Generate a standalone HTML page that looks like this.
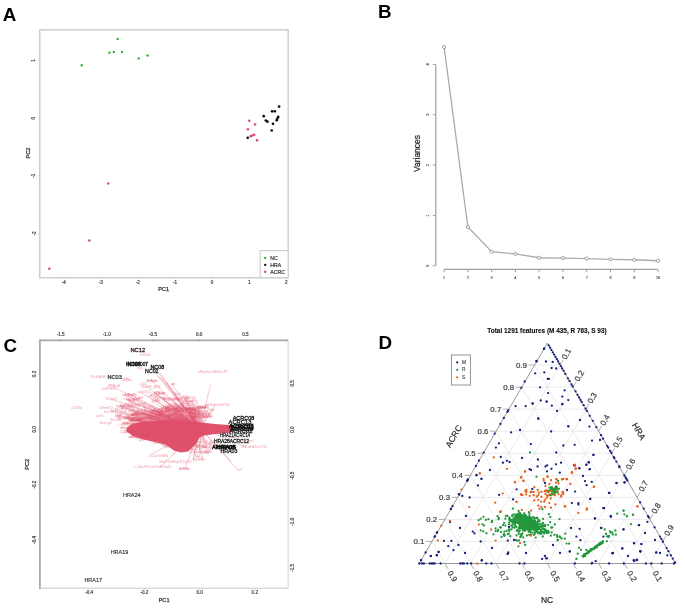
<!DOCTYPE html>
<html><head><meta charset="utf-8"><style>
html,body{margin:0;padding:0;background:#fff;}
svg{display:block;font-family:"Liberation Sans",sans-serif;}
</style></head><body>
<svg width="685" height="614" viewBox="0 0 685 614">
<defs><filter id="bl" x="0" y="0" width="685" height="614" filterUnits="userSpaceOnUse"><feGaussianBlur stdDeviation="0.5"/></filter></defs>
<rect width="685" height="614" fill="#fff"/>
<g filter="url(#bl)">
<rect width="685" height="614" fill="#fff"/>
<text x="2.8" y="20.9" font-size="18.8" font-weight="bold" fill="#000">A</text>
<text x="377.9" y="18.3" font-size="18.8" font-weight="bold" fill="#000">B</text>
<text x="3.6" y="352.0" font-size="18.8" font-weight="bold" fill="#000">C</text>
<rect x="39.7" y="29.8" width="248.50" height="247.90" fill="none" stroke="#cfcfcf" stroke-width="1.5"/>
<line x1="63.70" y1="277.70" x2="63.70" y2="279.30" stroke="#cfcfcf" stroke-width="0.8"/>
<text x="63.70" y="282.40" font-size="4.6" fill="#444" text-anchor="middle" dominant-baseline="central" stroke="#444" stroke-width="0.2">-4</text>
<line x1="100.80" y1="277.70" x2="100.80" y2="279.30" stroke="#cfcfcf" stroke-width="0.8"/>
<text x="100.80" y="282.40" font-size="4.6" fill="#444" text-anchor="middle" dominant-baseline="central" stroke="#444" stroke-width="0.2">-3</text>
<line x1="137.90" y1="277.70" x2="137.90" y2="279.30" stroke="#cfcfcf" stroke-width="0.8"/>
<text x="137.90" y="282.40" font-size="4.6" fill="#444" text-anchor="middle" dominant-baseline="central" stroke="#444" stroke-width="0.2">-2</text>
<line x1="175.00" y1="277.70" x2="175.00" y2="279.30" stroke="#cfcfcf" stroke-width="0.8"/>
<text x="175.00" y="282.40" font-size="4.6" fill="#444" text-anchor="middle" dominant-baseline="central" stroke="#444" stroke-width="0.2">-1</text>
<line x1="212.10" y1="277.70" x2="212.10" y2="279.30" stroke="#cfcfcf" stroke-width="0.8"/>
<text x="212.10" y="282.40" font-size="4.6" fill="#444" text-anchor="middle" dominant-baseline="central" stroke="#444" stroke-width="0.2">0</text>
<line x1="249.20" y1="277.70" x2="249.20" y2="279.30" stroke="#cfcfcf" stroke-width="0.8"/>
<text x="249.20" y="282.40" font-size="4.6" fill="#444" text-anchor="middle" dominant-baseline="central" stroke="#444" stroke-width="0.2">1</text>
<line x1="286.30" y1="277.70" x2="286.30" y2="279.30" stroke="#cfcfcf" stroke-width="0.8"/>
<text x="286.30" y="282.40" font-size="4.6" fill="#444" text-anchor="middle" dominant-baseline="central" stroke="#444" stroke-width="0.2">2</text>
<line x1="38.10" y1="60.40" x2="39.70" y2="60.40" stroke="#cfcfcf" stroke-width="0.8"/>
<text x="34.00" y="60.40" font-size="4.6" fill="#444" text-anchor="middle" dominant-baseline="central" transform="rotate(-90 34.00 60.40)" stroke="#444" stroke-width="0.2">1</text>
<line x1="38.10" y1="118.10" x2="39.70" y2="118.10" stroke="#cfcfcf" stroke-width="0.8"/>
<text x="34.00" y="118.10" font-size="4.6" fill="#444" text-anchor="middle" dominant-baseline="central" transform="rotate(-90 34.00 118.10)" stroke="#444" stroke-width="0.2">0</text>
<line x1="38.10" y1="175.80" x2="39.70" y2="175.80" stroke="#cfcfcf" stroke-width="0.8"/>
<text x="34.00" y="175.80" font-size="4.6" fill="#444" text-anchor="middle" dominant-baseline="central" transform="rotate(-90 34.00 175.80)" stroke="#444" stroke-width="0.2">-1</text>
<line x1="38.10" y1="233.50" x2="39.70" y2="233.50" stroke="#cfcfcf" stroke-width="0.8"/>
<text x="34.00" y="233.50" font-size="4.6" fill="#444" text-anchor="middle" dominant-baseline="central" transform="rotate(-90 34.00 233.50)" stroke="#444" stroke-width="0.2">-2</text>
<text x="163.70" y="289.00" font-size="5.6" fill="#333" text-anchor="middle" dominant-baseline="central" stroke="#333" stroke-width="0.25">PC1</text>
<text x="27.60" y="153.00" font-size="5.6" fill="#333" text-anchor="middle" dominant-baseline="central" transform="rotate(-90 27.60 153.00)" stroke="#333" stroke-width="0.25">PC2</text>
<circle cx="81.70" cy="65.20" r="1.25" fill="#3cb43c"/>
<circle cx="109.40" cy="52.70" r="1.25" fill="#3cb43c"/>
<circle cx="113.80" cy="52.10" r="1.25" fill="#3cb43c"/>
<circle cx="117.60" cy="38.90" r="1.25" fill="#3cb43c"/>
<circle cx="122.00" cy="51.90" r="1.25" fill="#3cb43c"/>
<circle cx="138.70" cy="58.40" r="1.25" fill="#3cb43c"/>
<circle cx="147.60" cy="55.40" r="1.25" fill="#3cb43c"/>
<circle cx="249.30" cy="120.80" r="1.25" fill="#d9476a"/>
<circle cx="255.10" cy="124.40" r="1.25" fill="#d9476a"/>
<circle cx="247.90" cy="129.30" r="1.25" fill="#d9476a"/>
<circle cx="250.60" cy="136.20" r="1.25" fill="#d9476a"/>
<circle cx="252.40" cy="135.50" r="1.25" fill="#d9476a"/>
<circle cx="254.20" cy="134.70" r="1.25" fill="#d9476a"/>
<circle cx="257.00" cy="140.20" r="1.25" fill="#d9476a"/>
<circle cx="108.30" cy="183.60" r="1.25" fill="#d9476a"/>
<circle cx="89.30" cy="240.40" r="1.25" fill="#d9476a"/>
<circle cx="49.30" cy="268.70" r="1.25" fill="#d9476a"/>
<circle cx="279.10" cy="106.60" r="1.35" fill="#111"/>
<circle cx="272.10" cy="111.30" r="1.35" fill="#111"/>
<circle cx="274.80" cy="111.30" r="1.35" fill="#111"/>
<circle cx="263.70" cy="116.20" r="1.35" fill="#111"/>
<circle cx="265.80" cy="120.50" r="1.35" fill="#111"/>
<circle cx="267.40" cy="121.70" r="1.35" fill="#111"/>
<circle cx="278.20" cy="116.90" r="1.35" fill="#111"/>
<circle cx="277.40" cy="118.50" r="1.35" fill="#111"/>
<circle cx="276.70" cy="120.20" r="1.35" fill="#111"/>
<circle cx="273.00" cy="123.80" r="1.35" fill="#111"/>
<circle cx="271.70" cy="130.50" r="1.35" fill="#111"/>
<circle cx="247.70" cy="137.80" r="1.35" fill="#111"/>
<rect x="260.2" y="250.6" width="28.0" height="27.1" fill="#fff" stroke="#cfcfcf" stroke-width="1.2"/>
<circle cx="265.20" cy="258.00" r="1.2" fill="#3cb43c"/>
<text x="270.30" y="258.00" font-size="5.2" fill="#333" text-anchor="start" dominant-baseline="central" stroke="#333" stroke-width="0.2">NC</text>
<circle cx="265.20" cy="264.85" r="1.2" fill="#111"/>
<text x="270.30" y="264.85" font-size="5.2" fill="#333" text-anchor="start" dominant-baseline="central" stroke="#333" stroke-width="0.2">HRA</text>
<circle cx="265.20" cy="271.70" r="1.2" fill="#d9476a"/>
<text x="270.30" y="271.70" font-size="5.2" fill="#333" text-anchor="start" dominant-baseline="central" stroke="#333" stroke-width="0.2">ACRC</text>
<line x1="435.80" y1="64.40" x2="435.80" y2="265.80" stroke="#a0a0a0" stroke-width="1.2"/>
<line x1="432.80" y1="265.80" x2="435.80" y2="265.80" stroke="#a0a0a0" stroke-width="1.0"/>
<text x="428.00" y="265.80" font-size="3.8" fill="#555" text-anchor="middle" dominant-baseline="central" transform="rotate(-90 428.00 265.80)" stroke="#555" stroke-width="0.15">0</text>
<line x1="432.80" y1="215.45" x2="435.80" y2="215.45" stroke="#a0a0a0" stroke-width="1.0"/>
<text x="428.00" y="215.45" font-size="3.8" fill="#555" text-anchor="middle" dominant-baseline="central" transform="rotate(-90 428.00 215.45)" stroke="#555" stroke-width="0.15">1</text>
<line x1="432.80" y1="165.10" x2="435.80" y2="165.10" stroke="#a0a0a0" stroke-width="1.0"/>
<text x="428.00" y="165.10" font-size="3.8" fill="#555" text-anchor="middle" dominant-baseline="central" transform="rotate(-90 428.00 165.10)" stroke="#555" stroke-width="0.15">2</text>
<line x1="432.80" y1="114.75" x2="435.80" y2="114.75" stroke="#a0a0a0" stroke-width="1.0"/>
<text x="428.00" y="114.75" font-size="3.8" fill="#555" text-anchor="middle" dominant-baseline="central" transform="rotate(-90 428.00 114.75)" stroke="#555" stroke-width="0.15">3</text>
<line x1="432.80" y1="64.40" x2="435.80" y2="64.40" stroke="#a0a0a0" stroke-width="1.0"/>
<text x="428.00" y="64.40" font-size="3.8" fill="#555" text-anchor="middle" dominant-baseline="central" transform="rotate(-90 428.00 64.40)" stroke="#555" stroke-width="0.15">4</text>
<line x1="444.10" y1="269.40" x2="658.03" y2="269.40" stroke="#a0a0a0" stroke-width="1.2"/>
<line x1="444.10" y1="269.40" x2="444.10" y2="272.20" stroke="#a0a0a0" stroke-width="1.0"/>
<text x="444.10" y="277.80" font-size="3.8" fill="#555" text-anchor="middle" dominant-baseline="central" stroke="#555" stroke-width="0.15">1</text>
<line x1="467.87" y1="269.40" x2="467.87" y2="272.20" stroke="#a0a0a0" stroke-width="1.0"/>
<text x="467.87" y="277.80" font-size="3.8" fill="#555" text-anchor="middle" dominant-baseline="central" stroke="#555" stroke-width="0.15">2</text>
<line x1="491.64" y1="269.40" x2="491.64" y2="272.20" stroke="#a0a0a0" stroke-width="1.0"/>
<text x="491.64" y="277.80" font-size="3.8" fill="#555" text-anchor="middle" dominant-baseline="central" stroke="#555" stroke-width="0.15">3</text>
<line x1="515.41" y1="269.40" x2="515.41" y2="272.20" stroke="#a0a0a0" stroke-width="1.0"/>
<text x="515.41" y="277.80" font-size="3.8" fill="#555" text-anchor="middle" dominant-baseline="central" stroke="#555" stroke-width="0.15">4</text>
<line x1="539.18" y1="269.40" x2="539.18" y2="272.20" stroke="#a0a0a0" stroke-width="1.0"/>
<text x="539.18" y="277.80" font-size="3.8" fill="#555" text-anchor="middle" dominant-baseline="central" stroke="#555" stroke-width="0.15">5</text>
<line x1="562.95" y1="269.40" x2="562.95" y2="272.20" stroke="#a0a0a0" stroke-width="1.0"/>
<text x="562.95" y="277.80" font-size="3.8" fill="#555" text-anchor="middle" dominant-baseline="central" stroke="#555" stroke-width="0.15">6</text>
<line x1="586.72" y1="269.40" x2="586.72" y2="272.20" stroke="#a0a0a0" stroke-width="1.0"/>
<text x="586.72" y="277.80" font-size="3.8" fill="#555" text-anchor="middle" dominant-baseline="central" stroke="#555" stroke-width="0.15">7</text>
<line x1="610.49" y1="269.40" x2="610.49" y2="272.20" stroke="#a0a0a0" stroke-width="1.0"/>
<text x="610.49" y="277.80" font-size="3.8" fill="#555" text-anchor="middle" dominant-baseline="central" stroke="#555" stroke-width="0.15">8</text>
<line x1="634.26" y1="269.40" x2="634.26" y2="272.20" stroke="#a0a0a0" stroke-width="1.0"/>
<text x="634.26" y="277.80" font-size="3.8" fill="#555" text-anchor="middle" dominant-baseline="central" stroke="#555" stroke-width="0.15">9</text>
<line x1="658.03" y1="269.40" x2="658.03" y2="272.20" stroke="#a0a0a0" stroke-width="1.0"/>
<text x="658.03" y="277.80" font-size="3.8" fill="#555" text-anchor="middle" dominant-baseline="central" stroke="#555" stroke-width="0.15">10</text>
<text x="416.60" y="153.50" font-size="8.5" fill="#222" text-anchor="middle" dominant-baseline="central" transform="rotate(-90 416.60 153.50)" stroke="#222" stroke-width="0.2">Variances</text>
<polyline fill="none" stroke="#ababab" stroke-width="1.3" points="444.10,47.03 467.87,227.03 491.64,251.70 515.41,253.97 539.18,257.74 562.95,258.10 586.72,258.60 610.49,259.30 634.26,259.76 658.03,260.76"/>
<circle cx="444.10" cy="47.03" r="1.6" fill="#fff" stroke="#8a8a8a" stroke-width="0.8"/>
<circle cx="467.87" cy="227.03" r="1.6" fill="#fff" stroke="#8a8a8a" stroke-width="0.8"/>
<circle cx="491.64" cy="251.70" r="1.6" fill="#fff" stroke="#8a8a8a" stroke-width="0.8"/>
<circle cx="515.41" cy="253.97" r="1.6" fill="#fff" stroke="#8a8a8a" stroke-width="0.8"/>
<circle cx="539.18" cy="257.74" r="1.6" fill="#fff" stroke="#8a8a8a" stroke-width="0.8"/>
<circle cx="562.95" cy="258.10" r="1.6" fill="#fff" stroke="#8a8a8a" stroke-width="0.8"/>
<circle cx="586.72" cy="258.60" r="1.6" fill="#fff" stroke="#8a8a8a" stroke-width="0.8"/>
<circle cx="610.49" cy="259.30" r="1.6" fill="#fff" stroke="#8a8a8a" stroke-width="0.8"/>
<circle cx="634.26" cy="259.76" r="1.6" fill="#fff" stroke="#8a8a8a" stroke-width="0.8"/>
<circle cx="658.03" cy="260.76" r="1.6" fill="#fff" stroke="#8a8a8a" stroke-width="0.8"/>
<line x1="39.90" y1="588.30" x2="288.20" y2="588.30" stroke="#dcdcdc" stroke-width="1.5"/>
<line x1="288.20" y1="340.30" x2="288.20" y2="588.30" stroke="#e0e0e0" stroke-width="1.3"/>
<line x1="39.90" y1="340.30" x2="288.20" y2="340.30" stroke="#a6a6a6" stroke-width="1.7"/>
<line x1="39.90" y1="339.50" x2="39.90" y2="589.10" stroke="#a6a6a6" stroke-width="1.7"/>
<line x1="89.20" y1="588.30" x2="89.20" y2="589.80" stroke="#c8c8c8" stroke-width="0.8"/>
<text x="89.20" y="592.80" font-size="4.6" fill="#444" text-anchor="middle" dominant-baseline="central" stroke="#444" stroke-width="0.2">-0.4</text>
<line x1="144.40" y1="588.30" x2="144.40" y2="589.80" stroke="#c8c8c8" stroke-width="0.8"/>
<text x="144.40" y="592.80" font-size="4.6" fill="#444" text-anchor="middle" dominant-baseline="central" stroke="#444" stroke-width="0.2">-0.2</text>
<line x1="199.60" y1="588.30" x2="199.60" y2="589.80" stroke="#c8c8c8" stroke-width="0.8"/>
<text x="199.60" y="592.80" font-size="4.6" fill="#444" text-anchor="middle" dominant-baseline="central" stroke="#444" stroke-width="0.2">0.0</text>
<line x1="254.80" y1="588.30" x2="254.80" y2="589.80" stroke="#c8c8c8" stroke-width="0.8"/>
<text x="254.80" y="592.80" font-size="4.6" fill="#444" text-anchor="middle" dominant-baseline="central" stroke="#444" stroke-width="0.2">0.2</text>
<line x1="38.40" y1="374.00" x2="39.90" y2="374.00" stroke="#a6a6a6" stroke-width="0.8"/>
<text x="34.20" y="374.00" font-size="4.6" fill="#444" text-anchor="middle" dominant-baseline="central" transform="rotate(-90 34.20 374.00)" stroke="#444" stroke-width="0.2">0.2</text>
<line x1="38.40" y1="429.30" x2="39.90" y2="429.30" stroke="#a6a6a6" stroke-width="0.8"/>
<text x="34.20" y="429.30" font-size="4.6" fill="#444" text-anchor="middle" dominant-baseline="central" transform="rotate(-90 34.20 429.30)" stroke="#444" stroke-width="0.2">0.0</text>
<line x1="38.40" y1="484.60" x2="39.90" y2="484.60" stroke="#a6a6a6" stroke-width="0.8"/>
<text x="34.20" y="484.60" font-size="4.6" fill="#444" text-anchor="middle" dominant-baseline="central" transform="rotate(-90 34.20 484.60)" stroke="#444" stroke-width="0.2">-0.2</text>
<line x1="38.40" y1="539.90" x2="39.90" y2="539.90" stroke="#a6a6a6" stroke-width="0.8"/>
<text x="34.20" y="539.90" font-size="4.6" fill="#444" text-anchor="middle" dominant-baseline="central" transform="rotate(-90 34.20 539.90)" stroke="#444" stroke-width="0.2">-0.4</text>
<line x1="60.60" y1="338.80" x2="60.60" y2="340.30" stroke="#a6a6a6" stroke-width="0.8"/>
<text x="60.60" y="334.60" font-size="4.6" fill="#444" text-anchor="middle" dominant-baseline="central" stroke="#444" stroke-width="0.2">-1.5</text>
<line x1="106.80" y1="338.80" x2="106.80" y2="340.30" stroke="#a6a6a6" stroke-width="0.8"/>
<text x="106.80" y="334.60" font-size="4.6" fill="#444" text-anchor="middle" dominant-baseline="central" stroke="#444" stroke-width="0.2">-1.0</text>
<line x1="153.00" y1="338.80" x2="153.00" y2="340.30" stroke="#a6a6a6" stroke-width="0.8"/>
<text x="153.00" y="334.60" font-size="4.6" fill="#444" text-anchor="middle" dominant-baseline="central" stroke="#444" stroke-width="0.2">-0.5</text>
<line x1="199.20" y1="338.80" x2="199.20" y2="340.30" stroke="#a6a6a6" stroke-width="0.8"/>
<text x="199.20" y="334.60" font-size="4.6" fill="#444" text-anchor="middle" dominant-baseline="central" stroke="#444" stroke-width="0.2">0.0</text>
<line x1="245.40" y1="338.80" x2="245.40" y2="340.30" stroke="#a6a6a6" stroke-width="0.8"/>
<text x="245.40" y="334.60" font-size="4.6" fill="#444" text-anchor="middle" dominant-baseline="central" stroke="#444" stroke-width="0.2">0.5</text>
<line x1="288.20" y1="383.40" x2="289.70" y2="383.40" stroke="#d0d0d0" stroke-width="0.8"/>
<text x="292.80" y="383.40" font-size="4.6" fill="#444" text-anchor="middle" dominant-baseline="central" transform="rotate(-90 292.80 383.40)" stroke="#444" stroke-width="0.2">0.5</text>
<line x1="288.20" y1="429.50" x2="289.70" y2="429.50" stroke="#d0d0d0" stroke-width="0.8"/>
<text x="292.80" y="429.50" font-size="4.6" fill="#444" text-anchor="middle" dominant-baseline="central" transform="rotate(-90 292.80 429.50)" stroke="#444" stroke-width="0.2">0.0</text>
<line x1="288.20" y1="475.60" x2="289.70" y2="475.60" stroke="#d0d0d0" stroke-width="0.8"/>
<text x="292.80" y="475.60" font-size="4.6" fill="#444" text-anchor="middle" dominant-baseline="central" transform="rotate(-90 292.80 475.60)" stroke="#444" stroke-width="0.2">-0.5</text>
<line x1="288.20" y1="521.70" x2="289.70" y2="521.70" stroke="#d0d0d0" stroke-width="0.8"/>
<text x="292.80" y="521.70" font-size="4.6" fill="#444" text-anchor="middle" dominant-baseline="central" transform="rotate(-90 292.80 521.70)" stroke="#444" stroke-width="0.2">-1.0</text>
<line x1="288.20" y1="567.80" x2="289.70" y2="567.80" stroke="#d0d0d0" stroke-width="0.8"/>
<text x="292.80" y="567.80" font-size="4.6" fill="#444" text-anchor="middle" dominant-baseline="central" transform="rotate(-90 292.80 567.80)" stroke="#444" stroke-width="0.2">-1.5</text>
<text x="164.10" y="600.00" font-size="5.6" fill="#333" text-anchor="middle" dominant-baseline="central" stroke="#333" stroke-width="0.25">PC1</text>
<text x="27.30" y="464.20" font-size="5.6" fill="#333" text-anchor="middle" dominant-baseline="central" transform="rotate(-90 27.30 464.20)" stroke="#333" stroke-width="0.25">PC2</text>
<polygon fill="#DF536B" points="127.5,427.0 133.0,423.5 145.0,421.6 165.0,420.6 185.0,420.8 199.0,422.2 215.3,424.0 232.0,425.3 236.0,428.5 233.0,431.5 229.2,432.7 215.3,434.0 204.0,435.5 199.5,437.5 195.5,444.5 188.0,451.5 181.0,452.5 173.7,450.5 166.0,444.5 150.0,441.0 143.2,439.6 132.0,435.5 126.0,431.0"/>
<line x1="200.0" y1="428.0" x2="151.0" y2="410.4" stroke="#DF536B" stroke-width="0.35" stroke-opacity="0.4"/>
<line x1="200.0" y1="428.0" x2="195.8" y2="407.4" stroke="#DF536B" stroke-width="0.35" stroke-opacity="0.4"/>
<line x1="200.0" y1="428.0" x2="156.2" y2="411.2" stroke="#DF536B" stroke-width="0.35" stroke-opacity="0.4"/>
<line x1="200.0" y1="428.0" x2="125.5" y2="408.9" stroke="#DF536B" stroke-width="0.35" stroke-opacity="0.4"/>
<line x1="200.0" y1="428.0" x2="116.6" y2="418.1" stroke="#DF536B" stroke-width="0.35" stroke-opacity="0.4"/>
<line x1="200.0" y1="428.0" x2="173.9" y2="394.3" stroke="#DF536B" stroke-width="0.35" stroke-opacity="0.4"/>
<line x1="200.0" y1="428.0" x2="170.1" y2="412.1" stroke="#DF536B" stroke-width="0.35" stroke-opacity="0.4"/>
<line x1="200.0" y1="428.0" x2="158.2" y2="394.8" stroke="#DF536B" stroke-width="0.35" stroke-opacity="0.4"/>
<line x1="200.0" y1="428.0" x2="126.1" y2="400.5" stroke="#DF536B" stroke-width="0.35" stroke-opacity="0.4"/>
<line x1="200.0" y1="428.0" x2="157.3" y2="412.8" stroke="#DF536B" stroke-width="0.35" stroke-opacity="0.4"/>
<line x1="200.0" y1="428.0" x2="155.5" y2="413.5" stroke="#DF536B" stroke-width="0.35" stroke-opacity="0.4"/>
<line x1="200.0" y1="428.0" x2="151.4" y2="401.6" stroke="#DF536B" stroke-width="0.35" stroke-opacity="0.4"/>
<line x1="200.0" y1="428.0" x2="187.8" y2="414.9" stroke="#DF536B" stroke-width="0.35" stroke-opacity="0.4"/>
<line x1="200.0" y1="428.0" x2="138.0" y2="400.1" stroke="#DF536B" stroke-width="0.35" stroke-opacity="0.4"/>
<line x1="200.0" y1="428.0" x2="180.8" y2="405.4" stroke="#DF536B" stroke-width="0.35" stroke-opacity="0.4"/>
<line x1="200.0" y1="428.0" x2="188.4" y2="405.0" stroke="#DF536B" stroke-width="0.35" stroke-opacity="0.4"/>
<line x1="200.0" y1="428.0" x2="194.5" y2="407.6" stroke="#DF536B" stroke-width="0.35" stroke-opacity="0.4"/>
<line x1="200.0" y1="428.0" x2="114.9" y2="412.5" stroke="#DF536B" stroke-width="0.35" stroke-opacity="0.4"/>
<line x1="200.0" y1="428.0" x2="182.0" y2="401.4" stroke="#DF536B" stroke-width="0.35" stroke-opacity="0.4"/>
<line x1="200.0" y1="428.0" x2="199.6" y2="416.5" stroke="#DF536B" stroke-width="0.35" stroke-opacity="0.4"/>
<line x1="200.0" y1="428.0" x2="183.7" y2="398.5" stroke="#DF536B" stroke-width="0.35" stroke-opacity="0.4"/>
<line x1="200.0" y1="428.0" x2="161.1" y2="406.9" stroke="#DF536B" stroke-width="0.35" stroke-opacity="0.4"/>
<line x1="200.0" y1="428.0" x2="126.1" y2="415.7" stroke="#DF536B" stroke-width="0.35" stroke-opacity="0.4"/>
<line x1="200.0" y1="428.0" x2="120.4" y2="413.0" stroke="#DF536B" stroke-width="0.35" stroke-opacity="0.4"/>
<line x1="200.0" y1="428.0" x2="119.1" y2="406.0" stroke="#DF536B" stroke-width="0.35" stroke-opacity="0.4"/>
<line x1="200.0" y1="428.0" x2="128.2" y2="401.4" stroke="#DF536B" stroke-width="0.35" stroke-opacity="0.4"/>
<line x1="200.0" y1="428.0" x2="200.2" y2="417.9" stroke="#DF536B" stroke-width="0.35" stroke-opacity="0.4"/>
<line x1="200.0" y1="428.0" x2="136.9" y2="420.4" stroke="#DF536B" stroke-width="0.35" stroke-opacity="0.4"/>
<line x1="200.0" y1="428.0" x2="128.0" y2="405.2" stroke="#DF536B" stroke-width="0.35" stroke-opacity="0.4"/>
<line x1="200.0" y1="428.0" x2="189.2" y2="412.9" stroke="#DF536B" stroke-width="0.35" stroke-opacity="0.4"/>
<line x1="200.0" y1="428.0" x2="128.3" y2="401.0" stroke="#DF536B" stroke-width="0.35" stroke-opacity="0.4"/>
<line x1="200.0" y1="428.0" x2="181.4" y2="403.2" stroke="#DF536B" stroke-width="0.35" stroke-opacity="0.4"/>
<line x1="200.0" y1="428.0" x2="116.6" y2="411.1" stroke="#DF536B" stroke-width="0.35" stroke-opacity="0.4"/>
<line x1="200.0" y1="428.0" x2="131.1" y2="411.6" stroke="#DF536B" stroke-width="0.35" stroke-opacity="0.4"/>
<line x1="200.0" y1="428.0" x2="143.3" y2="407.0" stroke="#DF536B" stroke-width="0.35" stroke-opacity="0.4"/>
<line x1="200.0" y1="428.0" x2="199.1" y2="408.0" stroke="#DF536B" stroke-width="0.35" stroke-opacity="0.4"/>
<line x1="200.0" y1="428.0" x2="131.7" y2="398.9" stroke="#DF536B" stroke-width="0.35" stroke-opacity="0.4"/>
<line x1="200.0" y1="428.0" x2="126.7" y2="422.5" stroke="#DF536B" stroke-width="0.35" stroke-opacity="0.4"/>
<line x1="200.0" y1="428.0" x2="191.8" y2="411.7" stroke="#DF536B" stroke-width="0.35" stroke-opacity="0.4"/>
<line x1="200.0" y1="428.0" x2="148.0" y2="396.2" stroke="#DF536B" stroke-width="0.35" stroke-opacity="0.4"/>
<line x1="200.0" y1="428.0" x2="130.6" y2="414.8" stroke="#DF536B" stroke-width="0.35" stroke-opacity="0.4"/>
<line x1="200.0" y1="428.0" x2="132.4" y2="418.5" stroke="#DF536B" stroke-width="0.35" stroke-opacity="0.4"/>
<line x1="200.0" y1="428.0" x2="164.7" y2="402.1" stroke="#DF536B" stroke-width="0.35" stroke-opacity="0.4"/>
<line x1="200.0" y1="428.0" x2="124.7" y2="415.3" stroke="#DF536B" stroke-width="0.35" stroke-opacity="0.4"/>
<line x1="200.0" y1="428.0" x2="166.4" y2="401.7" stroke="#DF536B" stroke-width="0.35" stroke-opacity="0.4"/>
<line x1="200.0" y1="428.0" x2="150.3" y2="394.9" stroke="#DF536B" stroke-width="0.35" stroke-opacity="0.4"/>
<line x1="200.0" y1="428.0" x2="124.7" y2="404.4" stroke="#DF536B" stroke-width="0.35" stroke-opacity="0.4"/>
<line x1="200.0" y1="428.0" x2="162.4" y2="397.1" stroke="#DF536B" stroke-width="0.35" stroke-opacity="0.4"/>
<line x1="200.0" y1="428.0" x2="201.1" y2="413.4" stroke="#DF536B" stroke-width="0.35" stroke-opacity="0.4"/>
<line x1="200.0" y1="428.0" x2="173.7" y2="411.1" stroke="#DF536B" stroke-width="0.35" stroke-opacity="0.4"/>
<line x1="200.0" y1="428.0" x2="153.8" y2="415.6" stroke="#DF536B" stroke-width="0.35" stroke-opacity="0.4"/>
<line x1="200.0" y1="428.0" x2="115.1" y2="409.9" stroke="#DF536B" stroke-width="0.35" stroke-opacity="0.4"/>
<line x1="200.0" y1="428.0" x2="178.0" y2="414.8" stroke="#DF536B" stroke-width="0.35" stroke-opacity="0.4"/>
<line x1="200.0" y1="428.0" x2="141.4" y2="414.2" stroke="#DF536B" stroke-width="0.35" stroke-opacity="0.4"/>
<line x1="200.0" y1="428.0" x2="147.6" y2="417.5" stroke="#DF536B" stroke-width="0.35" stroke-opacity="0.4"/>
<line x1="200.0" y1="428.0" x2="190.0" y2="410.8" stroke="#DF536B" stroke-width="0.35" stroke-opacity="0.4"/>
<line x1="200.0" y1="428.0" x2="167.4" y2="404.9" stroke="#DF536B" stroke-width="0.35" stroke-opacity="0.4"/>
<line x1="200.0" y1="428.0" x2="163.4" y2="411.9" stroke="#DF536B" stroke-width="0.35" stroke-opacity="0.4"/>
<line x1="200.0" y1="428.0" x2="115.6" y2="412.8" stroke="#DF536B" stroke-width="0.35" stroke-opacity="0.4"/>
<line x1="200.0" y1="428.0" x2="177.2" y2="405.0" stroke="#DF536B" stroke-width="0.35" stroke-opacity="0.4"/>
<line x1="200.0" y1="428.0" x2="177.8" y2="411.0" stroke="#DF536B" stroke-width="0.35" stroke-opacity="0.4"/>
<line x1="200.0" y1="428.0" x2="116.0" y2="416.3" stroke="#DF536B" stroke-width="0.35" stroke-opacity="0.4"/>
<line x1="200.0" y1="428.0" x2="110.8" y2="411.6" stroke="#DF536B" stroke-width="0.35" stroke-opacity="0.4"/>
<line x1="200.0" y1="428.0" x2="153.7" y2="400.1" stroke="#DF536B" stroke-width="0.35" stroke-opacity="0.4"/>
<line x1="200.0" y1="428.0" x2="174.3" y2="408.4" stroke="#DF536B" stroke-width="0.35" stroke-opacity="0.4"/>
<line x1="200.0" y1="428.0" x2="136.6" y2="414.0" stroke="#DF536B" stroke-width="0.35" stroke-opacity="0.4"/>
<line x1="200.0" y1="428.0" x2="194.0" y2="413.5" stroke="#DF536B" stroke-width="0.35" stroke-opacity="0.4"/>
<line x1="200.0" y1="428.0" x2="139.1" y2="413.6" stroke="#DF536B" stroke-width="0.35" stroke-opacity="0.4"/>
<line x1="200.0" y1="428.0" x2="126.9" y2="406.4" stroke="#DF536B" stroke-width="0.35" stroke-opacity="0.4"/>
<line x1="200.0" y1="428.0" x2="191.6" y2="404.9" stroke="#DF536B" stroke-width="0.35" stroke-opacity="0.4"/>
<line x1="200.0" y1="428.0" x2="163.4" y2="402.8" stroke="#DF536B" stroke-width="0.35" stroke-opacity="0.4"/>
<line x1="200.0" y1="428.0" x2="120.9" y2="408.4" stroke="#DF536B" stroke-width="0.35" stroke-opacity="0.4"/>
<line x1="200.0" y1="428.0" x2="134.3" y2="398.2" stroke="#DF536B" stroke-width="0.35" stroke-opacity="0.4"/>
<line x1="200.0" y1="428.0" x2="150.8" y2="401.5" stroke="#DF536B" stroke-width="0.35" stroke-opacity="0.4"/>
<line x1="200.0" y1="428.0" x2="128.3" y2="405.8" stroke="#DF536B" stroke-width="0.35" stroke-opacity="0.4"/>
<line x1="200.0" y1="428.0" x2="167.4" y2="408.3" stroke="#DF536B" stroke-width="0.35" stroke-opacity="0.4"/>
<line x1="200.0" y1="428.0" x2="138.0" y2="419.0" stroke="#DF536B" stroke-width="0.35" stroke-opacity="0.4"/>
<line x1="200.0" y1="428.0" x2="175.3" y2="410.7" stroke="#DF536B" stroke-width="0.35" stroke-opacity="0.4"/>
<line x1="200.0" y1="428.0" x2="137.4" y2="417.5" stroke="#DF536B" stroke-width="0.35" stroke-opacity="0.4"/>
<line x1="200.0" y1="428.0" x2="186.8" y2="400.4" stroke="#DF536B" stroke-width="0.35" stroke-opacity="0.4"/>
<line x1="200.0" y1="428.0" x2="167.8" y2="406.8" stroke="#DF536B" stroke-width="0.35" stroke-opacity="0.4"/>
<line x1="200.0" y1="428.0" x2="167.8" y2="413.3" stroke="#DF536B" stroke-width="0.35" stroke-opacity="0.4"/>
<line x1="200.0" y1="428.0" x2="173.0" y2="399.2" stroke="#DF536B" stroke-width="0.35" stroke-opacity="0.4"/>
<line x1="200.0" y1="428.0" x2="153.1" y2="398.5" stroke="#DF536B" stroke-width="0.35" stroke-opacity="0.4"/>
<line x1="200.0" y1="428.0" x2="175.8" y2="398.6" stroke="#DF536B" stroke-width="0.35" stroke-opacity="0.4"/>
<line x1="200.0" y1="428.0" x2="133.9" y2="403.7" stroke="#DF536B" stroke-width="0.35" stroke-opacity="0.4"/>
<line x1="200.0" y1="428.0" x2="174.2" y2="409.1" stroke="#DF536B" stroke-width="0.35" stroke-opacity="0.4"/>
<line x1="200.0" y1="428.0" x2="166.4" y2="416.4" stroke="#DF536B" stroke-width="0.35" stroke-opacity="0.4"/>
<line x1="200.0" y1="428.0" x2="145.4" y2="417.5" stroke="#DF536B" stroke-width="0.35" stroke-opacity="0.4"/>
<line x1="200.0" y1="428.0" x2="196.6" y2="415.4" stroke="#DF536B" stroke-width="0.35" stroke-opacity="0.4"/>
<line x1="200.0" y1="428.0" x2="120.3" y2="407.1" stroke="#DF536B" stroke-width="0.35" stroke-opacity="0.4"/>
<line x1="200.0" y1="428.0" x2="143.8" y2="410.6" stroke="#DF536B" stroke-width="0.35" stroke-opacity="0.4"/>
<line x1="200.0" y1="428.0" x2="191.5" y2="417.7" stroke="#DF536B" stroke-width="0.35" stroke-opacity="0.4"/>
<line x1="200.0" y1="428.0" x2="197.7" y2="407.4" stroke="#DF536B" stroke-width="0.35" stroke-opacity="0.4"/>
<line x1="200.0" y1="428.0" x2="169.9" y2="399.4" stroke="#DF536B" stroke-width="0.35" stroke-opacity="0.4"/>
<line x1="200.0" y1="428.0" x2="169.0" y2="415.2" stroke="#DF536B" stroke-width="0.35" stroke-opacity="0.4"/>
<line x1="200.0" y1="428.0" x2="128.3" y2="420.9" stroke="#DF536B" stroke-width="0.35" stroke-opacity="0.4"/>
<line x1="200.0" y1="428.0" x2="138.4" y2="421.2" stroke="#DF536B" stroke-width="0.35" stroke-opacity="0.4"/>
<line x1="200.0" y1="428.0" x2="189.3" y2="403.8" stroke="#DF536B" stroke-width="0.35" stroke-opacity="0.4"/>
<line x1="200.0" y1="428.0" x2="115.9" y2="406.7" stroke="#DF536B" stroke-width="0.35" stroke-opacity="0.4"/>
<line x1="200.0" y1="428.0" x2="160.3" y2="416.8" stroke="#DF536B" stroke-width="0.35" stroke-opacity="0.4"/>
<line x1="200.0" y1="428.0" x2="154.3" y2="393.9" stroke="#DF536B" stroke-width="0.35" stroke-opacity="0.4"/>
<line x1="200.0" y1="428.0" x2="184.0" y2="398.4" stroke="#DF536B" stroke-width="0.35" stroke-opacity="0.4"/>
<line x1="200.0" y1="428.0" x2="139.8" y2="417.4" stroke="#DF536B" stroke-width="0.35" stroke-opacity="0.4"/>
<line x1="200.0" y1="428.0" x2="157.1" y2="415.4" stroke="#DF536B" stroke-width="0.35" stroke-opacity="0.4"/>
<line x1="200.0" y1="428.0" x2="187.8" y2="414.4" stroke="#DF536B" stroke-width="0.35" stroke-opacity="0.4"/>
<line x1="200.0" y1="428.0" x2="197.8" y2="408.3" stroke="#DF536B" stroke-width="0.35" stroke-opacity="0.4"/>
<line x1="200.0" y1="428.0" x2="129.0" y2="409.3" stroke="#DF536B" stroke-width="0.35" stroke-opacity="0.4"/>
<line x1="200.0" y1="428.0" x2="135.6" y2="415.6" stroke="#DF536B" stroke-width="0.35" stroke-opacity="0.4"/>
<line x1="200.0" y1="428.0" x2="168.7" y2="409.2" stroke="#DF536B" stroke-width="0.35" stroke-opacity="0.4"/>
<line x1="200.0" y1="428.0" x2="188.1" y2="410.4" stroke="#DF536B" stroke-width="0.35" stroke-opacity="0.4"/>
<line x1="200.0" y1="428.0" x2="137.6" y2="404.8" stroke="#DF536B" stroke-width="0.35" stroke-opacity="0.4"/>
<line x1="200.0" y1="428.0" x2="127.8" y2="419.4" stroke="#DF536B" stroke-width="0.35" stroke-opacity="0.4"/>
<line x1="200.0" y1="428.0" x2="200.0" y2="409.3" stroke="#DF536B" stroke-width="0.35" stroke-opacity="0.4"/>
<line x1="200.0" y1="428.0" x2="162.4" y2="399.2" stroke="#DF536B" stroke-width="0.35" stroke-opacity="0.4"/>
<line x1="200.0" y1="428.0" x2="158.9" y2="408.6" stroke="#DF536B" stroke-width="0.35" stroke-opacity="0.4"/>
<line x1="200.0" y1="428.0" x2="165.5" y2="393.9" stroke="#DF536B" stroke-width="0.35" stroke-opacity="0.4"/>
<line x1="200.0" y1="428.0" x2="200.1" y2="409.0" stroke="#DF536B" stroke-width="0.35" stroke-opacity="0.4"/>
<line x1="200.0" y1="428.0" x2="146.1" y2="417.8" stroke="#DF536B" stroke-width="0.35" stroke-opacity="0.4"/>
<line x1="200.0" y1="428.0" x2="161.5" y2="408.2" stroke="#DF536B" stroke-width="0.35" stroke-opacity="0.4"/>
<line x1="200.0" y1="428.0" x2="176.8" y2="404.9" stroke="#DF536B" stroke-width="0.35" stroke-opacity="0.4"/>
<line x1="200.0" y1="428.0" x2="165.4" y2="409.8" stroke="#DF536B" stroke-width="0.35" stroke-opacity="0.4"/>
<line x1="200.0" y1="428.0" x2="196.8" y2="416.9" stroke="#DF536B" stroke-width="0.35" stroke-opacity="0.4"/>
<line x1="200.0" y1="428.0" x2="145.2" y2="410.6" stroke="#DF536B" stroke-width="0.35" stroke-opacity="0.4"/>
<line x1="200.0" y1="428.0" x2="186.2" y2="416.6" stroke="#DF536B" stroke-width="0.35" stroke-opacity="0.4"/>
<line x1="200.0" y1="428.0" x2="160.7" y2="408.4" stroke="#DF536B" stroke-width="0.35" stroke-opacity="0.4"/>
<line x1="200.0" y1="428.0" x2="139.4" y2="412.7" stroke="#DF536B" stroke-width="0.35" stroke-opacity="0.4"/>
<line x1="200.0" y1="428.0" x2="183.4" y2="404.3" stroke="#DF536B" stroke-width="0.35" stroke-opacity="0.4"/>
<line x1="200.0" y1="428.0" x2="176.5" y2="408.5" stroke="#DF536B" stroke-width="0.35" stroke-opacity="0.4"/>
<line x1="200.0" y1="428.0" x2="151.7" y2="412.7" stroke="#DF536B" stroke-width="0.35" stroke-opacity="0.4"/>
<line x1="200.0" y1="428.0" x2="132.9" y2="414.2" stroke="#DF536B" stroke-width="0.35" stroke-opacity="0.4"/>
<line x1="200.0" y1="428.0" x2="164.8" y2="410.1" stroke="#DF536B" stroke-width="0.35" stroke-opacity="0.4"/>
<line x1="200.0" y1="428.0" x2="153.2" y2="409.8" stroke="#DF536B" stroke-width="0.35" stroke-opacity="0.4"/>
<line x1="200.0" y1="428.0" x2="164.7" y2="406.2" stroke="#DF536B" stroke-width="0.35" stroke-opacity="0.4"/>
<line x1="200.0" y1="428.0" x2="140.3" y2="412.8" stroke="#DF536B" stroke-width="0.35" stroke-opacity="0.4"/>
<line x1="200.0" y1="428.0" x2="172.9" y2="411.4" stroke="#DF536B" stroke-width="0.35" stroke-opacity="0.4"/>
<line x1="200.0" y1="428.0" x2="188.8" y2="412.6" stroke="#DF536B" stroke-width="0.35" stroke-opacity="0.4"/>
<line x1="200.0" y1="428.0" x2="189.3" y2="407.3" stroke="#DF536B" stroke-width="0.35" stroke-opacity="0.4"/>
<line x1="200.0" y1="428.0" x2="180.6" y2="415.3" stroke="#DF536B" stroke-width="0.35" stroke-opacity="0.4"/>
<line x1="200.0" y1="428.0" x2="192.7" y2="408.4" stroke="#DF536B" stroke-width="0.35" stroke-opacity="0.4"/>
<line x1="200.0" y1="428.0" x2="143.0" y2="414.2" stroke="#DF536B" stroke-width="0.35" stroke-opacity="0.4"/>
<line x1="200.0" y1="428.0" x2="187.4" y2="409.9" stroke="#DF536B" stroke-width="0.35" stroke-opacity="0.4"/>
<line x1="200.0" y1="428.0" x2="184.2" y2="405.8" stroke="#DF536B" stroke-width="0.35" stroke-opacity="0.4"/>
<line x1="200.0" y1="428.0" x2="155.2" y2="413.6" stroke="#DF536B" stroke-width="0.35" stroke-opacity="0.4"/>
<line x1="200.0" y1="428.0" x2="176.2" y2="416.8" stroke="#DF536B" stroke-width="0.35" stroke-opacity="0.4"/>
<line x1="200.0" y1="428.0" x2="162.9" y2="414.6" stroke="#DF536B" stroke-width="0.35" stroke-opacity="0.4"/>
<line x1="200.0" y1="428.0" x2="162.7" y2="413.6" stroke="#DF536B" stroke-width="0.35" stroke-opacity="0.4"/>
<line x1="200.0" y1="428.0" x2="166.4" y2="411.2" stroke="#DF536B" stroke-width="0.35" stroke-opacity="0.4"/>
<line x1="200.0" y1="428.0" x2="167.7" y2="406.1" stroke="#DF536B" stroke-width="0.35" stroke-opacity="0.4"/>
<line x1="200.0" y1="428.0" x2="129.6" y2="417.3" stroke="#DF536B" stroke-width="0.35" stroke-opacity="0.4"/>
<line x1="200.0" y1="428.0" x2="159.7" y2="414.7" stroke="#DF536B" stroke-width="0.35" stroke-opacity="0.4"/>
<line x1="200.0" y1="428.0" x2="149.5" y2="410.5" stroke="#DF536B" stroke-width="0.35" stroke-opacity="0.4"/>
<line x1="200.0" y1="428.0" x2="163.6" y2="410.0" stroke="#DF536B" stroke-width="0.35" stroke-opacity="0.4"/>
<line x1="200.0" y1="428.0" x2="170.1" y2="404.2" stroke="#DF536B" stroke-width="0.35" stroke-opacity="0.4"/>
<line x1="200.0" y1="428.0" x2="177.6" y2="415.8" stroke="#DF536B" stroke-width="0.35" stroke-opacity="0.4"/>
<line x1="200.0" y1="428.0" x2="138.6" y2="410.4" stroke="#DF536B" stroke-width="0.35" stroke-opacity="0.4"/>
<line x1="200.0" y1="428.0" x2="180.5" y2="409.7" stroke="#DF536B" stroke-width="0.35" stroke-opacity="0.4"/>
<line x1="200.0" y1="428.0" x2="192.0" y2="415.2" stroke="#DF536B" stroke-width="0.35" stroke-opacity="0.4"/>
<line x1="200.0" y1="428.0" x2="177.9" y2="416.1" stroke="#DF536B" stroke-width="0.35" stroke-opacity="0.4"/>
<line x1="200.0" y1="428.0" x2="172.2" y2="409.7" stroke="#DF536B" stroke-width="0.35" stroke-opacity="0.4"/>
<line x1="200.0" y1="428.0" x2="170.0" y2="411.1" stroke="#DF536B" stroke-width="0.35" stroke-opacity="0.4"/>
<line x1="200.0" y1="428.0" x2="144.4" y2="416.8" stroke="#DF536B" stroke-width="0.35" stroke-opacity="0.4"/>
<line x1="200.0" y1="428.0" x2="180.8" y2="414.9" stroke="#DF536B" stroke-width="0.35" stroke-opacity="0.4"/>
<line x1="200.0" y1="428.0" x2="186.1" y2="409.7" stroke="#DF536B" stroke-width="0.35" stroke-opacity="0.4"/>
<line x1="200.0" y1="428.0" x2="192.2" y2="416.3" stroke="#DF536B" stroke-width="0.35" stroke-opacity="0.4"/>
<line x1="200.0" y1="428.0" x2="177.1" y2="414.7" stroke="#DF536B" stroke-width="0.35" stroke-opacity="0.4"/>
<line x1="200.0" y1="428.0" x2="182.4" y2="409.7" stroke="#DF536B" stroke-width="0.35" stroke-opacity="0.4"/>
<line x1="200.0" y1="428.0" x2="179.2" y2="405.0" stroke="#DF536B" stroke-width="0.35" stroke-opacity="0.4"/>
<line x1="200.0" y1="428.0" x2="150.6" y2="410.6" stroke="#DF536B" stroke-width="0.35" stroke-opacity="0.4"/>
<line x1="200.0" y1="428.0" x2="172.9" y2="412.7" stroke="#DF536B" stroke-width="0.35" stroke-opacity="0.4"/>
<line x1="200.0" y1="428.0" x2="175.0" y2="408.7" stroke="#DF536B" stroke-width="0.35" stroke-opacity="0.4"/>
<line x1="200.0" y1="428.0" x2="174.5" y2="412.0" stroke="#DF536B" stroke-width="0.35" stroke-opacity="0.4"/>
<line x1="200.0" y1="428.0" x2="165.0" y2="409.5" stroke="#DF536B" stroke-width="0.35" stroke-opacity="0.4"/>
<line x1="200.0" y1="428.0" x2="177.6" y2="414.7" stroke="#DF536B" stroke-width="0.35" stroke-opacity="0.4"/>
<line x1="200.0" y1="428.0" x2="171.2" y2="414.3" stroke="#DF536B" stroke-width="0.35" stroke-opacity="0.4"/>
<line x1="200.0" y1="428.0" x2="144.2" y2="409.6" stroke="#DF536B" stroke-width="0.35" stroke-opacity="0.4"/>
<line x1="200.0" y1="428.0" x2="143.8" y2="416.7" stroke="#DF536B" stroke-width="0.35" stroke-opacity="0.4"/>
<line x1="200.0" y1="428.0" x2="166.3" y2="411.1" stroke="#DF536B" stroke-width="0.35" stroke-opacity="0.4"/>
<line x1="200.0" y1="428.0" x2="185.7" y2="405.1" stroke="#DF536B" stroke-width="0.35" stroke-opacity="0.4"/>
<line x1="200.0" y1="428.0" x2="169.8" y2="414.6" stroke="#DF536B" stroke-width="0.35" stroke-opacity="0.4"/>
<line x1="200.0" y1="428.0" x2="120.1" y2="423.7" stroke="#DF536B" stroke-width="0.35" stroke-opacity="0.4"/>
<line x1="200.0" y1="428.0" x2="130.4" y2="415.0" stroke="#DF536B" stroke-width="0.35" stroke-opacity="0.4"/>
<line x1="200.0" y1="428.0" x2="131.2" y2="415.4" stroke="#DF536B" stroke-width="0.35" stroke-opacity="0.4"/>
<line x1="200.0" y1="428.0" x2="171.0" y2="407.1" stroke="#DF536B" stroke-width="0.35" stroke-opacity="0.4"/>
<line x1="200.0" y1="428.0" x2="201.1" y2="414.0" stroke="#DF536B" stroke-width="0.35" stroke-opacity="0.4"/>
<line x1="200.0" y1="428.0" x2="163.4" y2="417.4" stroke="#DF536B" stroke-width="0.35" stroke-opacity="0.4"/>
<line x1="200.0" y1="428.0" x2="148.9" y2="411.4" stroke="#DF536B" stroke-width="0.35" stroke-opacity="0.4"/>
<line x1="200.0" y1="428.0" x2="175.0" y2="416.7" stroke="#DF536B" stroke-width="0.35" stroke-opacity="0.4"/>
<line x1="200.0" y1="428.0" x2="141.5" y2="419.6" stroke="#DF536B" stroke-width="0.35" stroke-opacity="0.4"/>
<line x1="200.0" y1="428.0" x2="130.1" y2="420.3" stroke="#DF536B" stroke-width="0.35" stroke-opacity="0.4"/>
<line x1="200.0" y1="428.0" x2="122.6" y2="423.2" stroke="#DF536B" stroke-width="0.35" stroke-opacity="0.4"/>
<line x1="200.0" y1="428.0" x2="154.7" y2="415.1" stroke="#DF536B" stroke-width="0.35" stroke-opacity="0.4"/>
<line x1="200.0" y1="428.0" x2="181.0" y2="414.9" stroke="#DF536B" stroke-width="0.35" stroke-opacity="0.4"/>
<line x1="200.0" y1="428.0" x2="170.3" y2="408.2" stroke="#DF536B" stroke-width="0.35" stroke-opacity="0.4"/>
<line x1="200.0" y1="428.0" x2="172.2" y2="414.7" stroke="#DF536B" stroke-width="0.35" stroke-opacity="0.4"/>
<line x1="200.0" y1="428.0" x2="163.5" y2="408.4" stroke="#DF536B" stroke-width="0.35" stroke-opacity="0.4"/>
<line x1="200.0" y1="428.0" x2="155.9" y2="418.7" stroke="#DF536B" stroke-width="0.35" stroke-opacity="0.4"/>
<line x1="200.0" y1="428.0" x2="157.0" y2="411.0" stroke="#DF536B" stroke-width="0.35" stroke-opacity="0.4"/>
<line x1="200.0" y1="428.0" x2="168.4" y2="414.0" stroke="#DF536B" stroke-width="0.35" stroke-opacity="0.4"/>
<line x1="200.0" y1="428.0" x2="186.0" y2="416.1" stroke="#DF536B" stroke-width="0.35" stroke-opacity="0.4"/>
<line x1="200.0" y1="428.0" x2="182.1" y2="410.5" stroke="#DF536B" stroke-width="0.35" stroke-opacity="0.4"/>
<line x1="200.0" y1="428.0" x2="126.2" y2="423.0" stroke="#DF536B" stroke-width="0.35" stroke-opacity="0.4"/>
<line x1="200.0" y1="428.0" x2="186.6" y2="417.9" stroke="#DF536B" stroke-width="0.35" stroke-opacity="0.4"/>
<line x1="200.0" y1="428.0" x2="148.3" y2="411.2" stroke="#DF536B" stroke-width="0.35" stroke-opacity="0.4"/>
<line x1="200.0" y1="428.0" x2="177.7" y2="416.7" stroke="#DF536B" stroke-width="0.35" stroke-opacity="0.4"/>
<line x1="200.0" y1="428.0" x2="169.3" y2="418.0" stroke="#DF536B" stroke-width="0.35" stroke-opacity="0.4"/>
<line x1="200.0" y1="428.0" x2="183.8" y2="409.6" stroke="#DF536B" stroke-width="0.35" stroke-opacity="0.4"/>
<line x1="200.0" y1="428.0" x2="140.4" y2="414.1" stroke="#DF536B" stroke-width="0.35" stroke-opacity="0.4"/>
<line x1="200.0" y1="428.0" x2="172.1" y2="407.9" stroke="#DF536B" stroke-width="0.35" stroke-opacity="0.4"/>
<line x1="200.0" y1="428.0" x2="164.7" y2="407.4" stroke="#DF536B" stroke-width="0.35" stroke-opacity="0.4"/>
<line x1="200.0" y1="428.0" x2="123.8" y2="418.8" stroke="#DF536B" stroke-width="0.35" stroke-opacity="0.4"/>
<line x1="200.0" y1="428.0" x2="165.6" y2="418.0" stroke="#DF536B" stroke-width="0.35" stroke-opacity="0.4"/>
<line x1="200.0" y1="428.0" x2="149.6" y2="415.1" stroke="#DF536B" stroke-width="0.35" stroke-opacity="0.4"/>
<line x1="200.0" y1="428.0" x2="135.0" y2="412.5" stroke="#DF536B" stroke-width="0.35" stroke-opacity="0.4"/>
<line x1="200.0" y1="428.0" x2="188.8" y2="417.9" stroke="#DF536B" stroke-width="0.35" stroke-opacity="0.4"/>
<line x1="200.0" y1="428.0" x2="185.2" y2="410.1" stroke="#DF536B" stroke-width="0.35" stroke-opacity="0.4"/>
<line x1="200.0" y1="428.0" x2="154.2" y2="410.9" stroke="#DF536B" stroke-width="0.35" stroke-opacity="0.4"/>
<line x1="200.0" y1="428.0" x2="188.9" y2="413.0" stroke="#DF536B" stroke-width="0.35" stroke-opacity="0.4"/>
<line x1="200.0" y1="428.0" x2="145.3" y2="416.4" stroke="#DF536B" stroke-width="0.35" stroke-opacity="0.4"/>
<line x1="200.0" y1="428.0" x2="154.5" y2="413.0" stroke="#DF536B" stroke-width="0.35" stroke-opacity="0.4"/>
<line x1="200.0" y1="428.0" x2="124.7" y2="422.6" stroke="#DF536B" stroke-width="0.35" stroke-opacity="0.4"/>
<line x1="200.0" y1="428.0" x2="166.8" y2="415.2" stroke="#DF536B" stroke-width="0.35" stroke-opacity="0.4"/>
<line x1="200.0" y1="428.0" x2="177.7" y2="411.7" stroke="#DF536B" stroke-width="0.35" stroke-opacity="0.4"/>
<line x1="200.0" y1="428.0" x2="185.8" y2="407.4" stroke="#DF536B" stroke-width="0.35" stroke-opacity="0.4"/>
<line x1="200.0" y1="428.0" x2="135.2" y2="418.6" stroke="#DF536B" stroke-width="0.35" stroke-opacity="0.4"/>
<line x1="200.0" y1="428.0" x2="181.2" y2="419.2" stroke="#DF536B" stroke-width="0.35" stroke-opacity="0.4"/>
<line x1="200.0" y1="428.0" x2="148.2" y2="419.8" stroke="#DF536B" stroke-width="0.35" stroke-opacity="0.4"/>
<line x1="200.0" y1="428.0" x2="179.8" y2="416.8" stroke="#DF536B" stroke-width="0.35" stroke-opacity="0.4"/>
<line x1="200.0" y1="428.0" x2="198.2" y2="414.3" stroke="#DF536B" stroke-width="0.35" stroke-opacity="0.4"/>
<line x1="200.0" y1="428.0" x2="188.3" y2="411.8" stroke="#DF536B" stroke-width="0.35" stroke-opacity="0.4"/>
<line x1="200.0" y1="428.0" x2="144.6" y2="413.6" stroke="#DF536B" stroke-width="0.35" stroke-opacity="0.4"/>
<line x1="200.0" y1="428.0" x2="138.3" y2="412.9" stroke="#DF536B" stroke-width="0.35" stroke-opacity="0.4"/>
<line x1="200.0" y1="428.0" x2="148.9" y2="412.9" stroke="#DF536B" stroke-width="0.35" stroke-opacity="0.4"/>
<line x1="200.0" y1="428.0" x2="151.6" y2="413.4" stroke="#DF536B" stroke-width="0.35" stroke-opacity="0.4"/>
<line x1="200.0" y1="428.0" x2="133.5" y2="416.7" stroke="#DF536B" stroke-width="0.35" stroke-opacity="0.4"/>
<line x1="200.0" y1="428.0" x2="187.7" y2="416.3" stroke="#DF536B" stroke-width="0.35" stroke-opacity="0.4"/>
<line x1="200.0" y1="428.0" x2="191.3" y2="416.7" stroke="#DF536B" stroke-width="0.35" stroke-opacity="0.4"/>
<line x1="200.0" y1="428.0" x2="131.9" y2="420.4" stroke="#DF536B" stroke-width="0.35" stroke-opacity="0.4"/>
<line x1="200.0" y1="428.0" x2="195.3" y2="411.3" stroke="#DF536B" stroke-width="0.35" stroke-opacity="0.4"/>
<line x1="200.0" y1="428.0" x2="165.0" y2="416.8" stroke="#DF536B" stroke-width="0.35" stroke-opacity="0.4"/>
<line x1="200.0" y1="428.0" x2="203.0" y2="418.4" stroke="#DF536B" stroke-width="0.35" stroke-opacity="0.4"/>
<line x1="200.0" y1="428.0" x2="165.2" y2="421.0" stroke="#DF536B" stroke-width="0.35" stroke-opacity="0.4"/>
<line x1="200.0" y1="428.0" x2="123.6" y2="418.0" stroke="#DF536B" stroke-width="0.35" stroke-opacity="0.4"/>
<line x1="200.0" y1="428.0" x2="128.9" y2="420.2" stroke="#DF536B" stroke-width="0.35" stroke-opacity="0.4"/>
<line x1="200.0" y1="428.0" x2="174.4" y2="410.7" stroke="#DF536B" stroke-width="0.35" stroke-opacity="0.4"/>
<line x1="200.0" y1="428.0" x2="135.8" y2="420.5" stroke="#DF536B" stroke-width="0.35" stroke-opacity="0.4"/>
<line x1="200.0" y1="428.0" x2="162.9" y2="420.5" stroke="#DF536B" stroke-width="0.35" stroke-opacity="0.4"/>
<line x1="200.0" y1="428.0" x2="151.5" y2="412.4" stroke="#DF536B" stroke-width="0.35" stroke-opacity="0.4"/>
<line x1="200.0" y1="428.0" x2="203.1" y2="418.8" stroke="#DF536B" stroke-width="0.35" stroke-opacity="0.4"/>
<line x1="200.0" y1="428.0" x2="160.4" y2="416.2" stroke="#DF536B" stroke-width="0.35" stroke-opacity="0.4"/>
<line x1="200.0" y1="428.0" x2="180.9" y2="419.5" stroke="#DF536B" stroke-width="0.35" stroke-opacity="0.4"/>
<line x1="200.0" y1="428.0" x2="198.3" y2="413.8" stroke="#DF536B" stroke-width="0.35" stroke-opacity="0.4"/>
<line x1="200.0" y1="428.0" x2="190.4" y2="418.7" stroke="#DF536B" stroke-width="0.35" stroke-opacity="0.4"/>
<line x1="200.0" y1="428.0" x2="202.2" y2="418.2" stroke="#DF536B" stroke-width="0.35" stroke-opacity="0.4"/>
<line x1="200.0" y1="428.0" x2="163.1" y2="419.5" stroke="#DF536B" stroke-width="0.35" stroke-opacity="0.4"/>
<line x1="200.0" y1="428.0" x2="188.2" y2="414.0" stroke="#DF536B" stroke-width="0.35" stroke-opacity="0.4"/>
<line x1="200.0" y1="428.0" x2="153.8" y2="408.8" stroke="#DF536B" stroke-width="0.35" stroke-opacity="0.4"/>
<line x1="200.0" y1="428.0" x2="149.8" y2="409.2" stroke="#DF536B" stroke-width="0.35" stroke-opacity="0.4"/>
<line x1="200.0" y1="428.0" x2="134.4" y2="414.1" stroke="#DF536B" stroke-width="0.35" stroke-opacity="0.4"/>
<line x1="200.0" y1="428.0" x2="126.3" y2="418.3" stroke="#DF536B" stroke-width="0.35" stroke-opacity="0.4"/>
<line x1="200.0" y1="428.0" x2="185.8" y2="409.4" stroke="#DF536B" stroke-width="0.35" stroke-opacity="0.4"/>
<line x1="200.0" y1="428.0" x2="137.2" y2="419.6" stroke="#DF536B" stroke-width="0.35" stroke-opacity="0.4"/>
<line x1="200.0" y1="428.0" x2="169.5" y2="410.3" stroke="#DF536B" stroke-width="0.35" stroke-opacity="0.4"/>
<line x1="200.0" y1="428.0" x2="131.5" y2="420.4" stroke="#DF536B" stroke-width="0.35" stroke-opacity="0.4"/>
<line x1="200.0" y1="428.0" x2="144.1" y2="416.4" stroke="#DF536B" stroke-width="0.35" stroke-opacity="0.4"/>
<line x1="200.0" y1="428.0" x2="189.5" y2="415.1" stroke="#DF536B" stroke-width="0.35" stroke-opacity="0.4"/>
<line x1="200.0" y1="428.0" x2="139.4" y2="422.9" stroke="#DF536B" stroke-width="0.35" stroke-opacity="0.4"/>
<line x1="200.0" y1="428.0" x2="198.3" y2="412.5" stroke="#DF536B" stroke-width="0.35" stroke-opacity="0.4"/>
<line x1="200.0" y1="428.0" x2="159.4" y2="410.2" stroke="#DF536B" stroke-width="0.35" stroke-opacity="0.4"/>
<line x1="200.0" y1="428.0" x2="120.5" y2="424.0" stroke="#DF536B" stroke-width="0.35" stroke-opacity="0.4"/>
<line x1="200.0" y1="428.0" x2="188.1" y2="413.3" stroke="#DF536B" stroke-width="0.35" stroke-opacity="0.4"/>
<line x1="200.0" y1="428.0" x2="163.5" y2="415.8" stroke="#DF536B" stroke-width="0.35" stroke-opacity="0.4"/>
<line x1="200.0" y1="428.0" x2="175.2" y2="410.5" stroke="#DF536B" stroke-width="0.35" stroke-opacity="0.4"/>
<line x1="200.0" y1="428.0" x2="149.4" y2="421.1" stroke="#DF536B" stroke-width="0.35" stroke-opacity="0.4"/>
<line x1="200.0" y1="428.0" x2="180.2" y2="417.5" stroke="#DF536B" stroke-width="0.35" stroke-opacity="0.4"/>
<line x1="200.0" y1="428.0" x2="145.0" y2="410.9" stroke="#DF536B" stroke-width="0.35" stroke-opacity="0.4"/>
<line x1="200.0" y1="428.0" x2="194.2" y2="415.8" stroke="#DF536B" stroke-width="0.35" stroke-opacity="0.4"/>
<line x1="200.0" y1="428.0" x2="140.0" y2="416.2" stroke="#DF536B" stroke-width="0.35" stroke-opacity="0.4"/>
<line x1="200.0" y1="428.0" x2="129.6" y2="420.6" stroke="#DF536B" stroke-width="0.35" stroke-opacity="0.4"/>
<line x1="200.0" y1="428.0" x2="180.5" y2="407.8" stroke="#DF536B" stroke-width="0.35" stroke-opacity="0.4"/>
<line x1="200.0" y1="428.0" x2="159.2" y2="414.9" stroke="#DF536B" stroke-width="0.35" stroke-opacity="0.4"/>
<line x1="200.0" y1="428.0" x2="202.0" y2="417.1" stroke="#DF536B" stroke-width="0.35" stroke-opacity="0.4"/>
<line x1="200.0" y1="428.0" x2="193.2" y2="411.8" stroke="#DF536B" stroke-width="0.35" stroke-opacity="0.4"/>
<line x1="200.0" y1="428.0" x2="187.0" y2="413.9" stroke="#DF536B" stroke-width="0.35" stroke-opacity="0.4"/>
<line x1="200.0" y1="428.0" x2="190.4" y2="410.0" stroke="#DF536B" stroke-width="0.35" stroke-opacity="0.4"/>
<line x1="200.0" y1="428.0" x2="164.9" y2="416.0" stroke="#DF536B" stroke-width="0.35" stroke-opacity="0.4"/>
<line x1="200.0" y1="428.0" x2="130.2" y2="421.8" stroke="#DF536B" stroke-width="0.35" stroke-opacity="0.4"/>
<line x1="200.0" y1="428.0" x2="144.0" y2="411.9" stroke="#DF536B" stroke-width="0.35" stroke-opacity="0.4"/>
<line x1="200.0" y1="428.0" x2="158.1" y2="419.6" stroke="#DF536B" stroke-width="0.35" stroke-opacity="0.4"/>
<line x1="200.0" y1="428.0" x2="148.4" y2="419.1" stroke="#DF536B" stroke-width="0.35" stroke-opacity="0.4"/>
<line x1="200.0" y1="428.0" x2="190.7" y2="418.4" stroke="#DF536B" stroke-width="0.35" stroke-opacity="0.4"/>
<line x1="200.0" y1="428.0" x2="179.9" y2="410.5" stroke="#DF536B" stroke-width="0.35" stroke-opacity="0.4"/>
<line x1="200.0" y1="428.0" x2="166.8" y2="414.7" stroke="#DF536B" stroke-width="0.35" stroke-opacity="0.4"/>
<line x1="200.0" y1="428.0" x2="116.9" y2="424.8" stroke="#DF536B" stroke-width="0.35" stroke-opacity="0.4"/>
<line x1="200.0" y1="428.0" x2="188.0" y2="409.9" stroke="#DF536B" stroke-width="0.35" stroke-opacity="0.4"/>
<line x1="200.0" y1="428.0" x2="171.4" y2="411.5" stroke="#DF536B" stroke-width="0.35" stroke-opacity="0.4"/>
<line x1="200.0" y1="428.0" x2="149.8" y2="416.3" stroke="#DF536B" stroke-width="0.35" stroke-opacity="0.4"/>
<line x1="200.0" y1="428.0" x2="142.8" y2="412.4" stroke="#DF536B" stroke-width="0.35" stroke-opacity="0.4"/>
<line x1="200.0" y1="428.0" x2="151.3" y2="418.7" stroke="#DF536B" stroke-width="0.35" stroke-opacity="0.4"/>
<line x1="200.0" y1="428.0" x2="181.8" y2="412.3" stroke="#DF536B" stroke-width="0.35" stroke-opacity="0.4"/>
<line x1="200.0" y1="428.0" x2="201.1" y2="416.7" stroke="#DF536B" stroke-width="0.35" stroke-opacity="0.4"/>
<line x1="200.0" y1="428.0" x2="181.1" y2="412.3" stroke="#DF536B" stroke-width="0.35" stroke-opacity="0.4"/>
<line x1="200.0" y1="428.0" x2="177.0" y2="419.5" stroke="#DF536B" stroke-width="0.35" stroke-opacity="0.4"/>
<line x1="200.0" y1="428.0" x2="132.2" y2="413.6" stroke="#DF536B" stroke-width="0.35" stroke-opacity="0.4"/>
<line x1="200.0" y1="428.0" x2="191.3" y2="417.3" stroke="#DF536B" stroke-width="0.35" stroke-opacity="0.4"/>
<line x1="200.0" y1="428.0" x2="198.9" y2="414.1" stroke="#DF536B" stroke-width="0.35" stroke-opacity="0.4"/>
<line x1="200.0" y1="428.0" x2="162.0" y2="418.3" stroke="#DF536B" stroke-width="0.35" stroke-opacity="0.4"/>
<line x1="200.0" y1="428.0" x2="150.7" y2="412.3" stroke="#DF536B" stroke-width="0.35" stroke-opacity="0.4"/>
<line x1="200.0" y1="428.0" x2="152.1" y2="419.3" stroke="#DF536B" stroke-width="0.35" stroke-opacity="0.4"/>
<line x1="200.0" y1="428.0" x2="204.4" y2="421.0" stroke="#DF536B" stroke-width="0.35" stroke-opacity="0.4"/>
<line x1="200.0" y1="428.0" x2="175.4" y2="417.6" stroke="#DF536B" stroke-width="0.35" stroke-opacity="0.4"/>
<line x1="200.0" y1="428.0" x2="146.8" y2="418.4" stroke="#DF536B" stroke-width="0.35" stroke-opacity="0.4"/>
<line x1="200.0" y1="428.0" x2="161.8" y2="421.0" stroke="#DF536B" stroke-width="0.35" stroke-opacity="0.4"/>
<line x1="200.0" y1="428.0" x2="190.3" y2="417.6" stroke="#DF536B" stroke-width="0.35" stroke-opacity="0.4"/>
<line x1="200.0" y1="428.0" x2="130.3" y2="420.6" stroke="#DF536B" stroke-width="0.35" stroke-opacity="0.4"/>
<line x1="200.0" y1="428.0" x2="197.3" y2="416.4" stroke="#DF536B" stroke-width="0.35" stroke-opacity="0.4"/>
<line x1="200.0" y1="428.0" x2="147.7" y2="415.5" stroke="#DF536B" stroke-width="0.35" stroke-opacity="0.4"/>
<line x1="200.0" y1="428.0" x2="128.8" y2="419.6" stroke="#DF536B" stroke-width="0.35" stroke-opacity="0.4"/>
<line x1="200.0" y1="428.0" x2="172.4" y2="409.8" stroke="#DF536B" stroke-width="0.35" stroke-opacity="0.4"/>
<line x1="200.0" y1="428.0" x2="167.9" y2="419.2" stroke="#DF536B" stroke-width="0.35" stroke-opacity="0.4"/>
<line x1="200.0" y1="428.0" x2="148.5" y2="414.8" stroke="#DF536B" stroke-width="0.35" stroke-opacity="0.4"/>
<line x1="200.0" y1="428.0" x2="128.2" y2="423.2" stroke="#DF536B" stroke-width="0.35" stroke-opacity="0.4"/>
<line x1="200.0" y1="428.0" x2="164.9" y2="416.7" stroke="#DF536B" stroke-width="0.35" stroke-opacity="0.4"/>
<line x1="200.0" y1="428.0" x2="166.4" y2="411.0" stroke="#DF536B" stroke-width="0.35" stroke-opacity="0.4"/>
<line x1="200.0" y1="428.0" x2="189.6" y2="417.4" stroke="#DF536B" stroke-width="0.35" stroke-opacity="0.4"/>
<line x1="200.0" y1="428.0" x2="127.0" y2="421.7" stroke="#DF536B" stroke-width="0.35" stroke-opacity="0.4"/>
<line x1="200.0" y1="428.0" x2="137.7" y2="416.9" stroke="#DF536B" stroke-width="0.35" stroke-opacity="0.4"/>
<line x1="200.0" y1="428.0" x2="190.8" y2="409.5" stroke="#DF536B" stroke-width="0.35" stroke-opacity="0.4"/>
<line x1="200.0" y1="428.0" x2="165.3" y2="407.4" stroke="#DF536B" stroke-width="0.35" stroke-opacity="0.4"/>
<line x1="200.0" y1="428.0" x2="175.3" y2="411.8" stroke="#DF536B" stroke-width="0.35" stroke-opacity="0.4"/>
<line x1="200.0" y1="428.0" x2="176.4" y2="420.0" stroke="#DF536B" stroke-width="0.35" stroke-opacity="0.4"/>
<line x1="200.0" y1="428.0" x2="150.3" y2="417.2" stroke="#DF536B" stroke-width="0.35" stroke-opacity="0.4"/>
<line x1="200.0" y1="428.0" x2="134.0" y2="414.9" stroke="#DF536B" stroke-width="0.35" stroke-opacity="0.4"/>
<line x1="200.0" y1="428.0" x2="167.3" y2="409.3" stroke="#DF536B" stroke-width="0.35" stroke-opacity="0.4"/>
<line x1="200.0" y1="428.0" x2="162.8" y2="411.0" stroke="#DF536B" stroke-width="0.35" stroke-opacity="0.4"/>
<line x1="200.0" y1="428.0" x2="167.1" y2="412.3" stroke="#DF536B" stroke-width="0.35" stroke-opacity="0.4"/>
<line x1="200.0" y1="428.0" x2="173.8" y2="406.7" stroke="#DF536B" stroke-width="0.35" stroke-opacity="0.4"/>
<line x1="200.0" y1="428.0" x2="176.4" y2="408.8" stroke="#DF536B" stroke-width="0.35" stroke-opacity="0.4"/>
<line x1="200.0" y1="428.0" x2="202.3" y2="417.4" stroke="#DF536B" stroke-width="0.35" stroke-opacity="0.4"/>
<line x1="200.0" y1="428.0" x2="158.3" y2="413.8" stroke="#DF536B" stroke-width="0.35" stroke-opacity="0.4"/>
<line x1="200.0" y1="428.0" x2="153.6" y2="443.3" stroke="#DF536B" stroke-width="0.35" stroke-opacity="0.4"/>
<line x1="200.0" y1="428.0" x2="161.2" y2="445.0" stroke="#DF536B" stroke-width="0.35" stroke-opacity="0.4"/>
<line x1="200.0" y1="428.0" x2="165.8" y2="447.9" stroke="#DF536B" stroke-width="0.35" stroke-opacity="0.4"/>
<line x1="200.0" y1="428.0" x2="141.3" y2="436.2" stroke="#DF536B" stroke-width="0.35" stroke-opacity="0.4"/>
<line x1="200.0" y1="428.0" x2="148.0" y2="438.7" stroke="#DF536B" stroke-width="0.35" stroke-opacity="0.4"/>
<line x1="200.0" y1="428.0" x2="159.7" y2="440.7" stroke="#DF536B" stroke-width="0.35" stroke-opacity="0.4"/>
<line x1="200.0" y1="428.0" x2="146.7" y2="435.1" stroke="#DF536B" stroke-width="0.35" stroke-opacity="0.4"/>
<line x1="200.0" y1="428.0" x2="135.5" y2="435.1" stroke="#DF536B" stroke-width="0.35" stroke-opacity="0.4"/>
<line x1="200.0" y1="428.0" x2="131.9" y2="432.4" stroke="#DF536B" stroke-width="0.35" stroke-opacity="0.4"/>
<line x1="200.0" y1="428.0" x2="169.0" y2="446.8" stroke="#DF536B" stroke-width="0.35" stroke-opacity="0.4"/>
<line x1="200.0" y1="428.0" x2="140.6" y2="434.0" stroke="#DF536B" stroke-width="0.35" stroke-opacity="0.4"/>
<line x1="200.0" y1="428.0" x2="135.5" y2="438.0" stroke="#DF536B" stroke-width="0.35" stroke-opacity="0.4"/>
<line x1="200.0" y1="428.0" x2="120.9" y2="427.0" stroke="#DF536B" stroke-width="0.35" stroke-opacity="0.4"/>
<line x1="200.0" y1="428.0" x2="169.3" y2="448.3" stroke="#DF536B" stroke-width="0.35" stroke-opacity="0.4"/>
<line x1="200.0" y1="428.0" x2="130.7" y2="432.6" stroke="#DF536B" stroke-width="0.35" stroke-opacity="0.4"/>
<line x1="200.0" y1="428.0" x2="128.3" y2="430.6" stroke="#DF536B" stroke-width="0.35" stroke-opacity="0.4"/>
<line x1="200.0" y1="428.0" x2="168.4" y2="440.5" stroke="#DF536B" stroke-width="0.35" stroke-opacity="0.4"/>
<line x1="200.0" y1="428.0" x2="131.1" y2="432.4" stroke="#DF536B" stroke-width="0.35" stroke-opacity="0.4"/>
<line x1="200.0" y1="428.0" x2="170.8" y2="442.7" stroke="#DF536B" stroke-width="0.35" stroke-opacity="0.4"/>
<line x1="200.0" y1="428.0" x2="143.1" y2="438.8" stroke="#DF536B" stroke-width="0.35" stroke-opacity="0.4"/>
<line x1="200.0" y1="428.0" x2="123.0" y2="432.0" stroke="#DF536B" stroke-width="0.35" stroke-opacity="0.4"/>
<line x1="200.0" y1="428.0" x2="149.7" y2="442.1" stroke="#DF536B" stroke-width="0.35" stroke-opacity="0.4"/>
<line x1="200.0" y1="428.0" x2="162.6" y2="438.5" stroke="#DF536B" stroke-width="0.35" stroke-opacity="0.4"/>
<line x1="200.0" y1="428.0" x2="157.0" y2="438.6" stroke="#DF536B" stroke-width="0.35" stroke-opacity="0.4"/>
<line x1="200.0" y1="428.0" x2="162.8" y2="446.2" stroke="#DF536B" stroke-width="0.35" stroke-opacity="0.4"/>
<line x1="200.0" y1="428.0" x2="131.4" y2="437.7" stroke="#DF536B" stroke-width="0.35" stroke-opacity="0.4"/>
<line x1="200.0" y1="428.0" x2="152.0" y2="444.0" stroke="#DF536B" stroke-width="0.35" stroke-opacity="0.4"/>
<line x1="200.0" y1="428.0" x2="128.3" y2="428.3" stroke="#DF536B" stroke-width="0.35" stroke-opacity="0.4"/>
<line x1="200.0" y1="428.0" x2="142.8" y2="436.4" stroke="#DF536B" stroke-width="0.35" stroke-opacity="0.4"/>
<line x1="200.0" y1="428.0" x2="150.4" y2="439.2" stroke="#DF536B" stroke-width="0.35" stroke-opacity="0.4"/>
<line x1="200.0" y1="428.0" x2="126.3" y2="432.7" stroke="#DF536B" stroke-width="0.35" stroke-opacity="0.4"/>
<line x1="200.0" y1="428.0" x2="120.4" y2="432.8" stroke="#DF536B" stroke-width="0.35" stroke-opacity="0.4"/>
<line x1="200.0" y1="428.0" x2="153.4" y2="438.7" stroke="#DF536B" stroke-width="0.35" stroke-opacity="0.4"/>
<line x1="200.0" y1="428.0" x2="127.8" y2="431.1" stroke="#DF536B" stroke-width="0.35" stroke-opacity="0.4"/>
<line x1="200.0" y1="428.0" x2="165.4" y2="446.0" stroke="#DF536B" stroke-width="0.35" stroke-opacity="0.4"/>
<line x1="200.0" y1="428.0" x2="138.8" y2="430.1" stroke="#DF536B" stroke-width="0.35" stroke-opacity="0.4"/>
<line x1="200.0" y1="428.0" x2="120.2" y2="430.7" stroke="#DF536B" stroke-width="0.35" stroke-opacity="0.4"/>
<line x1="200.0" y1="428.0" x2="140.4" y2="432.3" stroke="#DF536B" stroke-width="0.35" stroke-opacity="0.4"/>
<line x1="200.0" y1="428.0" x2="161.5" y2="444.6" stroke="#DF536B" stroke-width="0.35" stroke-opacity="0.4"/>
<line x1="200.0" y1="428.0" x2="131.1" y2="431.1" stroke="#DF536B" stroke-width="0.35" stroke-opacity="0.4"/>
<line x1="200.0" y1="428.0" x2="138.7" y2="433.4" stroke="#DF536B" stroke-width="0.35" stroke-opacity="0.4"/>
<line x1="200.0" y1="428.0" x2="167.3" y2="440.5" stroke="#DF536B" stroke-width="0.35" stroke-opacity="0.4"/>
<line x1="200.0" y1="428.0" x2="130.3" y2="433.7" stroke="#DF536B" stroke-width="0.35" stroke-opacity="0.4"/>
<line x1="200.0" y1="428.0" x2="127.3" y2="429.7" stroke="#DF536B" stroke-width="0.35" stroke-opacity="0.4"/>
<line x1="200.0" y1="428.0" x2="130.2" y2="437.1" stroke="#DF536B" stroke-width="0.35" stroke-opacity="0.4"/>
<line x1="200.0" y1="428.0" x2="135.6" y2="436.5" stroke="#DF536B" stroke-width="0.35" stroke-opacity="0.4"/>
<line x1="200.0" y1="428.0" x2="128.4" y2="431.3" stroke="#DF536B" stroke-width="0.35" stroke-opacity="0.4"/>
<line x1="200.0" y1="428.0" x2="138.6" y2="428.3" stroke="#DF536B" stroke-width="0.35" stroke-opacity="0.4"/>
<line x1="200.0" y1="428.0" x2="161.6" y2="444.3" stroke="#DF536B" stroke-width="0.35" stroke-opacity="0.4"/>
<line x1="200.0" y1="428.0" x2="136.4" y2="434.8" stroke="#DF536B" stroke-width="0.35" stroke-opacity="0.4"/>
<line x1="200.0" y1="428.0" x2="140.5" y2="430.7" stroke="#DF536B" stroke-width="0.35" stroke-opacity="0.4"/>
<line x1="200.0" y1="428.0" x2="120.3" y2="428.2" stroke="#DF536B" stroke-width="0.35" stroke-opacity="0.4"/>
<line x1="200.0" y1="428.0" x2="135.8" y2="435.9" stroke="#DF536B" stroke-width="0.35" stroke-opacity="0.4"/>
<line x1="200.0" y1="428.0" x2="159.4" y2="442.7" stroke="#DF536B" stroke-width="0.35" stroke-opacity="0.4"/>
<line x1="200.0" y1="428.0" x2="126.4" y2="429.7" stroke="#DF536B" stroke-width="0.35" stroke-opacity="0.4"/>
<line x1="200.0" y1="428.0" x2="141.1" y2="434.8" stroke="#DF536B" stroke-width="0.35" stroke-opacity="0.4"/>
<line x1="200.0" y1="428.0" x2="134.6" y2="433.7" stroke="#DF536B" stroke-width="0.35" stroke-opacity="0.4"/>
<line x1="200.0" y1="428.0" x2="142.4" y2="435.0" stroke="#DF536B" stroke-width="0.35" stroke-opacity="0.4"/>
<line x1="200.0" y1="428.0" x2="136.7" y2="437.9" stroke="#DF536B" stroke-width="0.35" stroke-opacity="0.4"/>
<line x1="200.0" y1="428.0" x2="133.9" y2="428.4" stroke="#DF536B" stroke-width="0.35" stroke-opacity="0.4"/>
<line x1="200.0" y1="428.0" x2="140.9" y2="437.3" stroke="#DF536B" stroke-width="0.35" stroke-opacity="0.4"/>
<line x1="200.0" y1="428.0" x2="131.7" y2="426.6" stroke="#DF536B" stroke-width="0.35" stroke-opacity="0.4"/>
<line x1="200.0" y1="428.0" x2="137.5" y2="435.8" stroke="#DF536B" stroke-width="0.35" stroke-opacity="0.4"/>
<line x1="200.0" y1="428.0" x2="158.0" y2="439.5" stroke="#DF536B" stroke-width="0.35" stroke-opacity="0.4"/>
<line x1="200.0" y1="428.0" x2="140.3" y2="434.2" stroke="#DF536B" stroke-width="0.35" stroke-opacity="0.4"/>
<line x1="200.0" y1="428.0" x2="151.4" y2="437.1" stroke="#DF536B" stroke-width="0.35" stroke-opacity="0.4"/>
<line x1="200.0" y1="428.0" x2="136.6" y2="431.1" stroke="#DF536B" stroke-width="0.35" stroke-opacity="0.4"/>
<line x1="200.0" y1="428.0" x2="168.8" y2="439.8" stroke="#DF536B" stroke-width="0.35" stroke-opacity="0.4"/>
<line x1="200.0" y1="428.0" x2="128.6" y2="437.1" stroke="#DF536B" stroke-width="0.35" stroke-opacity="0.4"/>
<line x1="200.0" y1="428.0" x2="138.7" y2="440.1" stroke="#DF536B" stroke-width="0.35" stroke-opacity="0.4"/>
<line x1="200.0" y1="428.0" x2="203.2" y2="452.8" stroke="#DF536B" stroke-width="0.35" stroke-opacity="0.4"/>
<line x1="200.0" y1="428.0" x2="196.9" y2="447.2" stroke="#DF536B" stroke-width="0.35" stroke-opacity="0.4"/>
<line x1="200.0" y1="428.0" x2="193.0" y2="458.4" stroke="#DF536B" stroke-width="0.35" stroke-opacity="0.4"/>
<line x1="200.0" y1="428.0" x2="210.5" y2="446.3" stroke="#DF536B" stroke-width="0.35" stroke-opacity="0.4"/>
<line x1="200.0" y1="428.0" x2="188.9" y2="449.7" stroke="#DF536B" stroke-width="0.35" stroke-opacity="0.4"/>
<line x1="200.0" y1="428.0" x2="193.9" y2="445.7" stroke="#DF536B" stroke-width="0.35" stroke-opacity="0.4"/>
<line x1="200.0" y1="428.0" x2="190.6" y2="442.2" stroke="#DF536B" stroke-width="0.35" stroke-opacity="0.4"/>
<line x1="200.0" y1="428.0" x2="204.7" y2="442.3" stroke="#DF536B" stroke-width="0.35" stroke-opacity="0.4"/>
<line x1="200.0" y1="428.0" x2="196.4" y2="442.5" stroke="#DF536B" stroke-width="0.35" stroke-opacity="0.4"/>
<line x1="200.0" y1="428.0" x2="199.3" y2="453.6" stroke="#DF536B" stroke-width="0.35" stroke-opacity="0.4"/>
<line x1="200.0" y1="428.0" x2="200.9" y2="452.9" stroke="#DF536B" stroke-width="0.35" stroke-opacity="0.4"/>
<line x1="200.0" y1="428.0" x2="201.3" y2="458.4" stroke="#DF536B" stroke-width="0.35" stroke-opacity="0.4"/>
<line x1="200.0" y1="428.0" x2="194.1" y2="455.3" stroke="#DF536B" stroke-width="0.35" stroke-opacity="0.4"/>
<line x1="200.0" y1="428.0" x2="205.2" y2="454.5" stroke="#DF536B" stroke-width="0.35" stroke-opacity="0.4"/>
<line x1="200.0" y1="428.0" x2="189.6" y2="452.8" stroke="#DF536B" stroke-width="0.35" stroke-opacity="0.4"/>
<line x1="200.0" y1="428.0" x2="199.2" y2="451.2" stroke="#DF536B" stroke-width="0.35" stroke-opacity="0.4"/>
<line x1="200.0" y1="428.0" x2="195.7" y2="443.7" stroke="#DF536B" stroke-width="0.35" stroke-opacity="0.4"/>
<line x1="200.0" y1="428.0" x2="206.7" y2="450.4" stroke="#DF536B" stroke-width="0.35" stroke-opacity="0.4"/>
<line x1="200.0" y1="428.0" x2="191.9" y2="442.7" stroke="#DF536B" stroke-width="0.35" stroke-opacity="0.4"/>
<line x1="200.0" y1="428.0" x2="194.4" y2="440.8" stroke="#DF536B" stroke-width="0.35" stroke-opacity="0.4"/>
<line x1="200.0" y1="428.0" x2="199.9" y2="439.4" stroke="#DF536B" stroke-width="0.35" stroke-opacity="0.4"/>
<line x1="200.0" y1="428.0" x2="188.3" y2="448.2" stroke="#DF536B" stroke-width="0.35" stroke-opacity="0.4"/>
<line x1="200.0" y1="428.0" x2="207.4" y2="449.0" stroke="#DF536B" stroke-width="0.35" stroke-opacity="0.4"/>
<line x1="200.0" y1="428.0" x2="192.4" y2="449.7" stroke="#DF536B" stroke-width="0.35" stroke-opacity="0.4"/>
<line x1="200.0" y1="428.0" x2="208.1" y2="446.6" stroke="#DF536B" stroke-width="0.35" stroke-opacity="0.4"/>
<line x1="200.0" y1="428.0" x2="205.8" y2="442.8" stroke="#DF536B" stroke-width="0.35" stroke-opacity="0.4"/>
<line x1="200.0" y1="428.0" x2="205.8" y2="444.8" stroke="#DF536B" stroke-width="0.35" stroke-opacity="0.4"/>
<line x1="200.0" y1="428.0" x2="194.7" y2="456.5" stroke="#DF536B" stroke-width="0.35" stroke-opacity="0.4"/>
<line x1="200.0" y1="428.0" x2="201.5" y2="447.4" stroke="#DF536B" stroke-width="0.35" stroke-opacity="0.4"/>
<line x1="200.0" y1="428.0" x2="205.5" y2="452.8" stroke="#DF536B" stroke-width="0.35" stroke-opacity="0.4"/>
<line x1="200.0" y1="428.0" x2="209.1" y2="457.6" stroke="#DF536B" stroke-width="0.35" stroke-opacity="0.4"/>
<line x1="200.0" y1="428.0" x2="188.6" y2="446.2" stroke="#DF536B" stroke-width="0.35" stroke-opacity="0.4"/>
<line x1="200.0" y1="428.0" x2="204.4" y2="442.2" stroke="#DF536B" stroke-width="0.35" stroke-opacity="0.4"/>
<line x1="200.0" y1="428.0" x2="202.0" y2="461.4" stroke="#DF536B" stroke-width="0.35" stroke-opacity="0.4"/>
<line x1="200.0" y1="428.0" x2="204.9" y2="447.3" stroke="#DF536B" stroke-width="0.35" stroke-opacity="0.4"/>
<text x="195.8" y="407.4" font-size="2.7" fill="#DF536B" fill-opacity="0.65" dominant-baseline="central" textLength="13.0" lengthAdjust="spacingAndGlyphs">idlhcnuD1</text>
<text x="125.5" y="408.9" font-size="2.7" fill="#DF536B" fill-opacity="0.65" dominant-baseline="central" textLength="8.7" lengthAdjust="spacingAndGlyphs">b1SlEe</text>
<text x="116.6" y="418.1" font-size="2.7" fill="#DF536B" fill-opacity="0.65" dominant-baseline="central" textLength="13.0" lengthAdjust="spacingAndGlyphs">upHKk3Go1</text>
<text x="173.9" y="394.3" font-size="2.7" fill="#DF536B" fill-opacity="0.65" dominant-baseline="central" textLength="7.2" lengthAdjust="spacingAndGlyphs">Pmg2s</text>
<text x="158.2" y="394.8" font-size="2.7" fill="#DF536B" fill-opacity="0.65" dominant-baseline="central" textLength="7.2" lengthAdjust="spacingAndGlyphs">Abt33</text>
<text x="126.1" y="400.5" font-size="2.7" fill="#DF536B" fill-opacity="0.65" dominant-baseline="central" textLength="13.0" lengthAdjust="spacingAndGlyphs">HtApfSnE2</text>
<text x="157.3" y="412.8" font-size="2.7" fill="#DF536B" fill-opacity="0.65" dominant-baseline="central" textLength="5.8" lengthAdjust="spacingAndGlyphs">keav</text>
<text x="151.4" y="401.6" font-size="2.7" fill="#DF536B" fill-opacity="0.65" dominant-baseline="central" textLength="8.7" lengthAdjust="spacingAndGlyphs">SinKSc</text>
<text x="187.8" y="414.9" font-size="2.7" fill="#DF536B" fill-opacity="0.65" dominant-baseline="central" textLength="11.6" lengthAdjust="spacingAndGlyphs">H2do2stn</text>
<text x="194.5" y="407.6" font-size="2.7" fill="#DF536B" fill-opacity="0.65" dominant-baseline="central" textLength="13.0" lengthAdjust="spacingAndGlyphs">dmbl1hetD</text>
<text x="114.9" y="412.5" font-size="2.7" fill="#DF536B" fill-opacity="0.65" dominant-baseline="central" textLength="11.6" lengthAdjust="spacingAndGlyphs">ve_RaoeE</text>
<text x="182.0" y="401.4" font-size="2.7" fill="#DF536B" fill-opacity="0.65" dominant-baseline="central" textLength="11.6" lengthAdjust="spacingAndGlyphs">srTHv1gS</text>
<text x="199.6" y="416.5" font-size="2.7" fill="#DF536B" fill-opacity="0.65" dominant-baseline="central" textLength="13.0" lengthAdjust="spacingAndGlyphs">Ksba3kpAG</text>
<text x="126.1" y="415.7" font-size="2.7" fill="#DF536B" fill-opacity="0.65" dominant-baseline="central" textLength="8.7" lengthAdjust="spacingAndGlyphs">PDvteA</text>
<text x="119.1" y="406.0" font-size="2.7" fill="#DF536B" fill-opacity="0.65" dominant-baseline="central" textLength="7.2" lengthAdjust="spacingAndGlyphs">modi1</text>
<text x="128.2" y="401.4" font-size="2.7" fill="#DF536B" fill-opacity="0.65" dominant-baseline="central" textLength="7.2" lengthAdjust="spacingAndGlyphs">mDgkk</text>
<text x="200.2" y="417.9" font-size="2.7" fill="#DF536B" fill-opacity="0.65" dominant-baseline="central" textLength="7.2" lengthAdjust="spacingAndGlyphs">LbaH_</text>
<text x="136.9" y="420.4" font-size="2.7" fill="#DF536B" fill-opacity="0.65" dominant-baseline="central" textLength="5.8" lengthAdjust="spacingAndGlyphs">A1ob</text>
<text x="189.2" y="412.9" font-size="2.7" fill="#DF536B" fill-opacity="0.65" dominant-baseline="central" textLength="11.6" lengthAdjust="spacingAndGlyphs">gALSpTKm</text>
<text x="181.4" y="403.2" font-size="2.7" fill="#DF536B" fill-opacity="0.65" dominant-baseline="central" textLength="10.2" lengthAdjust="spacingAndGlyphs">AmD0akG</text>
<text x="131.1" y="411.6" font-size="2.7" fill="#DF536B" fill-opacity="0.65" dominant-baseline="central" textLength="11.6" lengthAdjust="spacingAndGlyphs">DPL_3hhR</text>
<text x="143.3" y="407.0" font-size="2.7" fill="#DF536B" fill-opacity="0.65" dominant-baseline="central" textLength="10.2" lengthAdjust="spacingAndGlyphs">KG_pG13</text>
<text x="199.1" y="408.0" font-size="2.7" fill="#DF536B" fill-opacity="0.65" dominant-baseline="central" textLength="5.8" lengthAdjust="spacingAndGlyphs">0PPu</text>
<text x="148.0" y="396.2" font-size="2.7" fill="#DF536B" fill-opacity="0.65" dominant-baseline="central" textLength="10.2" lengthAdjust="spacingAndGlyphs">CsAnS2H</text>
<text x="130.6" y="414.8" font-size="2.7" fill="#DF536B" fill-opacity="0.65" dominant-baseline="central" textLength="7.2" lengthAdjust="spacingAndGlyphs">Thpmk</text>
<text x="150.3" y="394.9" font-size="2.7" fill="#DF536B" fill-opacity="0.65" dominant-baseline="central" textLength="5.8" lengthAdjust="spacingAndGlyphs">Cs0D</text>
<text x="124.7" y="404.4" font-size="2.7" fill="#DF536B" fill-opacity="0.65" dominant-baseline="central" textLength="11.6" lengthAdjust="spacingAndGlyphs">aLnTtreg</text>
<text x="173.7" y="411.1" font-size="2.7" fill="#DF536B" fill-opacity="0.65" dominant-baseline="central" textLength="7.2" lengthAdjust="spacingAndGlyphs">eTd2e</text>
<text x="115.1" y="409.9" font-size="2.7" fill="#DF536B" fill-opacity="0.65" dominant-baseline="central" textLength="8.7" lengthAdjust="spacingAndGlyphs">mgCcDp</text>
<text x="141.4" y="414.2" font-size="2.7" fill="#DF536B" fill-opacity="0.65" dominant-baseline="central" textLength="7.2" lengthAdjust="spacingAndGlyphs">GbRTe</text>
<text x="147.6" y="417.5" font-size="2.7" fill="#DF536B" fill-opacity="0.65" dominant-baseline="central" textLength="13.0" lengthAdjust="spacingAndGlyphs">o1An2LGaC</text>
<text x="177.2" y="405.0" font-size="2.7" fill="#DF536B" fill-opacity="0.65" dominant-baseline="central" textLength="7.2" lengthAdjust="spacingAndGlyphs">milRc</text>
<text x="177.8" y="411.0" font-size="2.7" fill="#DF536B" fill-opacity="0.65" dominant-baseline="central" textLength="5.8" lengthAdjust="spacingAndGlyphs">sDDv</text>
<text x="116.0" y="416.3" font-size="2.7" fill="#DF536B" fill-opacity="0.65" dominant-baseline="central" textLength="5.8" lengthAdjust="spacingAndGlyphs">oEvK</text>
<text x="110.8" y="411.6" font-size="2.7" fill="#DF536B" fill-opacity="0.65" dominant-baseline="central" textLength="5.8" lengthAdjust="spacingAndGlyphs">tLEK</text>
<text x="153.7" y="400.1" font-size="2.7" fill="#DF536B" fill-opacity="0.65" dominant-baseline="central" textLength="7.2" lengthAdjust="spacingAndGlyphs">_hgD_</text>
<text x="136.6" y="414.0" font-size="2.7" fill="#DF536B" fill-opacity="0.65" dominant-baseline="central" textLength="11.6" lengthAdjust="spacingAndGlyphs">huhufRpS</text>
<text x="194.0" y="413.5" font-size="2.7" fill="#DF536B" fill-opacity="0.65" dominant-baseline="central" textLength="13.0" lengthAdjust="spacingAndGlyphs">KpPeEKCuP</text>
<text x="126.9" y="406.4" font-size="2.7" fill="#DF536B" fill-opacity="0.65" dominant-baseline="central" textLength="13.0" lengthAdjust="spacingAndGlyphs">araKEisGK</text>
<text x="191.6" y="404.9" font-size="2.7" fill="#DF536B" fill-opacity="0.65" dominant-baseline="central" textLength="5.8" lengthAdjust="spacingAndGlyphs">g1gR</text>
<text x="120.9" y="408.4" font-size="2.7" fill="#DF536B" fill-opacity="0.65" dominant-baseline="central" textLength="8.7" lengthAdjust="spacingAndGlyphs">bEbDbk</text>
<text x="134.3" y="398.2" font-size="2.7" fill="#DF536B" fill-opacity="0.65" dominant-baseline="central" textLength="8.7" lengthAdjust="spacingAndGlyphs">lR_ASd</text>
<text x="138.0" y="419.0" font-size="2.7" fill="#DF536B" fill-opacity="0.65" dominant-baseline="central" textLength="7.2" lengthAdjust="spacingAndGlyphs">1hdeR</text>
<text x="173.0" y="399.2" font-size="2.7" fill="#DF536B" fill-opacity="0.65" dominant-baseline="central" textLength="7.2" lengthAdjust="spacingAndGlyphs">_Hgfa</text>
<text x="153.1" y="398.5" font-size="2.7" fill="#DF536B" fill-opacity="0.65" dominant-baseline="central" textLength="13.0" lengthAdjust="spacingAndGlyphs">sShLRkbEE</text>
<text x="174.2" y="409.1" font-size="2.7" fill="#DF536B" fill-opacity="0.65" dominant-baseline="central" textLength="8.7" lengthAdjust="spacingAndGlyphs">K121hg</text>
<text x="166.4" y="416.4" font-size="2.7" fill="#DF536B" fill-opacity="0.65" dominant-baseline="central" textLength="11.6" lengthAdjust="spacingAndGlyphs">3he3rif_</text>
<text x="196.6" y="415.4" font-size="2.7" fill="#DF536B" fill-opacity="0.65" dominant-baseline="central" textLength="7.2" lengthAdjust="spacingAndGlyphs">rKRdo</text>
<text x="143.8" y="410.6" font-size="2.7" fill="#DF536B" fill-opacity="0.65" dominant-baseline="central" textLength="5.8" lengthAdjust="spacingAndGlyphs">Rig_</text>
<text x="191.5" y="417.7" font-size="2.7" fill="#DF536B" fill-opacity="0.65" dominant-baseline="central" textLength="11.6" lengthAdjust="spacingAndGlyphs">0mKhKapk</text>
<text x="169.9" y="399.4" font-size="2.7" fill="#DF536B" fill-opacity="0.65" dominant-baseline="central" textLength="13.0" lengthAdjust="spacingAndGlyphs">Glu0bHhTv</text>
<text x="115.9" y="406.7" font-size="2.7" fill="#DF536B" fill-opacity="0.65" dominant-baseline="central" textLength="8.7" lengthAdjust="spacingAndGlyphs">fos1hK</text>
<text x="160.3" y="416.8" font-size="2.7" fill="#DF536B" fill-opacity="0.65" dominant-baseline="central" textLength="10.2" lengthAdjust="spacingAndGlyphs">o2i3_gH</text>
<text x="184.0" y="398.4" font-size="2.7" fill="#DF536B" fill-opacity="0.65" dominant-baseline="central" textLength="11.6" lengthAdjust="spacingAndGlyphs">spEfLSGD</text>
<text x="157.1" y="415.4" font-size="2.7" fill="#DF536B" fill-opacity="0.65" dominant-baseline="central" textLength="5.8" lengthAdjust="spacingAndGlyphs">dv0d</text>
<text x="187.8" y="414.4" font-size="2.7" fill="#DF536B" fill-opacity="0.65" dominant-baseline="central" textLength="10.2" lengthAdjust="spacingAndGlyphs">2AHpgEc</text>
<text x="197.8" y="408.3" font-size="2.7" fill="#DF536B" fill-opacity="0.65" dominant-baseline="central" textLength="10.2" lengthAdjust="spacingAndGlyphs">p00TaEK</text>
<text x="135.6" y="415.6" font-size="2.7" fill="#DF536B" fill-opacity="0.65" dominant-baseline="central" textLength="13.0" lengthAdjust="spacingAndGlyphs">DrEEvodAm</text>
<text x="168.7" y="409.2" font-size="2.7" fill="#DF536B" fill-opacity="0.65" dominant-baseline="central" textLength="11.6" lengthAdjust="spacingAndGlyphs">DdfostLE</text>
<text x="188.1" y="410.4" font-size="2.7" fill="#DF536B" fill-opacity="0.65" dominant-baseline="central" textLength="8.7" lengthAdjust="spacingAndGlyphs">3gfHps</text>
<text x="137.6" y="404.8" font-size="2.7" fill="#DF536B" fill-opacity="0.65" dominant-baseline="central" textLength="8.7" lengthAdjust="spacingAndGlyphs">kkuudT</text>
<text x="127.8" y="419.4" font-size="2.7" fill="#DF536B" fill-opacity="0.65" dominant-baseline="central" textLength="11.6" lengthAdjust="spacingAndGlyphs">f2iCbo1a</text>
<text x="162.4" y="399.2" font-size="2.7" fill="#DF536B" fill-opacity="0.65" dominant-baseline="central" textLength="8.7" lengthAdjust="spacingAndGlyphs">emfPiG</text>
<text x="146.1" y="417.8" font-size="2.7" fill="#DF536B" fill-opacity="0.65" dominant-baseline="central" textLength="13.0" lengthAdjust="spacingAndGlyphs">ehD2hhHv2</text>
<text x="161.5" y="408.2" font-size="2.7" fill="#DF536B" fill-opacity="0.65" dominant-baseline="central" textLength="7.2" lengthAdjust="spacingAndGlyphs">gKA1i</text>
<text x="165.4" y="409.8" font-size="2.7" fill="#DF536B" fill-opacity="0.65" dominant-baseline="central" textLength="8.7" lengthAdjust="spacingAndGlyphs">SKcLGn</text>
<text x="186.2" y="416.6" font-size="2.7" fill="#DF536B" fill-opacity="0.65" dominant-baseline="central" textLength="13.0" lengthAdjust="spacingAndGlyphs">G_Sg2lAna</text>
<text x="160.7" y="408.4" font-size="2.7" fill="#DF536B" fill-opacity="0.65" dominant-baseline="central" textLength="7.2" lengthAdjust="spacingAndGlyphs">DG0GP</text>
<text x="176.5" y="408.5" font-size="2.7" fill="#DF536B" fill-opacity="0.65" dominant-baseline="central" textLength="11.6" lengthAdjust="spacingAndGlyphs">kSHAfTps</text>
<text x="151.7" y="412.7" font-size="2.7" fill="#DF536B" fill-opacity="0.65" dominant-baseline="central" textLength="10.2" lengthAdjust="spacingAndGlyphs">3csesGr</text>
<text x="164.8" y="410.1" font-size="2.7" fill="#DF536B" fill-opacity="0.65" dominant-baseline="central" textLength="11.6" lengthAdjust="spacingAndGlyphs">e2mK0RGT</text>
<text x="153.2" y="409.8" font-size="2.7" fill="#DF536B" fill-opacity="0.65" dominant-baseline="central" textLength="7.2" lengthAdjust="spacingAndGlyphs">gv_kc</text>
<text x="140.3" y="412.8" font-size="2.7" fill="#DF536B" fill-opacity="0.65" dominant-baseline="central" textLength="7.2" lengthAdjust="spacingAndGlyphs">2TCTk</text>
<text x="172.9" y="411.4" font-size="2.7" fill="#DF536B" fill-opacity="0.65" dominant-baseline="central" textLength="8.7" lengthAdjust="spacingAndGlyphs">vgrkon</text>
<text x="180.6" y="415.3" font-size="2.7" fill="#DF536B" fill-opacity="0.65" dominant-baseline="central" textLength="7.2" lengthAdjust="spacingAndGlyphs">nlEAE</text>
<text x="192.7" y="408.4" font-size="2.7" fill="#DF536B" fill-opacity="0.65" dominant-baseline="central" textLength="13.0" lengthAdjust="spacingAndGlyphs">ushrDbm1s</text>
<text x="187.4" y="409.9" font-size="2.7" fill="#DF536B" fill-opacity="0.65" dominant-baseline="central" textLength="11.6" lengthAdjust="spacingAndGlyphs">isTetbut</text>
<text x="155.2" y="413.6" font-size="2.7" fill="#DF536B" fill-opacity="0.65" dominant-baseline="central" textLength="10.2" lengthAdjust="spacingAndGlyphs">l1if1l1</text>
<text x="167.7" y="406.1" font-size="2.7" fill="#DF536B" fill-opacity="0.65" dominant-baseline="central" textLength="10.2" lengthAdjust="spacingAndGlyphs">E1pSPED</text>
<text x="170.1" y="404.2" font-size="2.7" fill="#DF536B" fill-opacity="0.65" dominant-baseline="central" textLength="7.2" lengthAdjust="spacingAndGlyphs">e2h3e</text>
<text x="177.6" y="415.8" font-size="2.7" fill="#DF536B" fill-opacity="0.65" dominant-baseline="central" textLength="5.8" lengthAdjust="spacingAndGlyphs">g3hn</text>
<text x="180.5" y="409.7" font-size="2.7" fill="#DF536B" fill-opacity="0.65" dominant-baseline="central" textLength="7.2" lengthAdjust="spacingAndGlyphs">dekbK</text>
<text x="186.1" y="409.7" font-size="2.7" fill="#DF536B" fill-opacity="0.65" dominant-baseline="central" textLength="11.6" lengthAdjust="spacingAndGlyphs">mf0DTngK</text>
<text x="192.2" y="416.3" font-size="2.7" fill="#DF536B" fill-opacity="0.65" dominant-baseline="central" textLength="7.2" lengthAdjust="spacingAndGlyphs">fTb22</text>
<text x="177.1" y="414.7" font-size="2.7" fill="#DF536B" fill-opacity="0.65" dominant-baseline="central" textLength="8.7" lengthAdjust="spacingAndGlyphs">sCptk1</text>
<text x="175.0" y="408.7" font-size="2.7" fill="#DF536B" fill-opacity="0.65" dominant-baseline="central" textLength="10.2" lengthAdjust="spacingAndGlyphs">3Alf0lc</text>
<text x="174.5" y="412.0" font-size="2.7" fill="#DF536B" fill-opacity="0.65" dominant-baseline="central" textLength="8.7" lengthAdjust="spacingAndGlyphs">vbKckm</text>
<text x="166.3" y="411.1" font-size="2.7" fill="#DF536B" fill-opacity="0.65" dominant-baseline="central" textLength="5.8" lengthAdjust="spacingAndGlyphs">oHpK</text>
<text x="185.7" y="405.1" font-size="2.7" fill="#DF536B" fill-opacity="0.65" dominant-baseline="central" textLength="7.2" lengthAdjust="spacingAndGlyphs">DHars</text>
<text x="169.8" y="414.6" font-size="2.7" fill="#DF536B" fill-opacity="0.65" dominant-baseline="central" textLength="8.7" lengthAdjust="spacingAndGlyphs">0C0DRr</text>
<text x="130.4" y="415.0" font-size="2.7" fill="#DF536B" fill-opacity="0.65" dominant-baseline="central" textLength="7.2" lengthAdjust="spacingAndGlyphs">kosPS</text>
<text x="131.2" y="415.4" font-size="2.7" fill="#DF536B" fill-opacity="0.65" dominant-baseline="central" textLength="8.7" lengthAdjust="spacingAndGlyphs">mrs03s</text>
<text x="201.1" y="414.0" font-size="2.7" fill="#DF536B" fill-opacity="0.65" dominant-baseline="central" textLength="8.7" lengthAdjust="spacingAndGlyphs">pev_Co</text>
<text x="141.5" y="419.6" font-size="2.7" fill="#DF536B" fill-opacity="0.65" dominant-baseline="central" textLength="11.6" lengthAdjust="spacingAndGlyphs">rPocK2iE</text>
<text x="122.6" y="423.2" font-size="2.7" fill="#DF536B" fill-opacity="0.65" dominant-baseline="central" textLength="5.8" lengthAdjust="spacingAndGlyphs">GiKp</text>
<text x="154.7" y="415.1" font-size="2.7" fill="#DF536B" fill-opacity="0.65" dominant-baseline="central" textLength="7.2" lengthAdjust="spacingAndGlyphs">Gu2eS</text>
<text x="172.2" y="414.7" font-size="2.7" fill="#DF536B" fill-opacity="0.65" dominant-baseline="central" textLength="5.8" lengthAdjust="spacingAndGlyphs">GeLl</text>
<text x="163.5" y="408.4" font-size="2.7" fill="#DF536B" fill-opacity="0.65" dominant-baseline="central" textLength="7.2" lengthAdjust="spacingAndGlyphs">lTpAC</text>
<text x="155.9" y="418.7" font-size="2.7" fill="#DF536B" fill-opacity="0.65" dominant-baseline="central" textLength="7.2" lengthAdjust="spacingAndGlyphs">kAcnr</text>
<text x="157.0" y="411.0" font-size="2.7" fill="#DF536B" fill-opacity="0.65" dominant-baseline="central" textLength="13.0" lengthAdjust="spacingAndGlyphs">rREEhtkem</text>
<text x="182.1" y="410.5" font-size="2.7" fill="#DF536B" fill-opacity="0.65" dominant-baseline="central" textLength="8.7" lengthAdjust="spacingAndGlyphs">mht001</text>
<text x="186.6" y="417.9" font-size="2.7" fill="#DF536B" fill-opacity="0.65" dominant-baseline="central" textLength="11.6" lengthAdjust="spacingAndGlyphs">sffpbev_</text>
<text x="148.3" y="411.2" font-size="2.7" fill="#DF536B" fill-opacity="0.65" dominant-baseline="central" textLength="8.7" lengthAdjust="spacingAndGlyphs">3guSRD</text>
<text x="183.8" y="409.6" font-size="2.7" fill="#DF536B" fill-opacity="0.65" dominant-baseline="central" textLength="7.2" lengthAdjust="spacingAndGlyphs">kSbPH</text>
<text x="172.1" y="407.9" font-size="2.7" fill="#DF536B" fill-opacity="0.65" dominant-baseline="central" textLength="5.8" lengthAdjust="spacingAndGlyphs">mHob</text>
<text x="164.7" y="407.4" font-size="2.7" fill="#DF536B" fill-opacity="0.65" dominant-baseline="central" textLength="10.2" lengthAdjust="spacingAndGlyphs">TeRbmCa</text>
<text x="123.8" y="418.8" font-size="2.7" fill="#DF536B" fill-opacity="0.65" dominant-baseline="central" textLength="5.8" lengthAdjust="spacingAndGlyphs">Cs2E</text>
<text x="149.6" y="415.1" font-size="2.7" fill="#DF536B" fill-opacity="0.65" dominant-baseline="central" textLength="13.0" lengthAdjust="spacingAndGlyphs">AlDkKL1Rs</text>
<text x="135.0" y="412.5" font-size="2.7" fill="#DF536B" fill-opacity="0.65" dominant-baseline="central" textLength="10.2" lengthAdjust="spacingAndGlyphs">plR_2ul</text>
<text x="185.2" y="410.1" font-size="2.7" fill="#DF536B" fill-opacity="0.65" dominant-baseline="central" textLength="11.6" lengthAdjust="spacingAndGlyphs">HlCugaDS</text>
<text x="188.9" y="413.0" font-size="2.7" fill="#DF536B" fill-opacity="0.65" dominant-baseline="central" textLength="11.6" lengthAdjust="spacingAndGlyphs">GaTHtT33</text>
<text x="145.3" y="416.4" font-size="2.7" fill="#DF536B" fill-opacity="0.65" dominant-baseline="central" textLength="5.8" lengthAdjust="spacingAndGlyphs">ATSd</text>
<text x="166.8" y="415.2" font-size="2.7" fill="#DF536B" fill-opacity="0.65" dominant-baseline="central" textLength="10.2" lengthAdjust="spacingAndGlyphs">dftdrHc</text>
<text x="177.7" y="411.7" font-size="2.7" fill="#DF536B" fill-opacity="0.65" dominant-baseline="central" textLength="13.0" lengthAdjust="spacingAndGlyphs">_gLD2deTS</text>
<text x="185.8" y="407.4" font-size="2.7" fill="#DF536B" fill-opacity="0.65" dominant-baseline="central" textLength="8.7" lengthAdjust="spacingAndGlyphs">__CnoP</text>
<text x="148.9" y="412.9" font-size="2.7" fill="#DF536B" fill-opacity="0.65" dominant-baseline="central" textLength="10.2" lengthAdjust="spacingAndGlyphs">vrcb_CS</text>
<text x="195.3" y="411.3" font-size="2.7" fill="#DF536B" fill-opacity="0.65" dominant-baseline="central" textLength="13.0" lengthAdjust="spacingAndGlyphs">lhsuGvsms</text>
<text x="165.2" y="421.0" font-size="2.7" fill="#DF536B" fill-opacity="0.65" dominant-baseline="central" textLength="13.0" lengthAdjust="spacingAndGlyphs">dLKHa3sTT</text>
<text x="123.6" y="418.0" font-size="2.7" fill="#DF536B" fill-opacity="0.65" dominant-baseline="central" textLength="13.0" lengthAdjust="spacingAndGlyphs">DcblTpphk</text>
<text x="174.4" y="410.7" font-size="2.7" fill="#DF536B" fill-opacity="0.65" dominant-baseline="central" textLength="8.7" lengthAdjust="spacingAndGlyphs">mbtgCC</text>
<text x="151.5" y="412.4" font-size="2.7" fill="#DF536B" fill-opacity="0.65" dominant-baseline="central" textLength="11.6" lengthAdjust="spacingAndGlyphs">vRdCgto0</text>
<text x="160.4" y="416.2" font-size="2.7" fill="#DF536B" fill-opacity="0.65" dominant-baseline="central" textLength="5.8" lengthAdjust="spacingAndGlyphs">1dS0</text>
<text x="180.9" y="419.5" font-size="2.7" fill="#DF536B" fill-opacity="0.65" dominant-baseline="central" textLength="7.2" lengthAdjust="spacingAndGlyphs">ErLAH</text>
<text x="198.3" y="413.8" font-size="2.7" fill="#DF536B" fill-opacity="0.65" dominant-baseline="central" textLength="5.8" lengthAdjust="spacingAndGlyphs">Du01</text>
<text x="190.4" y="418.7" font-size="2.7" fill="#DF536B" fill-opacity="0.65" dominant-baseline="central" textLength="10.2" lengthAdjust="spacingAndGlyphs">rSfhLLS</text>
<text x="126.3" y="418.3" font-size="2.7" fill="#DF536B" fill-opacity="0.65" dominant-baseline="central" textLength="11.6" lengthAdjust="spacingAndGlyphs">Ka0fnmdk</text>
<text x="185.8" y="409.4" font-size="2.7" fill="#DF536B" fill-opacity="0.65" dominant-baseline="central" textLength="8.7" lengthAdjust="spacingAndGlyphs">AtcdRd</text>
<text x="137.2" y="419.6" font-size="2.7" fill="#DF536B" fill-opacity="0.65" dominant-baseline="central" textLength="5.8" lengthAdjust="spacingAndGlyphs">Snsd</text>
<text x="131.5" y="420.4" font-size="2.7" fill="#DF536B" fill-opacity="0.65" dominant-baseline="central" textLength="10.2" lengthAdjust="spacingAndGlyphs">PiLT3rH</text>
<text x="189.5" y="415.1" font-size="2.7" fill="#DF536B" fill-opacity="0.65" dominant-baseline="central" textLength="11.6" lengthAdjust="spacingAndGlyphs">Kcf3ird3</text>
<text x="139.4" y="422.9" font-size="2.7" fill="#DF536B" fill-opacity="0.65" dominant-baseline="central" textLength="5.8" lengthAdjust="spacingAndGlyphs">GeHR</text>
<text x="159.4" y="410.2" font-size="2.7" fill="#DF536B" fill-opacity="0.65" dominant-baseline="central" textLength="7.2" lengthAdjust="spacingAndGlyphs">TAhCv</text>
<text x="120.5" y="424.0" font-size="2.7" fill="#DF536B" fill-opacity="0.65" dominant-baseline="central" textLength="13.0" lengthAdjust="spacingAndGlyphs">_3KHnscft</text>
<text x="188.1" y="413.3" font-size="2.7" fill="#DF536B" fill-opacity="0.65" dominant-baseline="central" textLength="8.7" lengthAdjust="spacingAndGlyphs">LoPLAo</text>
<text x="175.2" y="410.5" font-size="2.7" fill="#DF536B" fill-opacity="0.65" dominant-baseline="central" textLength="8.7" lengthAdjust="spacingAndGlyphs">fRS2RG</text>
<text x="129.6" y="420.6" font-size="2.7" fill="#DF536B" fill-opacity="0.65" dominant-baseline="central" textLength="7.2" lengthAdjust="spacingAndGlyphs">upRLo</text>
<text x="159.2" y="414.9" font-size="2.7" fill="#DF536B" fill-opacity="0.65" dominant-baseline="central" textLength="5.8" lengthAdjust="spacingAndGlyphs">1C3H</text>
<text x="202.0" y="417.1" font-size="2.7" fill="#DF536B" fill-opacity="0.65" dominant-baseline="central" textLength="10.2" lengthAdjust="spacingAndGlyphs">DLsfGpH</text>
<text x="193.2" y="411.8" font-size="2.7" fill="#DF536B" fill-opacity="0.65" dominant-baseline="central" textLength="7.2" lengthAdjust="spacingAndGlyphs">LdTdo</text>
<text x="190.4" y="410.0" font-size="2.7" fill="#DF536B" fill-opacity="0.65" dominant-baseline="central" textLength="11.6" lengthAdjust="spacingAndGlyphs">CESss2K1</text>
<text x="164.9" y="416.0" font-size="2.7" fill="#DF536B" fill-opacity="0.65" dominant-baseline="central" textLength="5.8" lengthAdjust="spacingAndGlyphs">iA_b</text>
<text x="130.2" y="421.8" font-size="2.7" fill="#DF536B" fill-opacity="0.65" dominant-baseline="central" textLength="11.6" lengthAdjust="spacingAndGlyphs">C0TAlTTu</text>
<text x="190.7" y="418.4" font-size="2.7" fill="#DF536B" fill-opacity="0.65" dominant-baseline="central" textLength="5.8" lengthAdjust="spacingAndGlyphs">RR02</text>
<text x="188.0" y="409.9" font-size="2.7" fill="#DF536B" fill-opacity="0.65" dominant-baseline="central" textLength="5.8" lengthAdjust="spacingAndGlyphs">eav1</text>
<text x="151.3" y="418.7" font-size="2.7" fill="#DF536B" fill-opacity="0.65" dominant-baseline="central" textLength="8.7" lengthAdjust="spacingAndGlyphs">kD1_b1</text>
<text x="181.8" y="412.3" font-size="2.7" fill="#DF536B" fill-opacity="0.65" dominant-baseline="central" textLength="13.0" lengthAdjust="spacingAndGlyphs">Hkvrombhf</text>
<text x="181.1" y="412.3" font-size="2.7" fill="#DF536B" fill-opacity="0.65" dominant-baseline="central" textLength="7.2" lengthAdjust="spacingAndGlyphs">sbTdb</text>
<text x="132.2" y="413.6" font-size="2.7" fill="#DF536B" fill-opacity="0.65" dominant-baseline="central" textLength="8.7" lengthAdjust="spacingAndGlyphs">oEACoS</text>
<text x="198.9" y="414.1" font-size="2.7" fill="#DF536B" fill-opacity="0.65" dominant-baseline="central" textLength="11.6" lengthAdjust="spacingAndGlyphs">u_Dp2pAk</text>
<text x="175.4" y="417.6" font-size="2.7" fill="#DF536B" fill-opacity="0.65" dominant-baseline="central" textLength="7.2" lengthAdjust="spacingAndGlyphs">lSDDo</text>
<text x="161.8" y="421.0" font-size="2.7" fill="#DF536B" fill-opacity="0.65" dominant-baseline="central" textLength="7.2" lengthAdjust="spacingAndGlyphs">SEdpT</text>
<text x="130.3" y="420.6" font-size="2.7" fill="#DF536B" fill-opacity="0.65" dominant-baseline="central" textLength="13.0" lengthAdjust="spacingAndGlyphs">e1bgAcDT1</text>
<text x="147.7" y="415.5" font-size="2.7" fill="#DF536B" fill-opacity="0.65" dominant-baseline="central" textLength="5.8" lengthAdjust="spacingAndGlyphs">Kbm2</text>
<text x="128.8" y="419.6" font-size="2.7" fill="#DF536B" fill-opacity="0.65" dominant-baseline="central" textLength="13.0" lengthAdjust="spacingAndGlyphs">kAdRup2bD</text>
<text x="172.4" y="409.8" font-size="2.7" fill="#DF536B" fill-opacity="0.65" dominant-baseline="central" textLength="5.8" lengthAdjust="spacingAndGlyphs">ruvs</text>
<text x="167.9" y="419.2" font-size="2.7" fill="#DF536B" fill-opacity="0.65" dominant-baseline="central" textLength="8.7" lengthAdjust="spacingAndGlyphs">vKmtmh</text>
<text x="148.5" y="414.8" font-size="2.7" fill="#DF536B" fill-opacity="0.65" dominant-baseline="central" textLength="5.8" lengthAdjust="spacingAndGlyphs">S_nv</text>
<text x="127.0" y="421.7" font-size="2.7" fill="#DF536B" fill-opacity="0.65" dominant-baseline="central" textLength="13.0" lengthAdjust="spacingAndGlyphs">_rKGE_sRP</text>
<text x="176.4" y="420.0" font-size="2.7" fill="#DF536B" fill-opacity="0.65" dominant-baseline="central" textLength="5.8" lengthAdjust="spacingAndGlyphs">uvHc</text>
<text x="134.0" y="414.9" font-size="2.7" fill="#DF536B" fill-opacity="0.65" dominant-baseline="central" textLength="10.2" lengthAdjust="spacingAndGlyphs">u0nE2RE</text>
<text x="162.8" y="411.0" font-size="2.7" fill="#DF536B" fill-opacity="0.65" dominant-baseline="central" textLength="10.2" lengthAdjust="spacingAndGlyphs">_2pnehr</text>
<text x="173.8" y="406.7" font-size="2.7" fill="#DF536B" fill-opacity="0.65" dominant-baseline="central" textLength="10.2" lengthAdjust="spacingAndGlyphs">_2vcu0D</text>
<text x="202.3" y="417.4" font-size="2.7" fill="#DF536B" fill-opacity="0.65" dominant-baseline="central" textLength="5.8" lengthAdjust="spacingAndGlyphs">akGh</text>
<text x="158.3" y="413.8" font-size="2.7" fill="#DF536B" fill-opacity="0.65" dominant-baseline="central" textLength="10.2" lengthAdjust="spacingAndGlyphs">1dmeRrT</text>
<text x="153.6" y="443.3" font-size="2.7" fill="#DF536B" fill-opacity="0.65" dominant-baseline="central" textLength="10.2" lengthAdjust="spacingAndGlyphs">1C3bapo</text>
<text x="165.8" y="447.9" font-size="2.7" fill="#DF536B" fill-opacity="0.65" dominant-baseline="central" textLength="8.7" lengthAdjust="spacingAndGlyphs">Cm20gm</text>
<text x="141.3" y="436.2" font-size="2.7" fill="#DF536B" fill-opacity="0.65" dominant-baseline="central" textLength="13.0" lengthAdjust="spacingAndGlyphs">pldDcinbl</text>
<text x="140.6" y="434.0" font-size="2.7" fill="#DF536B" fill-opacity="0.65" dominant-baseline="central" textLength="5.8" lengthAdjust="spacingAndGlyphs">ac3v</text>
<text x="135.5" y="438.0" font-size="2.7" fill="#DF536B" fill-opacity="0.65" dominant-baseline="central" textLength="13.0" lengthAdjust="spacingAndGlyphs">sGmKTcrtt</text>
<text x="130.7" y="432.6" font-size="2.7" fill="#DF536B" fill-opacity="0.65" dominant-baseline="central" textLength="7.2" lengthAdjust="spacingAndGlyphs">rGuhG</text>
<text x="168.4" y="440.5" font-size="2.7" fill="#DF536B" fill-opacity="0.65" dominant-baseline="central" textLength="5.8" lengthAdjust="spacingAndGlyphs">dKTG</text>
<text x="131.1" y="432.4" font-size="2.7" fill="#DF536B" fill-opacity="0.65" dominant-baseline="central" textLength="8.7" lengthAdjust="spacingAndGlyphs">dhbEE2</text>
<text x="170.8" y="442.7" font-size="2.7" fill="#DF536B" fill-opacity="0.65" dominant-baseline="central" textLength="7.2" lengthAdjust="spacingAndGlyphs">mo_aT</text>
<text x="162.6" y="438.5" font-size="2.7" fill="#DF536B" fill-opacity="0.65" dominant-baseline="central" textLength="10.2" lengthAdjust="spacingAndGlyphs">ce1cinG</text>
<text x="157.0" y="438.6" font-size="2.7" fill="#DF536B" fill-opacity="0.65" dominant-baseline="central" textLength="10.2" lengthAdjust="spacingAndGlyphs">GlEdDek</text>
<text x="162.8" y="446.2" font-size="2.7" fill="#DF536B" fill-opacity="0.65" dominant-baseline="central" textLength="11.6" lengthAdjust="spacingAndGlyphs">cbrGkfci</text>
<text x="142.8" y="436.4" font-size="2.7" fill="#DF536B" fill-opacity="0.65" dominant-baseline="central" textLength="5.8" lengthAdjust="spacingAndGlyphs">pumn</text>
<text x="150.4" y="439.2" font-size="2.7" fill="#DF536B" fill-opacity="0.65" dominant-baseline="central" textLength="10.2" lengthAdjust="spacingAndGlyphs">ne0lel1</text>
<text x="120.4" y="432.8" font-size="2.7" fill="#DF536B" fill-opacity="0.65" dominant-baseline="central" textLength="10.2" lengthAdjust="spacingAndGlyphs">3_gGaSv</text>
<text x="153.4" y="438.7" font-size="2.7" fill="#DF536B" fill-opacity="0.65" dominant-baseline="central" textLength="11.6" lengthAdjust="spacingAndGlyphs">bnCaLHu1</text>
<text x="127.8" y="431.1" font-size="2.7" fill="#DF536B" fill-opacity="0.65" dominant-baseline="central" textLength="13.0" lengthAdjust="spacingAndGlyphs">ilGEgcsuv</text>
<text x="165.4" y="446.0" font-size="2.7" fill="#DF536B" fill-opacity="0.65" dominant-baseline="central" textLength="5.8" lengthAdjust="spacingAndGlyphs">mHCs</text>
<text x="138.8" y="430.1" font-size="2.7" fill="#DF536B" fill-opacity="0.65" dominant-baseline="central" textLength="5.8" lengthAdjust="spacingAndGlyphs">KE33</text>
<text x="140.4" y="432.3" font-size="2.7" fill="#DF536B" fill-opacity="0.65" dominant-baseline="central" textLength="7.2" lengthAdjust="spacingAndGlyphs">St3ks</text>
<text x="161.5" y="444.6" font-size="2.7" fill="#DF536B" fill-opacity="0.65" dominant-baseline="central" textLength="11.6" lengthAdjust="spacingAndGlyphs">fidLtoAG</text>
<text x="131.1" y="431.1" font-size="2.7" fill="#DF536B" fill-opacity="0.65" dominant-baseline="central" textLength="10.2" lengthAdjust="spacingAndGlyphs">bsmE_n1</text>
<text x="167.3" y="440.5" font-size="2.7" fill="#DF536B" fill-opacity="0.65" dominant-baseline="central" textLength="11.6" lengthAdjust="spacingAndGlyphs">CahaaCtS</text>
<text x="130.2" y="437.1" font-size="2.7" fill="#DF536B" fill-opacity="0.65" dominant-baseline="central" textLength="13.0" lengthAdjust="spacingAndGlyphs">pSmRSKtA2</text>
<text x="135.6" y="436.5" font-size="2.7" fill="#DF536B" fill-opacity="0.65" dominant-baseline="central" textLength="8.7" lengthAdjust="spacingAndGlyphs">R1knil</text>
<text x="138.6" y="428.3" font-size="2.7" fill="#DF536B" fill-opacity="0.65" dominant-baseline="central" textLength="7.2" lengthAdjust="spacingAndGlyphs">1n3Dd</text>
<text x="161.6" y="444.3" font-size="2.7" fill="#DF536B" fill-opacity="0.65" dominant-baseline="central" textLength="5.8" lengthAdjust="spacingAndGlyphs">iRss</text>
<text x="120.3" y="428.2" font-size="2.7" fill="#DF536B" fill-opacity="0.65" dominant-baseline="central" textLength="5.8" lengthAdjust="spacingAndGlyphs">dbSp</text>
<text x="135.8" y="435.9" font-size="2.7" fill="#DF536B" fill-opacity="0.65" dominant-baseline="central" textLength="11.6" lengthAdjust="spacingAndGlyphs">lel1DifD</text>
<text x="126.4" y="429.7" font-size="2.7" fill="#DF536B" fill-opacity="0.65" dominant-baseline="central" textLength="13.0" lengthAdjust="spacingAndGlyphs">EL2rd1AuP</text>
<text x="142.4" y="435.0" font-size="2.7" fill="#DF536B" fill-opacity="0.65" dominant-baseline="central" textLength="5.8" lengthAdjust="spacingAndGlyphs">PSsS</text>
<text x="131.7" y="426.6" font-size="2.7" fill="#DF536B" fill-opacity="0.65" dominant-baseline="central" textLength="7.2" lengthAdjust="spacingAndGlyphs">EEgue</text>
<text x="137.5" y="435.8" font-size="2.7" fill="#DF536B" fill-opacity="0.65" dominant-baseline="central" textLength="11.6" lengthAdjust="spacingAndGlyphs">KtHSHSDf</text>
<text x="140.3" y="434.2" font-size="2.7" fill="#DF536B" fill-opacity="0.65" dominant-baseline="central" textLength="10.2" lengthAdjust="spacingAndGlyphs">1fkPk3L</text>
<text x="151.4" y="437.1" font-size="2.7" fill="#DF536B" fill-opacity="0.65" dominant-baseline="central" textLength="7.2" lengthAdjust="spacingAndGlyphs">kPuvE</text>
<text x="136.6" y="431.1" font-size="2.7" fill="#DF536B" fill-opacity="0.65" dominant-baseline="central" textLength="7.2" lengthAdjust="spacingAndGlyphs">aalSk</text>
<text x="168.8" y="439.8" font-size="2.7" fill="#DF536B" fill-opacity="0.65" dominant-baseline="central" textLength="7.2" lengthAdjust="spacingAndGlyphs">he3ko</text>
<text x="128.6" y="437.1" font-size="2.7" fill="#DF536B" fill-opacity="0.65" dominant-baseline="central" textLength="7.2" lengthAdjust="spacingAndGlyphs">dudCk</text>
<text x="138.7" y="440.1" font-size="2.7" fill="#DF536B" fill-opacity="0.65" dominant-baseline="central" textLength="5.8" lengthAdjust="spacingAndGlyphs">g2cC</text>
<text x="203.2" y="452.8" font-size="2.7" fill="#DF536B" fill-opacity="0.65" dominant-baseline="central" textLength="7.2" lengthAdjust="spacingAndGlyphs">cmSTv</text>
<text x="196.9" y="447.2" font-size="2.7" fill="#DF536B" fill-opacity="0.65" dominant-baseline="central" textLength="10.2" lengthAdjust="spacingAndGlyphs">oeKlRmA</text>
<text x="193.0" y="458.4" font-size="2.7" fill="#DF536B" fill-opacity="0.65" dominant-baseline="central" textLength="10.2" lengthAdjust="spacingAndGlyphs">c_ri1_1</text>
<text x="188.9" y="449.7" font-size="2.7" fill="#DF536B" fill-opacity="0.65" dominant-baseline="central" textLength="11.6" lengthAdjust="spacingAndGlyphs">0AlsrCKp</text>
<text x="193.9" y="445.7" font-size="2.7" fill="#DF536B" fill-opacity="0.65" dominant-baseline="central" textLength="5.8" lengthAdjust="spacingAndGlyphs">_gpl</text>
<text x="190.6" y="442.2" font-size="2.7" fill="#DF536B" fill-opacity="0.65" dominant-baseline="central" textLength="10.2" lengthAdjust="spacingAndGlyphs">TTEnEem</text>
<text x="204.7" y="442.3" font-size="2.7" fill="#DF536B" fill-opacity="0.65" dominant-baseline="central" textLength="11.6" lengthAdjust="spacingAndGlyphs">rif_0LKr</text>
<text x="199.3" y="453.6" font-size="2.7" fill="#DF536B" fill-opacity="0.65" dominant-baseline="central" textLength="10.2" lengthAdjust="spacingAndGlyphs">EhsDRD2</text>
<text x="189.6" y="452.8" font-size="2.7" fill="#DF536B" fill-opacity="0.65" dominant-baseline="central" textLength="13.0" lengthAdjust="spacingAndGlyphs">csGA3gmvG</text>
<text x="207.4" y="449.0" font-size="2.7" fill="#DF536B" fill-opacity="0.65" dominant-baseline="central" textLength="5.8" lengthAdjust="spacingAndGlyphs">eDSn</text>
<text x="205.8" y="444.8" font-size="2.7" fill="#DF536B" fill-opacity="0.65" dominant-baseline="central" textLength="10.2" lengthAdjust="spacingAndGlyphs">bo3ATna</text>
<text x="194.7" y="456.5" font-size="2.7" fill="#DF536B" fill-opacity="0.65" dominant-baseline="central" textLength="5.8" lengthAdjust="spacingAndGlyphs">f2ar</text>
<text x="201.5" y="447.4" font-size="2.7" fill="#DF536B" fill-opacity="0.65" dominant-baseline="central" textLength="11.6" lengthAdjust="spacingAndGlyphs">TAAc0KPD</text>
<text x="205.5" y="452.8" font-size="2.7" fill="#DF536B" fill-opacity="0.65" dominant-baseline="central" textLength="7.2" lengthAdjust="spacingAndGlyphs">E3hiC</text>
<text x="188.6" y="446.2" font-size="2.7" fill="#DF536B" fill-opacity="0.65" dominant-baseline="central" textLength="11.6" lengthAdjust="spacingAndGlyphs">g_fmKlvA</text>
<line x1="200.0" y1="428.0" x2="155.2" y2="372.8" stroke="#DF536B" stroke-width="0.45" stroke-opacity="0.7"/>
<line x1="200.0" y1="428.0" x2="157.0" y2="371.0" stroke="#DF536B" stroke-width="0.45" stroke-opacity="0.7"/>
<line x1="200.0" y1="428.0" x2="160.0" y2="373.0" stroke="#DF536B" stroke-width="0.45" stroke-opacity="0.7"/>
<line x1="200.0" y1="428.0" x2="158.5" y2="376.0" stroke="#DF536B" stroke-width="0.45" stroke-opacity="0.7"/>
<line x1="200.0" y1="428.0" x2="162.0" y2="378.0" stroke="#DF536B" stroke-width="0.45" stroke-opacity="0.7"/>
<line x1="200.0" y1="428.0" x2="151.0" y2="380.0" stroke="#DF536B" stroke-width="0.45" stroke-opacity="0.7"/>
<line x1="200.0" y1="428.0" x2="166.0" y2="382.0" stroke="#DF536B" stroke-width="0.45" stroke-opacity="0.7"/>
<line x1="200.0" y1="428.0" x2="172.0" y2="384.0" stroke="#DF536B" stroke-width="0.45" stroke-opacity="0.7"/>
<line x1="200.0" y1="428.0" x2="146.0" y2="386.0" stroke="#DF536B" stroke-width="0.45" stroke-opacity="0.7"/>
<line x1="200.0" y1="428.0" x2="140.0" y2="392.0" stroke="#DF536B" stroke-width="0.45" stroke-opacity="0.7"/>
<line x1="200.0" y1="428.0" x2="155.0" y2="392.5" stroke="#DF536B" stroke-width="0.45" stroke-opacity="0.7"/>
<line x1="200.0" y1="428.0" x2="112.0" y2="386.4" stroke="#DF536B" stroke-width="0.45" stroke-opacity="0.7"/>
<line x1="200.0" y1="428.0" x2="110.0" y2="398.7" stroke="#DF536B" stroke-width="0.45" stroke-opacity="0.7"/>
<line x1="200.0" y1="428.0" x2="125.0" y2="395.0" stroke="#DF536B" stroke-width="0.45" stroke-opacity="0.7"/>
<line x1="200.0" y1="428.0" x2="127.0" y2="399.0" stroke="#DF536B" stroke-width="0.45" stroke-opacity="0.7"/>
<line x1="200.0" y1="428.0" x2="118.0" y2="415.5" stroke="#DF536B" stroke-width="0.45" stroke-opacity="0.7"/>
<line x1="200.0" y1="428.0" x2="210.5" y2="384.5" stroke="#DF536B" stroke-width="0.45" stroke-opacity="0.7"/>
<line x1="200.0" y1="428.0" x2="213.6" y2="409.0" stroke="#DF536B" stroke-width="0.45" stroke-opacity="0.7"/>
<line x1="200.0" y1="428.0" x2="207.8" y2="409.6" stroke="#DF536B" stroke-width="0.45" stroke-opacity="0.7"/>
<line x1="200.0" y1="428.0" x2="215.0" y2="405.0" stroke="#DF536B" stroke-width="0.45" stroke-opacity="0.7"/>
<line x1="200.0" y1="428.0" x2="186.0" y2="398.0" stroke="#DF536B" stroke-width="0.45" stroke-opacity="0.7"/>
<line x1="200.0" y1="428.0" x2="192.0" y2="400.7" stroke="#DF536B" stroke-width="0.45" stroke-opacity="0.7"/>
<line x1="200.0" y1="428.0" x2="173.0" y2="400.3" stroke="#DF536B" stroke-width="0.45" stroke-opacity="0.7"/>
<line x1="200.0" y1="428.0" x2="183.5" y2="397.2" stroke="#DF536B" stroke-width="0.45" stroke-opacity="0.7"/>
<line x1="200.0" y1="428.0" x2="231.4" y2="461.3" stroke="#DF536B" stroke-width="0.45" stroke-opacity="0.7"/>
<line x1="200.0" y1="428.0" x2="237.8" y2="470.0" stroke="#DF536B" stroke-width="0.45" stroke-opacity="0.7"/>
<line x1="200.0" y1="428.0" x2="246.0" y2="447.0" stroke="#DF536B" stroke-width="0.45" stroke-opacity="0.7"/>
<line x1="200.0" y1="428.0" x2="245.0" y2="441.0" stroke="#DF536B" stroke-width="0.45" stroke-opacity="0.7"/>
<line x1="200.0" y1="428.0" x2="193.0" y2="460.0" stroke="#DF536B" stroke-width="0.45" stroke-opacity="0.7"/>
<line x1="200.0" y1="428.0" x2="185.0" y2="469.0" stroke="#DF536B" stroke-width="0.45" stroke-opacity="0.7"/>
<line x1="200.0" y1="428.0" x2="160.0" y2="467.0" stroke="#DF536B" stroke-width="0.45" stroke-opacity="0.7"/>
<line x1="200.0" y1="428.0" x2="172.0" y2="455.5" stroke="#DF536B" stroke-width="0.45" stroke-opacity="0.7"/>
<line x1="200.0" y1="428.0" x2="150.0" y2="455.0" stroke="#DF536B" stroke-width="0.45" stroke-opacity="0.7"/>
<text x="91.0" y="376.5" font-size="3.1" fill="#DF536B" fill-opacity="0.6" dominant-baseline="central" textLength="15.4" lengthAdjust="spacingAndGlyphs">RcSiAhl0</text>
<text x="124.0" y="379.4" font-size="3.1" fill="#DF536B" fill-opacity="0.6" dominant-baseline="central" textLength="7.0" lengthAdjust="spacingAndGlyphs">0K_</text>
<text x="107.2" y="386.4" font-size="3.1" fill="#DF536B" fill-opacity="0.6" dominant-baseline="central" textLength="13.1" lengthAdjust="spacingAndGlyphs">3Pfkdl</text>
<text x="101.3" y="389.2" font-size="3.1" fill="#DF536B" fill-opacity="0.6" dominant-baseline="central" textLength="14.6" lengthAdjust="spacingAndGlyphs">vhPiRl3</text>
<text x="105.7" y="398.7" font-size="3.1" fill="#DF536B" fill-opacity="0.6" dominant-baseline="central" textLength="11.7" lengthAdjust="spacingAndGlyphs">3tCgCK</text>
<text x="70.7" y="407.6" font-size="3.1" fill="#DF536B" fill-opacity="0.6" dominant-baseline="central" textLength="11.6" lengthAdjust="spacingAndGlyphs">aT2Gfo</text>
<text x="99.1" y="407.9" font-size="3.1" fill="#DF536B" fill-opacity="0.6" dominant-baseline="central" textLength="13.9" lengthAdjust="spacingAndGlyphs">eDtmKC0</text>
<text x="96.2" y="416.4" font-size="3.1" fill="#DF536B" fill-opacity="0.6" dominant-baseline="central" textLength="8.0" lengthAdjust="spacingAndGlyphs">oLRc</text>
<text x="123.2" y="395.2" font-size="3.1" fill="#DF536B" fill-opacity="0.6" dominant-baseline="central" textLength="13.2" lengthAdjust="spacingAndGlyphs">sdRg2i</text>
<text x="123.2" y="399.1" font-size="3.1" fill="#DF536B" fill-opacity="0.6" dominant-baseline="central" textLength="16.8" lengthAdjust="spacingAndGlyphs">n311TaoG</text>
<text x="115.2" y="415.5" font-size="3.1" fill="#DF536B" fill-opacity="0.6" dominant-baseline="central" textLength="6.6" lengthAdjust="spacingAndGlyphs">lSP</text>
<text x="139.9" y="355.0" font-size="3.1" fill="#DF536B" fill-opacity="0.6" dominant-baseline="central" textLength="10.5" lengthAdjust="spacingAndGlyphs">mTohE</text>
<text x="122.0" y="379.5" font-size="3.1" fill="#DF536B" fill-opacity="0.6" dominant-baseline="central" textLength="9.7" lengthAdjust="spacingAndGlyphs">lLpfa</text>
<text x="146.3" y="380.7" font-size="3.1" fill="#DF536B" fill-opacity="0.6" dominant-baseline="central" textLength="11.1" lengthAdjust="spacingAndGlyphs">SiDfr</text>
<text x="139.3" y="383.8" font-size="3.1" fill="#DF536B" fill-opacity="0.6" dominant-baseline="central" textLength="8.2" lengthAdjust="spacingAndGlyphs">u1DL</text>
<text x="141.0" y="387.3" font-size="3.1" fill="#DF536B" fill-opacity="0.6" dominant-baseline="central" textLength="19.9" lengthAdjust="spacingAndGlyphs">RbRER_A3kk</text>
<text x="137.5" y="392.0" font-size="3.1" fill="#DF536B" fill-opacity="0.6" dominant-baseline="central" textLength="12.9" lengthAdjust="spacingAndGlyphs">c0G3Dc</text>
<text x="155.0" y="392.6" font-size="3.1" fill="#DF536B" fill-opacity="0.6" dominant-baseline="central" textLength="9.4" lengthAdjust="spacingAndGlyphs">2fLp</text>
<text x="122.3" y="394.9" font-size="3.1" fill="#DF536B" fill-opacity="0.6" dominant-baseline="central" textLength="14.1" lengthAdjust="spacingAndGlyphs">DbfApEh</text>
<text x="171.4" y="383.8" font-size="3.1" fill="#DF536B" fill-opacity="0.6" dominant-baseline="central" textLength="3.5" lengthAdjust="spacingAndGlyphs">vi</text>
<text x="180.7" y="397.2" font-size="3.1" fill="#DF536B" fill-opacity="0.6" dominant-baseline="central" textLength="8.2" lengthAdjust="spacingAndGlyphs">dGCm</text>
<text x="137.5" y="367.5" font-size="3.1" fill="#DF536B" fill-opacity="0.6" dominant-baseline="central" textLength="5.9" lengthAdjust="spacingAndGlyphs">mgC</text>
<text x="197.8" y="371.8" font-size="3.1" fill="#DF536B" fill-opacity="0.6" dominant-baseline="central" textLength="30.4" lengthAdjust="spacingAndGlyphs">aPpmfnnGASfvcPT</text>
<text x="146.4" y="380.8" font-size="3.1" fill="#DF536B" fill-opacity="0.6" dominant-baseline="central" textLength="11.1" lengthAdjust="spacingAndGlyphs">DfSgs</text>
<text x="171.0" y="384.0" font-size="3.1" fill="#DF536B" fill-opacity="0.6" dominant-baseline="central" textLength="4.0" lengthAdjust="spacingAndGlyphs">ev</text>
<text x="182.0" y="398.0" font-size="3.1" fill="#DF536B" fill-opacity="0.6" dominant-baseline="central" textLength="7.0" lengthAdjust="spacingAndGlyphs">C0g</text>
<text x="184.4" y="400.7" font-size="3.1" fill="#DF536B" fill-opacity="0.6" dominant-baseline="central" textLength="14.0" lengthAdjust="spacingAndGlyphs">lCnphRv</text>
<text x="163.4" y="400.3" font-size="3.1" fill="#DF536B" fill-opacity="0.6" dominant-baseline="central" textLength="19.8" lengthAdjust="spacingAndGlyphs">PeAofK_cdu</text>
<text x="203.7" y="404.9" font-size="3.1" fill="#DF536B" fill-opacity="0.6" dominant-baseline="central" textLength="26.1" lengthAdjust="spacingAndGlyphs">uuKHeKeKrHCPp</text>
<text x="207.8" y="409.6" font-size="3.1" fill="#DF536B" fill-opacity="0.6" dominant-baseline="central" textLength="6.4" lengthAdjust="spacingAndGlyphs">Ted</text>
<text x="154.0" y="392.7" font-size="3.1" fill="#DF536B" fill-opacity="0.6" dominant-baseline="central" textLength="10.5" lengthAdjust="spacingAndGlyphs">vKt1u</text>
<text x="241.5" y="447.3" font-size="3.1" fill="#DF536B" fill-opacity="0.6" dominant-baseline="central" textLength="25.1" lengthAdjust="spacingAndGlyphs">H31uEbRcCTGft</text>
<text x="246.7" y="440.9" font-size="3.1" fill="#DF536B" fill-opacity="0.6" dominant-baseline="central" textLength="7.0" lengthAdjust="spacingAndGlyphs">dau</text>
<text x="237.8" y="470.1" font-size="3.1" fill="#DF536B" fill-opacity="0.6" dominant-baseline="central" textLength="4.2" lengthAdjust="spacingAndGlyphs">vl</text>
<text x="180.0" y="469.3" font-size="3.1" fill="#DF536B" fill-opacity="0.6" dominant-baseline="central" textLength="9.6" lengthAdjust="spacingAndGlyphs">hrbSb</text>
<text x="159.4" y="462.1" font-size="3.1" fill="#DF536B" fill-opacity="0.6" dominant-baseline="central" textLength="32.1" lengthAdjust="spacingAndGlyphs">bEaP10lbKgH2TgDG</text>
<text x="134.6" y="467.2" font-size="3.1" fill="#DF536B" fill-opacity="0.6" dominant-baseline="central" textLength="36.5" lengthAdjust="spacingAndGlyphs">t_GkvR100d12dSiGal3</text>
<text x="178.4" y="469.4" font-size="3.1" fill="#DF536B" fill-opacity="0.6" dominant-baseline="central" textLength="10.9" lengthAdjust="spacingAndGlyphs">tkThv</text>
<text x="149.2" y="455.5" font-size="3.1" fill="#DF536B" fill-opacity="0.6" dominant-baseline="central" textLength="19.0" lengthAdjust="spacingAndGlyphs">LaCpGtfKRd</text>
<text x="193.0" y="460.2" font-size="3.1" fill="#DF536B" fill-opacity="0.6" dominant-baseline="central" textLength="12.4" lengthAdjust="spacingAndGlyphs">0ecPSr</text>
<text x="120.0" y="406.0" font-size="3.1" fill="#DF536B" fill-opacity="0.6" dominant-baseline="central" textLength="10.0" lengthAdjust="spacingAndGlyphs">ClgGR</text>
<text x="128.0" y="411.0" font-size="3.1" fill="#DF536B" fill-opacity="0.6" dominant-baseline="central" textLength="12.0" lengthAdjust="spacingAndGlyphs">hPit2_</text>
<text x="104.0" y="412.0" font-size="3.1" fill="#DF536B" fill-opacity="0.6" dominant-baseline="central" textLength="12.0" lengthAdjust="spacingAndGlyphs">hmCGK_</text>
<text x="150.0" y="410.0" font-size="3.1" fill="#DF536B" fill-opacity="0.6" dominant-baseline="central" textLength="10.0" lengthAdjust="spacingAndGlyphs">S0Liv</text>
<text x="165.0" y="409.0" font-size="3.1" fill="#DF536B" fill-opacity="0.6" dominant-baseline="central" textLength="13.0" lengthAdjust="spacingAndGlyphs">b0prnR</text>
<text x="110.0" y="420.0" font-size="3.1" fill="#DF536B" fill-opacity="0.6" dominant-baseline="central" textLength="12.0" lengthAdjust="spacingAndGlyphs">SDuvbi</text>
<text x="100.0" y="423.0" font-size="3.1" fill="#DF536B" fill-opacity="0.6" dominant-baseline="central" textLength="12.0" lengthAdjust="spacingAndGlyphs">focrgr</text>
<text x="84.4" y="579.9" font-size="5.5" fill="#333" stroke="#333" stroke-width="0.15" dominant-baseline="central" textLength="17.6" lengthAdjust="spacingAndGlyphs">HRA17</text>
<text x="110.7" y="551.9" font-size="5.5" fill="#333" stroke="#333" stroke-width="0.15" dominant-baseline="central" textLength="17.5" lengthAdjust="spacingAndGlyphs">HRA19</text>
<text x="122.9" y="494.7" font-size="5.5" fill="#333" stroke="#333" stroke-width="0.15" dominant-baseline="central" textLength="17.8" lengthAdjust="spacingAndGlyphs">HRA24</text>
<text x="107.4" y="376.5" font-size="5.5" fill="#1a1a1a" stroke="#1a1a1a" stroke-width="0.2" dominant-baseline="central" textLength="14.4" lengthAdjust="spacingAndGlyphs">NC03</text>
<text x="130.5" y="350.3" font-size="5.5" fill="#3a1a22" stroke="#3a1a22" stroke-width="0.3" dominant-baseline="central" textLength="14.6" lengthAdjust="spacingAndGlyphs">NC12</text>
<text x="125.8" y="364.0" font-size="5.5" fill="#111" stroke="#111" stroke-width="0.3" dominant-baseline="central" textLength="22.2" lengthAdjust="spacingAndGlyphs">NCNM007</text>
<text x="127.5" y="364.4" font-size="5.5" fill="#111" stroke="#111" stroke-width="0.3" dominant-baseline="central" textLength="13.5" lengthAdjust="spacingAndGlyphs">NC05</text>
<text x="150.4" y="366.6" font-size="5.5" fill="#111" stroke="#111" stroke-width="0.3" dominant-baseline="central" textLength="14.0" lengthAdjust="spacingAndGlyphs">NC08</text>
<text x="145.1" y="370.6" font-size="5.5" fill="#222" stroke="#222" stroke-width="0.3" dominant-baseline="central" textLength="13.4" lengthAdjust="spacingAndGlyphs">NC02</text>
<text x="232.7" y="417.8" font-size="5.5" fill="#111" stroke="#111" stroke-width="0.3" dominant-baseline="central" textLength="21.6" lengthAdjust="spacingAndGlyphs">ACRC08</text>
<text x="228.6" y="422.2" font-size="5.5" fill="#222" stroke="#222" stroke-width="0.3" dominant-baseline="central" textLength="22.8" lengthAdjust="spacingAndGlyphs">ACRC13</text>
<text x="229.0" y="426.0" font-size="5.5" fill="#111" stroke="#111" stroke-width="0.5" dominant-baseline="central" textLength="24.7" lengthAdjust="spacingAndGlyphs">ACRC05</text>
<text x="230.0" y="428.6" font-size="5.5" fill="#111" stroke="#111" stroke-width="0.5" dominant-baseline="central" textLength="23.0" lengthAdjust="spacingAndGlyphs">ACRC16</text>
<text x="231.0" y="427.3" font-size="5.5" fill="#111" stroke="#111" stroke-width="0.5" dominant-baseline="central" textLength="23.0" lengthAdjust="spacingAndGlyphs">ACRC11</text>
<text x="229.5" y="431.0" font-size="5.5" fill="#222" stroke="#222" stroke-width="0.3" dominant-baseline="central" textLength="23.0" lengthAdjust="spacingAndGlyphs">ACRC02</text>
<text x="219.9" y="434.5" font-size="5.5" fill="#333" stroke="#333" stroke-width="0.3" dominant-baseline="central" textLength="30.3" lengthAdjust="spacingAndGlyphs">HRA21ACRC14</text>
<text x="214.0" y="440.9" font-size="5.5" fill="#222" stroke="#222" stroke-width="0.3" dominant-baseline="central" textLength="35.0" lengthAdjust="spacingAndGlyphs">HRA28ACRC12</text>
<text x="212.3" y="447.3" font-size="5.5" fill="#111" stroke="#111" stroke-width="0.5" dominant-baseline="central" textLength="22.7" lengthAdjust="spacingAndGlyphs">ARHRA09</text>
<text x="216.0" y="446.5" font-size="5.5" fill="#111" stroke="#111" stroke-width="0.5" dominant-baseline="central" textLength="20.0" lengthAdjust="spacingAndGlyphs">HRA05</text>
<text x="220.4" y="450.8" font-size="5.5" fill="#222" stroke="#222" stroke-width="0.3" dominant-baseline="central" textLength="17.0" lengthAdjust="spacingAndGlyphs">HRA03</text>
<text x="487.3" y="330.6" font-size="6.5" font-weight="bold" fill="#111" stroke="#111" stroke-width="0.12" dominant-baseline="central" textLength="119.3" lengthAdjust="spacingAndGlyphs">Total 1291 features (M 435, R 763, S 93)</text>
<text x="378.4" y="349.3" font-size="18.8" font-weight="bold" fill="#000">D</text>
<line x1="432.02" y1="541.45" x2="662.78" y2="541.45" stroke="#e2e2e2" stroke-width="0.7"/>
<line x1="444.84" y1="563.50" x2="560.22" y2="365.05" stroke="#e2e2e2" stroke-width="0.7"/>
<line x1="649.96" y1="563.50" x2="534.58" y2="365.05" stroke="#e2e2e2" stroke-width="0.7"/>
<line x1="444.84" y1="519.40" x2="649.96" y2="519.40" stroke="#e2e2e2" stroke-width="0.7"/>
<line x1="470.48" y1="563.50" x2="573.04" y2="387.10" stroke="#e2e2e2" stroke-width="0.7"/>
<line x1="624.32" y1="563.50" x2="521.76" y2="387.10" stroke="#e2e2e2" stroke-width="0.7"/>
<line x1="457.66" y1="497.35" x2="637.14" y2="497.35" stroke="#e2e2e2" stroke-width="0.7"/>
<line x1="496.12" y1="563.50" x2="585.86" y2="409.15" stroke="#e2e2e2" stroke-width="0.7"/>
<line x1="598.68" y1="563.50" x2="508.94" y2="409.15" stroke="#e2e2e2" stroke-width="0.7"/>
<line x1="470.48" y1="475.30" x2="624.32" y2="475.30" stroke="#e2e2e2" stroke-width="0.7"/>
<line x1="521.76" y1="563.50" x2="598.68" y2="431.20" stroke="#e2e2e2" stroke-width="0.7"/>
<line x1="573.04" y1="563.50" x2="496.12" y2="431.20" stroke="#e2e2e2" stroke-width="0.7"/>
<line x1="483.30" y1="453.25" x2="611.50" y2="453.25" stroke="#e2e2e2" stroke-width="0.7"/>
<line x1="547.40" y1="563.50" x2="611.50" y2="453.25" stroke="#e2e2e2" stroke-width="0.7"/>
<line x1="547.40" y1="563.50" x2="483.30" y2="453.25" stroke="#e2e2e2" stroke-width="0.7"/>
<line x1="496.12" y1="431.20" x2="598.68" y2="431.20" stroke="#e2e2e2" stroke-width="0.7"/>
<line x1="573.04" y1="563.50" x2="624.32" y2="475.30" stroke="#e2e2e2" stroke-width="0.7"/>
<line x1="521.76" y1="563.50" x2="470.48" y2="475.30" stroke="#e2e2e2" stroke-width="0.7"/>
<line x1="508.94" y1="409.15" x2="585.86" y2="409.15" stroke="#e2e2e2" stroke-width="0.7"/>
<line x1="598.68" y1="563.50" x2="637.14" y2="497.35" stroke="#e2e2e2" stroke-width="0.7"/>
<line x1="496.12" y1="563.50" x2="457.66" y2="497.35" stroke="#e2e2e2" stroke-width="0.7"/>
<line x1="521.76" y1="387.10" x2="573.04" y2="387.10" stroke="#e2e2e2" stroke-width="0.7"/>
<line x1="624.32" y1="563.50" x2="649.96" y2="519.40" stroke="#e2e2e2" stroke-width="0.7"/>
<line x1="470.48" y1="563.50" x2="444.84" y2="519.40" stroke="#e2e2e2" stroke-width="0.7"/>
<line x1="534.58" y1="365.05" x2="560.22" y2="365.05" stroke="#e2e2e2" stroke-width="0.7"/>
<line x1="649.96" y1="563.50" x2="662.78" y2="541.45" stroke="#e2e2e2" stroke-width="0.7"/>
<line x1="444.84" y1="563.50" x2="432.02" y2="541.45" stroke="#e2e2e2" stroke-width="0.7"/>
<polygon points="547.4,343.0 675.6,563.5 419.2,563.5" fill="none" stroke="#8c8c8c" stroke-width="0.9"/>
<line x1="432.02" y1="541.45" x2="426.02" y2="541.45" stroke="#9a9a9a" stroke-width="0.8"/>
<text x="424.42" y="541.45" font-size="7.9" fill="#3a3a3a" text-anchor="end" dominant-baseline="central" stroke="#3a3a3a" stroke-width="0.2">0.1</text>
<line x1="560.22" y1="365.05" x2="563.23" y2="359.86" stroke="#9a9a9a" stroke-width="0.8"/>
<text x="566.65" y="353.98" font-size="7.9" fill="#3a3a3a" text-anchor="middle" dominant-baseline="central" transform="rotate(-60 566.65 353.98)" stroke="#3a3a3a" stroke-width="0.2">0.1</text>
<line x1="649.96" y1="563.50" x2="652.97" y2="568.69" stroke="#9a9a9a" stroke-width="0.8"/>
<text x="657.39" y="576.30" font-size="7.9" fill="#3a3a3a" text-anchor="middle" dominant-baseline="central" transform="rotate(60 657.39 576.30)" stroke="#3a3a3a" stroke-width="0.2">0.1</text>
<line x1="444.84" y1="519.40" x2="438.84" y2="519.40" stroke="#9a9a9a" stroke-width="0.8"/>
<text x="437.24" y="519.40" font-size="7.9" fill="#3a3a3a" text-anchor="end" dominant-baseline="central" stroke="#3a3a3a" stroke-width="0.2">0.2</text>
<line x1="573.04" y1="387.10" x2="576.05" y2="381.91" stroke="#9a9a9a" stroke-width="0.8"/>
<text x="579.47" y="376.03" font-size="7.9" fill="#3a3a3a" text-anchor="middle" dominant-baseline="central" transform="rotate(-60 579.47 376.03)" stroke="#3a3a3a" stroke-width="0.2">0.2</text>
<line x1="624.32" y1="563.50" x2="627.33" y2="568.69" stroke="#9a9a9a" stroke-width="0.8"/>
<text x="631.75" y="576.30" font-size="7.9" fill="#3a3a3a" text-anchor="middle" dominant-baseline="central" transform="rotate(60 631.75 576.30)" stroke="#3a3a3a" stroke-width="0.2">0.2</text>
<line x1="457.66" y1="497.35" x2="451.66" y2="497.35" stroke="#9a9a9a" stroke-width="0.8"/>
<text x="450.06" y="497.35" font-size="7.9" fill="#3a3a3a" text-anchor="end" dominant-baseline="central" stroke="#3a3a3a" stroke-width="0.2">0.3</text>
<line x1="585.86" y1="409.15" x2="588.87" y2="403.96" stroke="#9a9a9a" stroke-width="0.8"/>
<text x="592.29" y="398.08" font-size="7.9" fill="#3a3a3a" text-anchor="middle" dominant-baseline="central" transform="rotate(-60 592.29 398.08)" stroke="#3a3a3a" stroke-width="0.2">0.3</text>
<line x1="598.68" y1="563.50" x2="601.69" y2="568.69" stroke="#9a9a9a" stroke-width="0.8"/>
<text x="606.11" y="576.30" font-size="7.9" fill="#3a3a3a" text-anchor="middle" dominant-baseline="central" transform="rotate(60 606.11 576.30)" stroke="#3a3a3a" stroke-width="0.2">0.3</text>
<line x1="470.48" y1="475.30" x2="464.48" y2="475.30" stroke="#9a9a9a" stroke-width="0.8"/>
<text x="462.88" y="475.30" font-size="7.9" fill="#3a3a3a" text-anchor="end" dominant-baseline="central" stroke="#3a3a3a" stroke-width="0.2">0.4</text>
<line x1="598.68" y1="431.20" x2="601.69" y2="426.01" stroke="#9a9a9a" stroke-width="0.8"/>
<text x="605.11" y="420.13" font-size="7.9" fill="#3a3a3a" text-anchor="middle" dominant-baseline="central" transform="rotate(-60 605.11 420.13)" stroke="#3a3a3a" stroke-width="0.2">0.4</text>
<line x1="573.04" y1="563.50" x2="576.05" y2="568.69" stroke="#9a9a9a" stroke-width="0.8"/>
<text x="580.47" y="576.30" font-size="7.9" fill="#3a3a3a" text-anchor="middle" dominant-baseline="central" transform="rotate(60 580.47 576.30)" stroke="#3a3a3a" stroke-width="0.2">0.4</text>
<line x1="483.30" y1="453.25" x2="477.30" y2="453.25" stroke="#9a9a9a" stroke-width="0.8"/>
<text x="475.70" y="453.25" font-size="7.9" fill="#3a3a3a" text-anchor="end" dominant-baseline="central" stroke="#3a3a3a" stroke-width="0.2">0.5</text>
<line x1="611.50" y1="453.25" x2="614.51" y2="448.06" stroke="#9a9a9a" stroke-width="0.8"/>
<text x="617.93" y="442.18" font-size="7.9" fill="#3a3a3a" text-anchor="middle" dominant-baseline="central" transform="rotate(-60 617.93 442.18)" stroke="#3a3a3a" stroke-width="0.2">0.5</text>
<line x1="547.40" y1="563.50" x2="550.41" y2="568.69" stroke="#9a9a9a" stroke-width="0.8"/>
<text x="554.83" y="576.30" font-size="7.9" fill="#3a3a3a" text-anchor="middle" dominant-baseline="central" transform="rotate(60 554.83 576.30)" stroke="#3a3a3a" stroke-width="0.2">0.5</text>
<line x1="496.12" y1="431.20" x2="490.12" y2="431.20" stroke="#9a9a9a" stroke-width="0.8"/>
<text x="488.52" y="431.20" font-size="7.9" fill="#3a3a3a" text-anchor="end" dominant-baseline="central" stroke="#3a3a3a" stroke-width="0.2">0.6</text>
<line x1="624.32" y1="475.30" x2="627.33" y2="470.11" stroke="#9a9a9a" stroke-width="0.8"/>
<text x="630.75" y="464.23" font-size="7.9" fill="#3a3a3a" text-anchor="middle" dominant-baseline="central" transform="rotate(-60 630.75 464.23)" stroke="#3a3a3a" stroke-width="0.2">0.6</text>
<line x1="521.76" y1="563.50" x2="524.77" y2="568.69" stroke="#9a9a9a" stroke-width="0.8"/>
<text x="529.19" y="576.30" font-size="7.9" fill="#3a3a3a" text-anchor="middle" dominant-baseline="central" transform="rotate(60 529.19 576.30)" stroke="#3a3a3a" stroke-width="0.2">0.6</text>
<line x1="508.94" y1="409.15" x2="502.94" y2="409.15" stroke="#9a9a9a" stroke-width="0.8"/>
<text x="501.34" y="409.15" font-size="7.9" fill="#3a3a3a" text-anchor="end" dominant-baseline="central" stroke="#3a3a3a" stroke-width="0.2">0.7</text>
<line x1="637.14" y1="497.35" x2="640.15" y2="492.16" stroke="#9a9a9a" stroke-width="0.8"/>
<text x="643.57" y="486.28" font-size="7.9" fill="#3a3a3a" text-anchor="middle" dominant-baseline="central" transform="rotate(-60 643.57 486.28)" stroke="#3a3a3a" stroke-width="0.2">0.7</text>
<line x1="496.12" y1="563.50" x2="499.13" y2="568.69" stroke="#9a9a9a" stroke-width="0.8"/>
<text x="503.55" y="576.30" font-size="7.9" fill="#3a3a3a" text-anchor="middle" dominant-baseline="central" transform="rotate(60 503.55 576.30)" stroke="#3a3a3a" stroke-width="0.2">0.7</text>
<line x1="521.76" y1="387.10" x2="515.76" y2="387.10" stroke="#9a9a9a" stroke-width="0.8"/>
<text x="514.16" y="387.10" font-size="7.9" fill="#3a3a3a" text-anchor="end" dominant-baseline="central" stroke="#3a3a3a" stroke-width="0.2">0.8</text>
<line x1="649.96" y1="519.40" x2="652.97" y2="514.21" stroke="#9a9a9a" stroke-width="0.8"/>
<text x="656.39" y="508.33" font-size="7.9" fill="#3a3a3a" text-anchor="middle" dominant-baseline="central" transform="rotate(-60 656.39 508.33)" stroke="#3a3a3a" stroke-width="0.2">0.8</text>
<line x1="470.48" y1="563.50" x2="473.49" y2="568.69" stroke="#9a9a9a" stroke-width="0.8"/>
<text x="477.91" y="576.30" font-size="7.9" fill="#3a3a3a" text-anchor="middle" dominant-baseline="central" transform="rotate(60 477.91 576.30)" stroke="#3a3a3a" stroke-width="0.2">0.8</text>
<line x1="534.58" y1="365.05" x2="528.58" y2="365.05" stroke="#9a9a9a" stroke-width="0.8"/>
<text x="526.98" y="365.05" font-size="7.9" fill="#3a3a3a" text-anchor="end" dominant-baseline="central" stroke="#3a3a3a" stroke-width="0.2">0.9</text>
<line x1="662.78" y1="541.45" x2="665.79" y2="536.26" stroke="#9a9a9a" stroke-width="0.8"/>
<text x="669.21" y="530.38" font-size="7.9" fill="#3a3a3a" text-anchor="middle" dominant-baseline="central" transform="rotate(-60 669.21 530.38)" stroke="#3a3a3a" stroke-width="0.2">0.9</text>
<line x1="444.84" y1="563.50" x2="447.85" y2="568.69" stroke="#9a9a9a" stroke-width="0.8"/>
<text x="452.27" y="576.30" font-size="7.9" fill="#3a3a3a" text-anchor="middle" dominant-baseline="central" transform="rotate(60 452.27 576.30)" stroke="#3a3a3a" stroke-width="0.2">0.9</text>
<text x="453.60" y="436.20" font-size="8.5" fill="#2a2a2a" text-anchor="middle" dominant-baseline="central" transform="rotate(-60 453.60 436.20)" stroke="#2a2a2a" stroke-width="0.2">ACRC</text>
<text x="638.90" y="431.30" font-size="8.5" fill="#2a2a2a" text-anchor="middle" dominant-baseline="central" transform="rotate(60 638.90 431.30)" stroke="#2a2a2a" stroke-width="0.2">HRA</text>
<text x="547.10" y="599.60" font-size="8.5" fill="#2a2a2a" text-anchor="middle" dominant-baseline="central" stroke="#2a2a2a" stroke-width="0.2">NC</text>
<circle cx="543.9" cy="349.1" r="1.15" fill="#16207c"/>
<circle cx="536.4" cy="361.0" r="1.15" fill="#16207c"/>
<circle cx="546.0" cy="361.5" r="1.15" fill="#16207c"/>
<circle cx="552.7" cy="361.9" r="1.15" fill="#16207c"/>
<circle cx="551.6" cy="368.0" r="1.15" fill="#16207c"/>
<circle cx="556.2" cy="368.5" r="1.15" fill="#16207c"/>
<circle cx="544.3" cy="372.4" r="1.15" fill="#16207c"/>
<circle cx="535.2" cy="373.3" r="1.15" fill="#16207c"/>
<circle cx="547.8" cy="378.9" r="1.15" fill="#16207c"/>
<circle cx="548.9" cy="378.9" r="1.15" fill="#16207c"/>
<circle cx="524.7" cy="381.5" r="1.15" fill="#16207c"/>
<circle cx="540.1" cy="387.3" r="1.15" fill="#16207c"/>
<circle cx="564.6" cy="390.3" r="1.15" fill="#16207c"/>
<circle cx="548.1" cy="393.1" r="1.15" fill="#16207c"/>
<circle cx="562.3" cy="396.6" r="1.15" fill="#16207c"/>
<circle cx="540.8" cy="400.4" r="1.15" fill="#16207c"/>
<circle cx="546.6" cy="401.3" r="1.15" fill="#16207c"/>
<circle cx="568.3" cy="400.1" r="1.15" fill="#16207c"/>
<circle cx="532.6" cy="403.6" r="1.15" fill="#16207c"/>
<circle cx="515.6" cy="406.2" r="1.15" fill="#16207c"/>
<circle cx="525.7" cy="406.2" r="1.15" fill="#16207c"/>
<circle cx="551.8" cy="405.7" r="1.15" fill="#16207c"/>
<circle cx="562.2" cy="404.3" r="1.15" fill="#16207c"/>
<circle cx="557.1" cy="410.9" r="1.15" fill="#16207c"/>
<circle cx="538.2" cy="418.5" r="1.15" fill="#16207c"/>
<circle cx="532.7" cy="403.5" r="1.15" fill="#16207c"/>
<circle cx="546.7" cy="401.8" r="1.15" fill="#16207c"/>
<circle cx="562.5" cy="404.0" r="1.15" fill="#16207c"/>
<circle cx="538.3" cy="418.7" r="1.15" fill="#16207c"/>
<circle cx="511.1" cy="432.4" r="1.15" fill="#16207c"/>
<circle cx="551.1" cy="431.5" r="1.15" fill="#16207c"/>
<circle cx="568.2" cy="426.3" r="1.15" fill="#16207c"/>
<circle cx="530.9" cy="444.1" r="1.15" fill="#16207c"/>
<circle cx="563.3" cy="445.5" r="1.15" fill="#16207c"/>
<circle cx="574.7" cy="444.8" r="1.15" fill="#16207c"/>
<circle cx="498.9" cy="443.4" r="1.15" fill="#16207c"/>
<circle cx="495.9" cy="447.6" r="1.15" fill="#16207c"/>
<circle cx="500.8" cy="456.9" r="1.15" fill="#16207c"/>
<circle cx="502.9" cy="462.7" r="1.15" fill="#16207c"/>
<circle cx="506.9" cy="460.8" r="1.15" fill="#16207c"/>
<circle cx="509.6" cy="462.0" r="1.15" fill="#16207c"/>
<circle cx="537.9" cy="459.5" r="1.15" fill="#16207c"/>
<circle cx="537.6" cy="466.5" r="1.15" fill="#16207c"/>
<circle cx="545.5" cy="466.5" r="1.15" fill="#16207c"/>
<circle cx="547.2" cy="465.3" r="1.15" fill="#16207c"/>
<circle cx="547.0" cy="471.3" r="1.15" fill="#16207c"/>
<circle cx="551.4" cy="468.8" r="1.15" fill="#16207c"/>
<circle cx="556.0" cy="464.3" r="1.15" fill="#16207c"/>
<circle cx="556.3" cy="452.5" r="1.15" fill="#16207c"/>
<circle cx="561.0" cy="462.7" r="1.15" fill="#16207c"/>
<circle cx="559.8" cy="472.7" r="1.15" fill="#16207c"/>
<circle cx="529.5" cy="469.2" r="1.15" fill="#16207c"/>
<circle cx="574.7" cy="465.7" r="1.15" fill="#16207c"/>
<circle cx="579.1" cy="468.3" r="1.15" fill="#16207c"/>
<circle cx="476.6" cy="475.0" r="1.15" fill="#16207c"/>
<circle cx="481.4" cy="478.8" r="1.15" fill="#16207c"/>
<circle cx="568.4" cy="426.3" r="1.15" fill="#16207c"/>
<circle cx="589.4" cy="426.6" r="1.15" fill="#16207c"/>
<circle cx="592.0" cy="440.6" r="1.15" fill="#16207c"/>
<circle cx="593.3" cy="454.8" r="1.15" fill="#16207c"/>
<circle cx="586.3" cy="464.8" r="1.15" fill="#16207c"/>
<circle cx="588.5" cy="462.2" r="1.15" fill="#16207c"/>
<circle cx="579.6" cy="468.3" r="1.15" fill="#16207c"/>
<circle cx="574.0" cy="465.1" r="1.15" fill="#16207c"/>
<circle cx="589.8" cy="469.2" r="1.15" fill="#16207c"/>
<circle cx="476.3" cy="475.3" r="1.15" fill="#16207c"/>
<circle cx="481.5" cy="478.8" r="1.15" fill="#16207c"/>
<circle cx="478.0" cy="485.4" r="1.15" fill="#16207c"/>
<circle cx="467.2" cy="480.5" r="1.15" fill="#16207c"/>
<circle cx="458.8" cy="494.2" r="1.15" fill="#16207c"/>
<circle cx="462.3" cy="495.9" r="1.15" fill="#16207c"/>
<circle cx="469.6" cy="497.5" r="1.15" fill="#16207c"/>
<circle cx="450.9" cy="508.9" r="1.15" fill="#16207c"/>
<circle cx="450.0" cy="522.0" r="1.15" fill="#16207c"/>
<circle cx="436.9" cy="532.5" r="1.15" fill="#16207c"/>
<circle cx="434.8" cy="536.5" r="1.15" fill="#16207c"/>
<circle cx="443.9" cy="540.9" r="1.15" fill="#16207c"/>
<circle cx="451.4" cy="540.9" r="1.15" fill="#16207c"/>
<circle cx="448.3" cy="546.2" r="1.15" fill="#16207c"/>
<circle cx="458.4" cy="545.0" r="1.15" fill="#16207c"/>
<circle cx="453.5" cy="550.2" r="1.15" fill="#16207c"/>
<circle cx="438.6" cy="552.0" r="1.15" fill="#16207c"/>
<circle cx="436.9" cy="555.5" r="1.15" fill="#16207c"/>
<circle cx="430.8" cy="556.2" r="1.15" fill="#16207c"/>
<circle cx="421.1" cy="560.2" r="1.15" fill="#16207c"/>
<circle cx="472.8" cy="531.6" r="1.15" fill="#16207c"/>
<circle cx="474.5" cy="533.4" r="1.15" fill="#16207c"/>
<circle cx="480.7" cy="541.5" r="1.15" fill="#16207c"/>
<circle cx="499.1" cy="494.9" r="1.15" fill="#16207c"/>
<circle cx="513.1" cy="499.4" r="1.15" fill="#16207c"/>
<circle cx="516.6" cy="489.3" r="1.15" fill="#16207c"/>
<circle cx="532.3" cy="488.9" r="1.15" fill="#16207c"/>
<circle cx="507.8" cy="553.7" r="1.15" fill="#16207c"/>
<circle cx="508.3" cy="552.5" r="1.15" fill="#16207c"/>
<circle cx="481.5" cy="560.5" r="1.15" fill="#16207c"/>
<circle cx="504.3" cy="535.7" r="1.15" fill="#16207c"/>
<circle cx="507.8" cy="540.6" r="1.15" fill="#16207c"/>
<circle cx="575.1" cy="491.6" r="1.15" fill="#16207c"/>
<circle cx="609.3" cy="492.9" r="1.15" fill="#16207c"/>
<circle cx="590.2" cy="498.9" r="1.15" fill="#16207c"/>
<circle cx="571.8" cy="503.1" r="1.15" fill="#16207c"/>
<circle cx="578.4" cy="503.1" r="1.15" fill="#16207c"/>
<circle cx="578.4" cy="504.5" r="1.15" fill="#16207c"/>
<circle cx="604.0" cy="508.1" r="1.15" fill="#16207c"/>
<circle cx="611.0" cy="516.5" r="1.15" fill="#16207c"/>
<circle cx="594.8" cy="518.5" r="1.15" fill="#16207c"/>
<circle cx="579.7" cy="528.8" r="1.15" fill="#16207c"/>
<circle cx="601.4" cy="528.1" r="1.15" fill="#16207c"/>
<circle cx="623.7" cy="529.4" r="1.15" fill="#16207c"/>
<circle cx="638.8" cy="525.2" r="1.15" fill="#16207c"/>
<circle cx="647.4" cy="521.8" r="1.15" fill="#16207c"/>
<circle cx="576.4" cy="536.6" r="1.15" fill="#16207c"/>
<circle cx="580.4" cy="540.2" r="1.15" fill="#16207c"/>
<circle cx="603.4" cy="536.6" r="1.15" fill="#16207c"/>
<circle cx="569.9" cy="551.4" r="1.15" fill="#16207c"/>
<circle cx="612.6" cy="553.3" r="1.15" fill="#16207c"/>
<circle cx="622.4" cy="548.5" r="1.15" fill="#16207c"/>
<circle cx="634.2" cy="543.2" r="1.15" fill="#16207c"/>
<circle cx="641.5" cy="544.1" r="1.15" fill="#16207c"/>
<circle cx="640.2" cy="551.4" r="1.15" fill="#16207c"/>
<circle cx="634.2" cy="561.0" r="1.15" fill="#16207c"/>
<circle cx="636.9" cy="560.3" r="1.15" fill="#16207c"/>
<circle cx="595.7" cy="561.2" r="1.15" fill="#16207c"/>
<circle cx="592.2" cy="562.9" r="1.15" fill="#16207c"/>
<circle cx="593.5" cy="455.0" r="1.15" fill="#16207c"/>
<circle cx="586.3" cy="464.7" r="1.15" fill="#16207c"/>
<circle cx="588.9" cy="462.5" r="1.15" fill="#16207c"/>
<circle cx="589.5" cy="469.3" r="1.15" fill="#16207c"/>
<circle cx="585.0" cy="481.1" r="1.15" fill="#16207c"/>
<circle cx="591.8" cy="481.9" r="1.15" fill="#16207c"/>
<circle cx="586.6" cy="485.2" r="1.15" fill="#16207c"/>
<circle cx="616.5" cy="483.1" r="1.15" fill="#16207c"/>
<circle cx="624.7" cy="482.5" r="1.15" fill="#16207c"/>
<circle cx="609.2" cy="493.1" r="1.15" fill="#16207c"/>
<circle cx="590.2" cy="499.0" r="1.15" fill="#16207c"/>
<circle cx="603.9" cy="508.1" r="1.15" fill="#16207c"/>
<circle cx="610.9" cy="516.6" r="1.15" fill="#16207c"/>
<circle cx="595.1" cy="518.3" r="1.15" fill="#16207c"/>
<circle cx="531.0" cy="470.0" r="1.15" fill="#16207c"/>
<circle cx="522.0" cy="458.0" r="1.15" fill="#16207c"/>
<circle cx="545.0" cy="483.0" r="1.15" fill="#16207c"/>
<circle cx="556.0" cy="487.0" r="1.15" fill="#16207c"/>
<circle cx="567.0" cy="490.0" r="1.15" fill="#16207c"/>
<circle cx="583.0" cy="476.0" r="1.15" fill="#16207c"/>
<circle cx="519.0" cy="521.0" r="1.15" fill="#16207c"/>
<circle cx="509.0" cy="527.0" r="1.15" fill="#16207c"/>
<circle cx="514.0" cy="540.0" r="1.15" fill="#16207c"/>
<circle cx="540.0" cy="533.0" r="1.15" fill="#16207c"/>
<circle cx="553.0" cy="545.0" r="1.15" fill="#16207c"/>
<circle cx="560.0" cy="553.0" r="1.15" fill="#16207c"/>
<circle cx="571.0" cy="528.0" r="1.15" fill="#16207c"/>
<circle cx="526.0" cy="553.0" r="1.15" fill="#16207c"/>
<circle cx="545.0" cy="556.0" r="1.15" fill="#16207c"/>
<circle cx="490.0" cy="470.0" r="1.15" fill="#16207c"/>
<circle cx="520.0" cy="430.0" r="1.15" fill="#16207c"/>
<circle cx="580.0" cy="420.0" r="1.15" fill="#16207c"/>
<circle cx="600.0" cy="440.0" r="1.15" fill="#16207c"/>
<circle cx="655.0" cy="540.0" r="1.15" fill="#16207c"/>
<circle cx="660.0" cy="553.0" r="1.15" fill="#16207c"/>
<circle cx="628.0" cy="556.0" r="1.15" fill="#16207c"/>
<circle cx="645.0" cy="533.0" r="1.15" fill="#16207c"/>
<circle cx="466.0" cy="516.0" r="1.15" fill="#16207c"/>
<circle cx="460.0" cy="528.0" r="1.15" fill="#16207c"/>
<circle cx="492.0" cy="548.0" r="1.15" fill="#16207c"/>
<circle cx="465.0" cy="553.0" r="1.15" fill="#16207c"/>
<circle cx="419.3" cy="563.5" r="1.15" fill="#16207c"/>
<circle cx="421.9" cy="563.5" r="1.15" fill="#16207c"/>
<circle cx="423.9" cy="563.5" r="1.15" fill="#16207c"/>
<circle cx="429.8" cy="563.5" r="1.15" fill="#16207c"/>
<circle cx="431.8" cy="563.5" r="1.15" fill="#16207c"/>
<circle cx="433.1" cy="563.5" r="1.15" fill="#16207c"/>
<circle cx="434.7" cy="563.5" r="1.15" fill="#16207c"/>
<circle cx="440.6" cy="563.5" r="1.15" fill="#16207c"/>
<circle cx="460.3" cy="563.5" r="1.15" fill="#16207c"/>
<circle cx="462.3" cy="563.5" r="1.15" fill="#16207c"/>
<circle cx="463.9" cy="563.5" r="1.15" fill="#16207c"/>
<circle cx="467.2" cy="563.5" r="1.15" fill="#16207c"/>
<circle cx="471.2" cy="563.5" r="1.15" fill="#16207c"/>
<circle cx="486.3" cy="563.5" r="1.15" fill="#16207c"/>
<circle cx="491.5" cy="563.5" r="1.15" fill="#16207c"/>
<circle cx="519.5" cy="563.5" r="1.15" fill="#16207c"/>
<circle cx="524.4" cy="563.5" r="1.15" fill="#16207c"/>
<circle cx="575.0" cy="563.5" r="1.15" fill="#16207c"/>
<circle cx="591.7" cy="563.5" r="1.15" fill="#16207c"/>
<circle cx="609.1" cy="563.5" r="1.15" fill="#16207c"/>
<circle cx="623.8" cy="563.5" r="1.15" fill="#16207c"/>
<circle cx="645.9" cy="563.5" r="1.15" fill="#16207c"/>
<circle cx="651.4" cy="563.5" r="1.15" fill="#16207c"/>
<circle cx="661.7" cy="563.5" r="1.15" fill="#16207c"/>
<circle cx="674.0" cy="563.5" r="1.15" fill="#16207c"/>
<circle cx="430.8" cy="555.9" r="1.15" fill="#16207c"/>
<circle cx="436.7" cy="554.9" r="1.15" fill="#16207c"/>
<circle cx="438.6" cy="552.0" r="1.15" fill="#16207c"/>
<circle cx="507.6" cy="553.9" r="1.15" fill="#16207c"/>
<circle cx="542.1" cy="558.9" r="1.15" fill="#16207c"/>
<circle cx="546.1" cy="558.3" r="1.15" fill="#16207c"/>
<circle cx="482.0" cy="560.2" r="1.15" fill="#16207c"/>
<circle cx="547.0" cy="558.3" r="1.15" fill="#16207c"/>
<circle cx="569.6" cy="551.6" r="1.15" fill="#16207c"/>
<circle cx="613.0" cy="553.0" r="1.15" fill="#16207c"/>
<circle cx="633.7" cy="560.2" r="1.15" fill="#16207c"/>
<circle cx="636.6" cy="559.9" r="1.15" fill="#16207c"/>
<circle cx="640.6" cy="551.6" r="1.15" fill="#16207c"/>
<circle cx="656.4" cy="552.4" r="1.15" fill="#16207c"/>
<circle cx="616.5" cy="483.0" r="1.15" fill="#16207c"/>
<circle cx="624.3" cy="482.3" r="1.15" fill="#16207c"/>
<circle cx="608.9" cy="492.9" r="1.15" fill="#16207c"/>
<circle cx="603.2" cy="508.1" r="1.15" fill="#16207c"/>
<circle cx="610.6" cy="516.2" r="1.15" fill="#16207c"/>
<circle cx="639.2" cy="525.1" r="1.15" fill="#16207c"/>
<circle cx="623.3" cy="529.3" r="1.15" fill="#16207c"/>
<circle cx="601.0" cy="527.8" r="1.15" fill="#16207c"/>
<circle cx="633.9" cy="543.3" r="1.15" fill="#16207c"/>
<circle cx="641.3" cy="544.1" r="1.15" fill="#16207c"/>
<circle cx="622.2" cy="548.4" r="1.15" fill="#16207c"/>
<circle cx="640.2" cy="551.1" r="1.15" fill="#16207c"/>
<circle cx="612.3" cy="553.2" r="1.15" fill="#16207c"/>
<circle cx="633.9" cy="560.6" r="1.15" fill="#16207c"/>
<circle cx="637.0" cy="559.6" r="1.15" fill="#16207c"/>
<circle cx="656.1" cy="552.6" r="1.15" fill="#16207c"/>
<circle cx="667.3" cy="555.3" r="1.15" fill="#16207c"/>
<circle cx="548.7" cy="345.3" r="1.15" fill="#16207c"/>
<circle cx="550.1" cy="347.6" r="1.15" fill="#16207c"/>
<circle cx="551.4" cy="349.9" r="1.15" fill="#16207c"/>
<circle cx="552.8" cy="352.3" r="1.15" fill="#16207c"/>
<circle cx="554.1" cy="354.6" r="1.15" fill="#16207c"/>
<circle cx="555.5" cy="356.9" r="1.15" fill="#16207c"/>
<circle cx="556.8" cy="359.2" r="1.15" fill="#16207c"/>
<circle cx="558.2" cy="361.5" r="1.15" fill="#16207c"/>
<circle cx="559.5" cy="363.8" r="1.15" fill="#16207c"/>
<circle cx="560.9" cy="366.2" r="1.15" fill="#16207c"/>
<circle cx="562.2" cy="368.5" r="1.15" fill="#16207c"/>
<circle cx="563.6" cy="370.8" r="1.15" fill="#16207c"/>
<circle cx="565.3" cy="373.9" r="1.15" fill="#16207c"/>
<circle cx="567.9" cy="378.3" r="1.15" fill="#16207c"/>
<circle cx="569.5" cy="380.9" r="1.15" fill="#16207c"/>
<circle cx="571.5" cy="384.5" r="1.15" fill="#16207c"/>
<circle cx="572.7" cy="386.4" r="1.15" fill="#16207c"/>
<circle cx="575.5" cy="391.3" r="1.15" fill="#16207c"/>
<circle cx="577.5" cy="394.8" r="1.15" fill="#16207c"/>
<circle cx="579.1" cy="397.5" r="1.15" fill="#16207c"/>
<circle cx="580.5" cy="399.9" r="1.15" fill="#16207c"/>
<circle cx="581.6" cy="401.9" r="1.15" fill="#16207c"/>
<circle cx="583.6" cy="405.2" r="1.15" fill="#16207c"/>
<circle cx="585.6" cy="408.7" r="1.15" fill="#16207c"/>
<circle cx="586.9" cy="410.9" r="1.15" fill="#16207c"/>
<circle cx="589.7" cy="415.8" r="1.15" fill="#16207c"/>
<circle cx="592.7" cy="420.8" r="1.15" fill="#16207c"/>
<circle cx="596.4" cy="427.2" r="1.15" fill="#16207c"/>
<circle cx="601.0" cy="435.2" r="1.15" fill="#16207c"/>
<circle cx="603.0" cy="438.7" r="1.15" fill="#16207c"/>
<circle cx="607.1" cy="445.8" r="1.15" fill="#16207c"/>
<circle cx="608.2" cy="447.5" r="1.15" fill="#16207c"/>
<circle cx="610.2" cy="451.0" r="1.15" fill="#16207c"/>
<circle cx="611.4" cy="453.0" r="1.15" fill="#16207c"/>
<circle cx="613.8" cy="457.2" r="1.15" fill="#16207c"/>
<circle cx="614.4" cy="458.3" r="1.15" fill="#16207c"/>
<circle cx="616.4" cy="461.6" r="1.15" fill="#16207c"/>
<circle cx="619.2" cy="466.5" r="1.15" fill="#16207c"/>
<circle cx="619.4" cy="466.9" r="1.15" fill="#16207c"/>
<circle cx="624.4" cy="475.5" r="1.15" fill="#16207c"/>
<circle cx="625.6" cy="477.5" r="1.15" fill="#16207c"/>
<circle cx="626.5" cy="479.0" r="1.15" fill="#16207c"/>
<circle cx="627.4" cy="480.6" r="1.15" fill="#16207c"/>
<circle cx="640.1" cy="502.4" r="1.15" fill="#16207c"/>
<circle cx="643.7" cy="508.6" r="1.15" fill="#16207c"/>
<circle cx="648.0" cy="516.1" r="1.15" fill="#16207c"/>
<circle cx="648.8" cy="517.4" r="1.15" fill="#16207c"/>
<circle cx="654.6" cy="527.3" r="1.15" fill="#16207c"/>
<circle cx="660.0" cy="536.6" r="1.15" fill="#16207c"/>
<circle cx="661.4" cy="539.0" r="1.15" fill="#16207c"/>
<circle cx="662.9" cy="541.7" r="1.15" fill="#16207c"/>
<circle cx="666.6" cy="548.1" r="1.15" fill="#16207c"/>
<circle cx="668.4" cy="551.2" r="1.15" fill="#16207c"/>
<circle cx="670.9" cy="555.3" r="1.15" fill="#16207c"/>
<circle cx="672.8" cy="558.6" r="1.15" fill="#16207c"/>
<circle cx="675.0" cy="562.4" r="1.15" fill="#16207c"/>
<circle cx="421.1" cy="560.2" r="1.15" fill="#16207c"/>
<circle cx="425.6" cy="552.5" r="1.15" fill="#16207c"/>
<circle cx="434.8" cy="536.6" r="1.15" fill="#16207c"/>
<circle cx="437.1" cy="532.6" r="1.15" fill="#16207c"/>
<circle cx="450.9" cy="509.0" r="1.15" fill="#16207c"/>
<circle cx="452.5" cy="506.2" r="1.15" fill="#16207c"/>
<circle cx="459.3" cy="494.5" r="1.15" fill="#16207c"/>
<circle cx="467.3" cy="480.8" r="1.15" fill="#16207c"/>
<circle cx="468.0" cy="479.5" r="1.15" fill="#16207c"/>
<circle cx="475.9" cy="466.0" r="1.15" fill="#16207c"/>
<circle cx="478.9" cy="460.7" r="1.15" fill="#16207c"/>
<circle cx="483.7" cy="452.6" r="1.15" fill="#16207c"/>
<circle cx="494.7" cy="433.6" r="1.15" fill="#16207c"/>
<circle cx="500.4" cy="423.9" r="1.15" fill="#16207c"/>
<circle cx="503.8" cy="418.0" r="1.15" fill="#16207c"/>
<circle cx="507.4" cy="411.8" r="1.15" fill="#16207c"/>
<circle cx="508.2" cy="410.5" r="1.15" fill="#16207c"/>
<circle cx="521.4" cy="387.8" r="1.15" fill="#16207c"/>
<circle cx="536.6" cy="361.5" r="1.15" fill="#16207c"/>
<circle cx="544.2" cy="348.5" r="1.15" fill="#16207c"/>
<circle cx="530.0" cy="452.5" r="1.15" fill="#23983c"/>
<circle cx="536.5" cy="476.7" r="1.15" fill="#23983c"/>
<circle cx="617.2" cy="513.7" r="1.15" fill="#23983c"/>
<circle cx="623.7" cy="510.6" r="1.15" fill="#23983c"/>
<circle cx="624.4" cy="514.3" r="1.15" fill="#23983c"/>
<circle cx="627.0" cy="516.3" r="1.15" fill="#23983c"/>
<circle cx="632.9" cy="514.6" r="1.15" fill="#23983c"/>
<circle cx="631.0" cy="524.2" r="1.15" fill="#23983c"/>
<circle cx="604.7" cy="529.4" r="1.15" fill="#23983c"/>
<circle cx="610.0" cy="531.4" r="1.15" fill="#23983c"/>
<circle cx="606.0" cy="534.0" r="1.15" fill="#23983c"/>
<circle cx="615.8" cy="534.7" r="1.15" fill="#23983c"/>
<circle cx="566.6" cy="543.6" r="1.15" fill="#23983c"/>
<circle cx="579.0" cy="547.8" r="1.15" fill="#23983c"/>
<circle cx="581.0" cy="549.8" r="1.15" fill="#23983c"/>
<circle cx="577.7" cy="553.7" r="1.15" fill="#23983c"/>
<circle cx="576.4" cy="559.0" r="1.15" fill="#23983c"/>
<circle cx="586.3" cy="549.8" r="1.15" fill="#23983c"/>
<circle cx="623.4" cy="510.7" r="1.15" fill="#23983c"/>
<circle cx="626.9" cy="516.1" r="1.15" fill="#23983c"/>
<circle cx="633.2" cy="514.8" r="1.15" fill="#23983c"/>
<circle cx="480.7" cy="518.7" r="1.15" fill="#23983c"/>
<circle cx="485.9" cy="519.9" r="1.15" fill="#23983c"/>
<circle cx="492.1" cy="520.8" r="1.15" fill="#23983c"/>
<circle cx="480.7" cy="530.4" r="1.15" fill="#23983c"/>
<circle cx="483.3" cy="531.3" r="1.15" fill="#23983c"/>
<circle cx="482.4" cy="524.3" r="1.15" fill="#23983c"/>
<circle cx="558.0" cy="481.0" r="1.15" fill="#23983c"/>
<circle cx="524.3" cy="525.3" r="1.15" fill="#23983c"/>
<circle cx="530.8" cy="520.7" r="1.15" fill="#23983c"/>
<circle cx="524.3" cy="526.4" r="1.15" fill="#23983c"/>
<circle cx="526.8" cy="522.2" r="1.15" fill="#23983c"/>
<circle cx="529.0" cy="523.7" r="1.15" fill="#23983c"/>
<circle cx="527.5" cy="516.9" r="1.15" fill="#23983c"/>
<circle cx="539.7" cy="526.9" r="1.15" fill="#23983c"/>
<circle cx="521.4" cy="525.5" r="1.15" fill="#23983c"/>
<circle cx="529.7" cy="524.0" r="1.15" fill="#23983c"/>
<circle cx="534.8" cy="532.8" r="1.15" fill="#23983c"/>
<circle cx="531.4" cy="529.7" r="1.15" fill="#23983c"/>
<circle cx="542.6" cy="523.4" r="1.15" fill="#23983c"/>
<circle cx="523.8" cy="525.3" r="1.15" fill="#23983c"/>
<circle cx="515.5" cy="520.0" r="1.15" fill="#23983c"/>
<circle cx="536.6" cy="529.0" r="1.15" fill="#23983c"/>
<circle cx="531.6" cy="517.9" r="1.15" fill="#23983c"/>
<circle cx="544.0" cy="529.0" r="1.15" fill="#23983c"/>
<circle cx="532.9" cy="526.4" r="1.15" fill="#23983c"/>
<circle cx="515.5" cy="516.0" r="1.15" fill="#23983c"/>
<circle cx="519.0" cy="528.1" r="1.15" fill="#23983c"/>
<circle cx="521.7" cy="521.4" r="1.15" fill="#23983c"/>
<circle cx="525.7" cy="525.0" r="1.15" fill="#23983c"/>
<circle cx="531.0" cy="525.2" r="1.15" fill="#23983c"/>
<circle cx="518.7" cy="510.9" r="1.15" fill="#23983c"/>
<circle cx="528.7" cy="524.7" r="1.15" fill="#23983c"/>
<circle cx="536.1" cy="525.0" r="1.15" fill="#23983c"/>
<circle cx="523.2" cy="524.0" r="1.15" fill="#23983c"/>
<circle cx="516.6" cy="517.6" r="1.15" fill="#23983c"/>
<circle cx="520.5" cy="522.9" r="1.15" fill="#23983c"/>
<circle cx="542.1" cy="529.3" r="1.15" fill="#23983c"/>
<circle cx="535.5" cy="526.1" r="1.15" fill="#23983c"/>
<circle cx="529.5" cy="522.4" r="1.15" fill="#23983c"/>
<circle cx="525.5" cy="514.8" r="1.15" fill="#23983c"/>
<circle cx="519.1" cy="517.3" r="1.15" fill="#23983c"/>
<circle cx="533.4" cy="527.0" r="1.15" fill="#23983c"/>
<circle cx="535.5" cy="530.5" r="1.15" fill="#23983c"/>
<circle cx="525.4" cy="526.6" r="1.15" fill="#23983c"/>
<circle cx="541.2" cy="526.5" r="1.15" fill="#23983c"/>
<circle cx="535.1" cy="524.6" r="1.15" fill="#23983c"/>
<circle cx="516.2" cy="521.4" r="1.15" fill="#23983c"/>
<circle cx="521.7" cy="522.6" r="1.15" fill="#23983c"/>
<circle cx="524.3" cy="523.9" r="1.15" fill="#23983c"/>
<circle cx="512.5" cy="527.3" r="1.15" fill="#23983c"/>
<circle cx="537.0" cy="524.4" r="1.15" fill="#23983c"/>
<circle cx="521.1" cy="522.1" r="1.15" fill="#23983c"/>
<circle cx="532.2" cy="526.0" r="1.15" fill="#23983c"/>
<circle cx="530.3" cy="517.4" r="1.15" fill="#23983c"/>
<circle cx="519.6" cy="526.3" r="1.15" fill="#23983c"/>
<circle cx="529.2" cy="518.7" r="1.15" fill="#23983c"/>
<circle cx="521.4" cy="517.2" r="1.15" fill="#23983c"/>
<circle cx="520.4" cy="525.9" r="1.15" fill="#23983c"/>
<circle cx="525.9" cy="527.0" r="1.15" fill="#23983c"/>
<circle cx="528.8" cy="518.6" r="1.15" fill="#23983c"/>
<circle cx="522.9" cy="530.4" r="1.15" fill="#23983c"/>
<circle cx="522.1" cy="518.7" r="1.15" fill="#23983c"/>
<circle cx="536.3" cy="525.7" r="1.15" fill="#23983c"/>
<circle cx="527.5" cy="528.6" r="1.15" fill="#23983c"/>
<circle cx="515.0" cy="522.2" r="1.15" fill="#23983c"/>
<circle cx="520.0" cy="517.0" r="1.15" fill="#23983c"/>
<circle cx="521.7" cy="526.2" r="1.15" fill="#23983c"/>
<circle cx="526.5" cy="516.9" r="1.15" fill="#23983c"/>
<circle cx="519.6" cy="527.0" r="1.15" fill="#23983c"/>
<circle cx="534.8" cy="521.3" r="1.15" fill="#23983c"/>
<circle cx="544.8" cy="526.0" r="1.15" fill="#23983c"/>
<circle cx="519.0" cy="521.1" r="1.15" fill="#23983c"/>
<circle cx="534.2" cy="530.6" r="1.15" fill="#23983c"/>
<circle cx="534.9" cy="523.6" r="1.15" fill="#23983c"/>
<circle cx="523.5" cy="517.6" r="1.15" fill="#23983c"/>
<circle cx="527.0" cy="521.3" r="1.15" fill="#23983c"/>
<circle cx="529.3" cy="519.5" r="1.15" fill="#23983c"/>
<circle cx="523.8" cy="519.6" r="1.15" fill="#23983c"/>
<circle cx="518.9" cy="517.5" r="1.15" fill="#23983c"/>
<circle cx="520.2" cy="517.8" r="1.15" fill="#23983c"/>
<circle cx="531.6" cy="524.7" r="1.15" fill="#23983c"/>
<circle cx="518.0" cy="523.2" r="1.15" fill="#23983c"/>
<circle cx="529.6" cy="529.0" r="1.15" fill="#23983c"/>
<circle cx="526.1" cy="522.5" r="1.15" fill="#23983c"/>
<circle cx="522.6" cy="522.8" r="1.15" fill="#23983c"/>
<circle cx="531.0" cy="524.9" r="1.15" fill="#23983c"/>
<circle cx="525.7" cy="525.1" r="1.15" fill="#23983c"/>
<circle cx="528.2" cy="524.5" r="1.15" fill="#23983c"/>
<circle cx="520.8" cy="522.7" r="1.15" fill="#23983c"/>
<circle cx="520.4" cy="519.0" r="1.15" fill="#23983c"/>
<circle cx="528.7" cy="531.1" r="1.15" fill="#23983c"/>
<circle cx="534.6" cy="525.1" r="1.15" fill="#23983c"/>
<circle cx="526.2" cy="526.7" r="1.15" fill="#23983c"/>
<circle cx="537.4" cy="529.9" r="1.15" fill="#23983c"/>
<circle cx="526.2" cy="523.9" r="1.15" fill="#23983c"/>
<circle cx="525.1" cy="522.0" r="1.15" fill="#23983c"/>
<circle cx="521.4" cy="521.3" r="1.15" fill="#23983c"/>
<circle cx="512.1" cy="515.9" r="1.15" fill="#23983c"/>
<circle cx="530.5" cy="520.9" r="1.15" fill="#23983c"/>
<circle cx="531.4" cy="519.9" r="1.15" fill="#23983c"/>
<circle cx="524.9" cy="524.3" r="1.15" fill="#23983c"/>
<circle cx="520.1" cy="519.4" r="1.15" fill="#23983c"/>
<circle cx="545.2" cy="525.0" r="1.15" fill="#23983c"/>
<circle cx="522.4" cy="520.4" r="1.15" fill="#23983c"/>
<circle cx="527.7" cy="523.5" r="1.15" fill="#23983c"/>
<circle cx="534.5" cy="527.8" r="1.15" fill="#23983c"/>
<circle cx="524.6" cy="521.6" r="1.15" fill="#23983c"/>
<circle cx="517.4" cy="516.1" r="1.15" fill="#23983c"/>
<circle cx="522.2" cy="524.9" r="1.15" fill="#23983c"/>
<circle cx="528.4" cy="526.5" r="1.15" fill="#23983c"/>
<circle cx="534.2" cy="524.4" r="1.15" fill="#23983c"/>
<circle cx="542.5" cy="525.0" r="1.15" fill="#23983c"/>
<circle cx="523.0" cy="521.0" r="1.15" fill="#23983c"/>
<circle cx="535.6" cy="524.8" r="1.15" fill="#23983c"/>
<circle cx="522.2" cy="523.8" r="1.15" fill="#23983c"/>
<circle cx="535.6" cy="524.9" r="1.15" fill="#23983c"/>
<circle cx="525.7" cy="526.9" r="1.15" fill="#23983c"/>
<circle cx="534.5" cy="528.3" r="1.15" fill="#23983c"/>
<circle cx="522.0" cy="523.3" r="1.15" fill="#23983c"/>
<circle cx="530.1" cy="517.8" r="1.15" fill="#23983c"/>
<circle cx="536.1" cy="525.7" r="1.15" fill="#23983c"/>
<circle cx="525.1" cy="530.8" r="1.15" fill="#23983c"/>
<circle cx="528.5" cy="521.2" r="1.15" fill="#23983c"/>
<circle cx="527.0" cy="525.4" r="1.15" fill="#23983c"/>
<circle cx="533.3" cy="524.6" r="1.15" fill="#23983c"/>
<circle cx="521.3" cy="519.7" r="1.15" fill="#23983c"/>
<circle cx="521.7" cy="518.6" r="1.15" fill="#23983c"/>
<circle cx="527.4" cy="521.8" r="1.15" fill="#23983c"/>
<circle cx="527.9" cy="520.7" r="1.15" fill="#23983c"/>
<circle cx="521.3" cy="521.5" r="1.15" fill="#23983c"/>
<circle cx="525.0" cy="526.9" r="1.15" fill="#23983c"/>
<circle cx="521.0" cy="522.8" r="1.15" fill="#23983c"/>
<circle cx="527.2" cy="518.9" r="1.15" fill="#23983c"/>
<circle cx="532.7" cy="525.2" r="1.15" fill="#23983c"/>
<circle cx="512.5" cy="522.3" r="1.15" fill="#23983c"/>
<circle cx="534.2" cy="522.2" r="1.15" fill="#23983c"/>
<circle cx="539.6" cy="526.7" r="1.15" fill="#23983c"/>
<circle cx="519.3" cy="523.6" r="1.15" fill="#23983c"/>
<circle cx="524.9" cy="518.3" r="1.15" fill="#23983c"/>
<circle cx="512.2" cy="521.0" r="1.15" fill="#23983c"/>
<circle cx="522.2" cy="524.6" r="1.15" fill="#23983c"/>
<circle cx="530.3" cy="522.3" r="1.15" fill="#23983c"/>
<circle cx="523.7" cy="528.8" r="1.15" fill="#23983c"/>
<circle cx="539.7" cy="528.8" r="1.15" fill="#23983c"/>
<circle cx="525.0" cy="519.5" r="1.15" fill="#23983c"/>
<circle cx="524.7" cy="528.7" r="1.15" fill="#23983c"/>
<circle cx="530.8" cy="523.2" r="1.15" fill="#23983c"/>
<circle cx="518.7" cy="522.2" r="1.15" fill="#23983c"/>
<circle cx="521.2" cy="522.2" r="1.15" fill="#23983c"/>
<circle cx="532.8" cy="528.4" r="1.15" fill="#23983c"/>
<circle cx="528.5" cy="522.5" r="1.15" fill="#23983c"/>
<circle cx="529.1" cy="530.1" r="1.15" fill="#23983c"/>
<circle cx="530.2" cy="519.2" r="1.15" fill="#23983c"/>
<circle cx="538.6" cy="526.8" r="1.15" fill="#23983c"/>
<circle cx="552.3" cy="527.3" r="1.15" fill="#23983c"/>
<circle cx="526.8" cy="522.3" r="1.15" fill="#23983c"/>
<circle cx="530.2" cy="522.1" r="1.15" fill="#23983c"/>
<circle cx="517.0" cy="514.5" r="1.15" fill="#23983c"/>
<circle cx="526.6" cy="521.5" r="1.15" fill="#23983c"/>
<circle cx="523.4" cy="529.9" r="1.15" fill="#23983c"/>
<circle cx="533.2" cy="528.5" r="1.15" fill="#23983c"/>
<circle cx="523.9" cy="523.8" r="1.15" fill="#23983c"/>
<circle cx="526.0" cy="522.5" r="1.15" fill="#23983c"/>
<circle cx="532.8" cy="526.8" r="1.15" fill="#23983c"/>
<circle cx="529.7" cy="524.5" r="1.15" fill="#23983c"/>
<circle cx="517.2" cy="518.7" r="1.15" fill="#23983c"/>
<circle cx="530.2" cy="522.8" r="1.15" fill="#23983c"/>
<circle cx="522.0" cy="523.5" r="1.15" fill="#23983c"/>
<circle cx="520.9" cy="519.7" r="1.15" fill="#23983c"/>
<circle cx="533.8" cy="523.6" r="1.15" fill="#23983c"/>
<circle cx="537.7" cy="527.5" r="1.15" fill="#23983c"/>
<circle cx="533.3" cy="528.7" r="1.15" fill="#23983c"/>
<circle cx="512.1" cy="519.8" r="1.15" fill="#23983c"/>
<circle cx="518.3" cy="519.9" r="1.15" fill="#23983c"/>
<circle cx="526.8" cy="527.6" r="1.15" fill="#23983c"/>
<circle cx="527.2" cy="529.1" r="1.15" fill="#23983c"/>
<circle cx="523.8" cy="522.5" r="1.15" fill="#23983c"/>
<circle cx="528.2" cy="526.9" r="1.15" fill="#23983c"/>
<circle cx="527.1" cy="521.3" r="1.15" fill="#23983c"/>
<circle cx="525.2" cy="518.2" r="1.15" fill="#23983c"/>
<circle cx="536.4" cy="528.0" r="1.15" fill="#23983c"/>
<circle cx="530.5" cy="525.1" r="1.15" fill="#23983c"/>
<circle cx="523.2" cy="521.2" r="1.15" fill="#23983c"/>
<circle cx="533.2" cy="522.0" r="1.15" fill="#23983c"/>
<circle cx="521.9" cy="527.7" r="1.15" fill="#23983c"/>
<circle cx="538.6" cy="526.9" r="1.15" fill="#23983c"/>
<circle cx="531.3" cy="525.0" r="1.15" fill="#23983c"/>
<circle cx="537.6" cy="524.2" r="1.15" fill="#23983c"/>
<circle cx="528.1" cy="525.3" r="1.15" fill="#23983c"/>
<circle cx="537.7" cy="524.9" r="1.15" fill="#23983c"/>
<circle cx="529.1" cy="522.2" r="1.15" fill="#23983c"/>
<circle cx="522.9" cy="520.2" r="1.15" fill="#23983c"/>
<circle cx="528.1" cy="526.7" r="1.15" fill="#23983c"/>
<circle cx="522.6" cy="520.4" r="1.15" fill="#23983c"/>
<circle cx="524.6" cy="524.1" r="1.15" fill="#23983c"/>
<circle cx="532.4" cy="520.3" r="1.15" fill="#23983c"/>
<circle cx="530.0" cy="520.6" r="1.15" fill="#23983c"/>
<circle cx="532.5" cy="521.3" r="1.15" fill="#23983c"/>
<circle cx="519.9" cy="519.4" r="1.15" fill="#23983c"/>
<circle cx="527.1" cy="520.0" r="1.15" fill="#23983c"/>
<circle cx="529.0" cy="524.3" r="1.15" fill="#23983c"/>
<circle cx="528.1" cy="524.6" r="1.15" fill="#23983c"/>
<circle cx="533.7" cy="522.4" r="1.15" fill="#23983c"/>
<circle cx="527.5" cy="523.4" r="1.15" fill="#23983c"/>
<circle cx="513.1" cy="521.7" r="1.15" fill="#23983c"/>
<circle cx="522.1" cy="519.9" r="1.15" fill="#23983c"/>
<circle cx="524.4" cy="523.1" r="1.15" fill="#23983c"/>
<circle cx="529.8" cy="525.7" r="1.15" fill="#23983c"/>
<circle cx="522.6" cy="524.8" r="1.15" fill="#23983c"/>
<circle cx="530.4" cy="522.8" r="1.15" fill="#23983c"/>
<circle cx="527.4" cy="526.2" r="1.15" fill="#23983c"/>
<circle cx="530.5" cy="526.5" r="1.15" fill="#23983c"/>
<circle cx="528.2" cy="527.5" r="1.15" fill="#23983c"/>
<circle cx="543.1" cy="528.5" r="1.15" fill="#23983c"/>
<circle cx="516.3" cy="526.9" r="1.15" fill="#23983c"/>
<circle cx="523.5" cy="517.9" r="1.15" fill="#23983c"/>
<circle cx="510.9" cy="521.3" r="1.15" fill="#23983c"/>
<circle cx="535.2" cy="528.6" r="1.15" fill="#23983c"/>
<circle cx="524.8" cy="527.8" r="1.15" fill="#23983c"/>
<circle cx="527.0" cy="521.4" r="1.15" fill="#23983c"/>
<circle cx="528.0" cy="524.3" r="1.15" fill="#23983c"/>
<circle cx="527.8" cy="524.9" r="1.15" fill="#23983c"/>
<circle cx="512.2" cy="525.5" r="1.15" fill="#23983c"/>
<circle cx="523.5" cy="524.8" r="1.15" fill="#23983c"/>
<circle cx="521.9" cy="522.8" r="1.15" fill="#23983c"/>
<circle cx="526.3" cy="517.9" r="1.15" fill="#23983c"/>
<circle cx="530.2" cy="526.2" r="1.15" fill="#23983c"/>
<circle cx="519.7" cy="514.7" r="1.15" fill="#23983c"/>
<circle cx="523.0" cy="519.6" r="1.15" fill="#23983c"/>
<circle cx="528.3" cy="523.6" r="1.15" fill="#23983c"/>
<circle cx="538.8" cy="528.2" r="1.15" fill="#23983c"/>
<circle cx="525.7" cy="523.7" r="1.15" fill="#23983c"/>
<circle cx="507.3" cy="516.0" r="1.15" fill="#23983c"/>
<circle cx="521.0" cy="521.7" r="1.15" fill="#23983c"/>
<circle cx="529.7" cy="524.7" r="1.15" fill="#23983c"/>
<circle cx="534.0" cy="522.6" r="1.15" fill="#23983c"/>
<circle cx="529.6" cy="523.5" r="1.15" fill="#23983c"/>
<circle cx="527.6" cy="524.6" r="1.15" fill="#23983c"/>
<circle cx="525.5" cy="523.8" r="1.15" fill="#23983c"/>
<circle cx="527.3" cy="526.9" r="1.15" fill="#23983c"/>
<circle cx="526.7" cy="524.4" r="1.15" fill="#23983c"/>
<circle cx="545.7" cy="529.6" r="1.15" fill="#23983c"/>
<circle cx="531.1" cy="527.9" r="1.15" fill="#23983c"/>
<circle cx="520.5" cy="524.4" r="1.15" fill="#23983c"/>
<circle cx="532.7" cy="526.1" r="1.15" fill="#23983c"/>
<circle cx="534.3" cy="527.7" r="1.15" fill="#23983c"/>
<circle cx="535.8" cy="523.2" r="1.15" fill="#23983c"/>
<circle cx="530.5" cy="522.3" r="1.15" fill="#23983c"/>
<circle cx="536.2" cy="525.9" r="1.15" fill="#23983c"/>
<circle cx="518.4" cy="521.9" r="1.15" fill="#23983c"/>
<circle cx="520.5" cy="525.3" r="1.15" fill="#23983c"/>
<circle cx="525.1" cy="515.6" r="1.15" fill="#23983c"/>
<circle cx="524.8" cy="526.4" r="1.15" fill="#23983c"/>
<circle cx="529.8" cy="521.9" r="1.15" fill="#23983c"/>
<circle cx="532.0" cy="526.4" r="1.15" fill="#23983c"/>
<circle cx="537.8" cy="528.8" r="1.15" fill="#23983c"/>
<circle cx="530.1" cy="521.4" r="1.15" fill="#23983c"/>
<circle cx="529.5" cy="525.0" r="1.15" fill="#23983c"/>
<circle cx="527.6" cy="524.9" r="1.15" fill="#23983c"/>
<circle cx="519.2" cy="523.6" r="1.15" fill="#23983c"/>
<circle cx="527.6" cy="524.7" r="1.15" fill="#23983c"/>
<circle cx="526.8" cy="522.3" r="1.15" fill="#23983c"/>
<circle cx="529.3" cy="526.5" r="1.15" fill="#23983c"/>
<circle cx="525.3" cy="524.1" r="1.15" fill="#23983c"/>
<circle cx="522.2" cy="523.7" r="1.15" fill="#23983c"/>
<circle cx="527.6" cy="519.2" r="1.15" fill="#23983c"/>
<circle cx="535.6" cy="522.3" r="1.15" fill="#23983c"/>
<circle cx="528.1" cy="519.2" r="1.15" fill="#23983c"/>
<circle cx="515.4" cy="523.1" r="1.15" fill="#23983c"/>
<circle cx="517.8" cy="514.3" r="1.15" fill="#23983c"/>
<circle cx="526.0" cy="517.9" r="1.15" fill="#23983c"/>
<circle cx="526.1" cy="529.4" r="1.15" fill="#23983c"/>
<circle cx="524.8" cy="524.1" r="1.15" fill="#23983c"/>
<circle cx="531.4" cy="525.2" r="1.15" fill="#23983c"/>
<circle cx="526.7" cy="528.4" r="1.15" fill="#23983c"/>
<circle cx="526.9" cy="524.6" r="1.15" fill="#23983c"/>
<circle cx="528.3" cy="519.3" r="1.15" fill="#23983c"/>
<circle cx="529.7" cy="524.2" r="1.15" fill="#23983c"/>
<circle cx="532.0" cy="526.8" r="1.15" fill="#23983c"/>
<circle cx="538.4" cy="519.5" r="1.15" fill="#23983c"/>
<circle cx="523.6" cy="521.1" r="1.15" fill="#23983c"/>
<circle cx="521.5" cy="523.6" r="1.15" fill="#23983c"/>
<circle cx="527.0" cy="523.9" r="1.15" fill="#23983c"/>
<circle cx="516.2" cy="517.8" r="1.15" fill="#23983c"/>
<circle cx="527.0" cy="521.9" r="1.15" fill="#23983c"/>
<circle cx="523.3" cy="522.2" r="1.15" fill="#23983c"/>
<circle cx="525.6" cy="519.5" r="1.15" fill="#23983c"/>
<circle cx="539.0" cy="523.8" r="1.15" fill="#23983c"/>
<circle cx="532.0" cy="526.5" r="1.15" fill="#23983c"/>
<circle cx="534.2" cy="523.0" r="1.15" fill="#23983c"/>
<circle cx="520.6" cy="523.5" r="1.15" fill="#23983c"/>
<circle cx="529.3" cy="516.0" r="1.15" fill="#23983c"/>
<circle cx="509.4" cy="517.7" r="1.15" fill="#23983c"/>
<circle cx="524.8" cy="522.0" r="1.15" fill="#23983c"/>
<circle cx="530.4" cy="520.9" r="1.15" fill="#23983c"/>
<circle cx="545.8" cy="530.6" r="1.15" fill="#23983c"/>
<circle cx="536.5" cy="526.4" r="1.15" fill="#23983c"/>
<circle cx="513.1" cy="521.1" r="1.15" fill="#23983c"/>
<circle cx="523.7" cy="524.1" r="1.15" fill="#23983c"/>
<circle cx="526.7" cy="525.6" r="1.15" fill="#23983c"/>
<circle cx="521.4" cy="520.9" r="1.15" fill="#23983c"/>
<circle cx="527.5" cy="521.0" r="1.15" fill="#23983c"/>
<circle cx="524.3" cy="524.9" r="1.15" fill="#23983c"/>
<circle cx="540.8" cy="525.7" r="1.15" fill="#23983c"/>
<circle cx="533.2" cy="520.9" r="1.15" fill="#23983c"/>
<circle cx="524.3" cy="523.9" r="1.15" fill="#23983c"/>
<circle cx="531.5" cy="520.9" r="1.15" fill="#23983c"/>
<circle cx="531.6" cy="524.9" r="1.15" fill="#23983c"/>
<circle cx="536.6" cy="528.6" r="1.15" fill="#23983c"/>
<circle cx="531.3" cy="523.0" r="1.15" fill="#23983c"/>
<circle cx="529.3" cy="521.0" r="1.15" fill="#23983c"/>
<circle cx="521.8" cy="516.1" r="1.15" fill="#23983c"/>
<circle cx="518.5" cy="517.3" r="1.15" fill="#23983c"/>
<circle cx="526.8" cy="523.7" r="1.15" fill="#23983c"/>
<circle cx="518.2" cy="521.1" r="1.15" fill="#23983c"/>
<circle cx="530.3" cy="527.2" r="1.15" fill="#23983c"/>
<circle cx="526.8" cy="524.1" r="1.15" fill="#23983c"/>
<circle cx="524.9" cy="526.0" r="1.15" fill="#23983c"/>
<circle cx="516.7" cy="521.9" r="1.15" fill="#23983c"/>
<circle cx="511.5" cy="525.7" r="1.15" fill="#23983c"/>
<circle cx="533.9" cy="517.8" r="1.15" fill="#23983c"/>
<circle cx="523.8" cy="518.0" r="1.15" fill="#23983c"/>
<circle cx="515.3" cy="519.4" r="1.15" fill="#23983c"/>
<circle cx="521.4" cy="525.6" r="1.15" fill="#23983c"/>
<circle cx="523.9" cy="519.0" r="1.15" fill="#23983c"/>
<circle cx="526.9" cy="524.7" r="1.15" fill="#23983c"/>
<circle cx="533.1" cy="526.4" r="1.15" fill="#23983c"/>
<circle cx="517.2" cy="518.4" r="1.15" fill="#23983c"/>
<circle cx="526.2" cy="520.4" r="1.15" fill="#23983c"/>
<circle cx="532.6" cy="523.4" r="1.15" fill="#23983c"/>
<circle cx="526.9" cy="522.1" r="1.15" fill="#23983c"/>
<circle cx="527.7" cy="518.5" r="1.15" fill="#23983c"/>
<circle cx="541.9" cy="524.7" r="1.15" fill="#23983c"/>
<circle cx="522.4" cy="516.4" r="1.15" fill="#23983c"/>
<circle cx="526.8" cy="518.7" r="1.15" fill="#23983c"/>
<circle cx="529.7" cy="527.9" r="1.15" fill="#23983c"/>
<circle cx="531.6" cy="522.9" r="1.15" fill="#23983c"/>
<circle cx="536.2" cy="524.7" r="1.15" fill="#23983c"/>
<circle cx="527.1" cy="523.6" r="1.15" fill="#23983c"/>
<circle cx="524.1" cy="524.1" r="1.15" fill="#23983c"/>
<circle cx="518.9" cy="515.6" r="1.15" fill="#23983c"/>
<circle cx="535.7" cy="522.8" r="1.15" fill="#23983c"/>
<circle cx="525.0" cy="524.0" r="1.15" fill="#23983c"/>
<circle cx="524.2" cy="518.8" r="1.15" fill="#23983c"/>
<circle cx="526.0" cy="520.0" r="1.15" fill="#23983c"/>
<circle cx="531.2" cy="522.8" r="1.15" fill="#23983c"/>
<circle cx="525.6" cy="525.6" r="1.15" fill="#23983c"/>
<circle cx="516.8" cy="516.1" r="1.15" fill="#23983c"/>
<circle cx="532.4" cy="528.8" r="1.15" fill="#23983c"/>
<circle cx="528.0" cy="521.2" r="1.15" fill="#23983c"/>
<circle cx="535.9" cy="527.0" r="1.15" fill="#23983c"/>
<circle cx="534.4" cy="518.9" r="1.15" fill="#23983c"/>
<circle cx="526.5" cy="519.8" r="1.15" fill="#23983c"/>
<circle cx="519.8" cy="523.7" r="1.15" fill="#23983c"/>
<circle cx="532.4" cy="523.0" r="1.15" fill="#23983c"/>
<circle cx="525.7" cy="527.6" r="1.15" fill="#23983c"/>
<circle cx="531.9" cy="524.0" r="1.15" fill="#23983c"/>
<circle cx="530.9" cy="524.6" r="1.15" fill="#23983c"/>
<circle cx="518.7" cy="519.8" r="1.15" fill="#23983c"/>
<circle cx="529.3" cy="525.9" r="1.15" fill="#23983c"/>
<circle cx="519.1" cy="518.9" r="1.15" fill="#23983c"/>
<circle cx="523.4" cy="517.5" r="1.15" fill="#23983c"/>
<circle cx="535.0" cy="526.6" r="1.15" fill="#23983c"/>
<circle cx="536.4" cy="518.1" r="1.15" fill="#23983c"/>
<circle cx="521.8" cy="528.3" r="1.15" fill="#23983c"/>
<circle cx="517.7" cy="515.2" r="1.15" fill="#23983c"/>
<circle cx="528.9" cy="529.0" r="1.15" fill="#23983c"/>
<circle cx="531.8" cy="521.2" r="1.15" fill="#23983c"/>
<circle cx="531.2" cy="525.6" r="1.15" fill="#23983c"/>
<circle cx="529.2" cy="525.1" r="1.15" fill="#23983c"/>
<circle cx="533.1" cy="528.6" r="1.15" fill="#23983c"/>
<circle cx="536.8" cy="529.1" r="1.15" fill="#23983c"/>
<circle cx="526.4" cy="517.0" r="1.15" fill="#23983c"/>
<circle cx="531.2" cy="519.2" r="1.15" fill="#23983c"/>
<circle cx="543.1" cy="523.0" r="1.15" fill="#23983c"/>
<circle cx="514.7" cy="514.4" r="1.15" fill="#23983c"/>
<circle cx="530.1" cy="525.0" r="1.15" fill="#23983c"/>
<circle cx="531.9" cy="525.4" r="1.15" fill="#23983c"/>
<circle cx="522.0" cy="525.0" r="1.15" fill="#23983c"/>
<circle cx="522.6" cy="517.3" r="1.15" fill="#23983c"/>
<circle cx="533.6" cy="526.6" r="1.15" fill="#23983c"/>
<circle cx="521.0" cy="521.2" r="1.15" fill="#23983c"/>
<circle cx="534.5" cy="528.1" r="1.15" fill="#23983c"/>
<circle cx="520.0" cy="525.5" r="1.15" fill="#23983c"/>
<circle cx="509.6" cy="519.8" r="1.15" fill="#23983c"/>
<circle cx="530.0" cy="523.6" r="1.15" fill="#23983c"/>
<circle cx="528.2" cy="518.2" r="1.15" fill="#23983c"/>
<circle cx="519.4" cy="518.5" r="1.15" fill="#23983c"/>
<circle cx="516.3" cy="517.7" r="1.15" fill="#23983c"/>
<circle cx="519.3" cy="513.0" r="1.15" fill="#23983c"/>
<circle cx="517.6" cy="518.6" r="1.15" fill="#23983c"/>
<circle cx="513.8" cy="517.5" r="1.15" fill="#23983c"/>
<circle cx="521.3" cy="515.0" r="1.15" fill="#23983c"/>
<circle cx="519.0" cy="519.2" r="1.15" fill="#23983c"/>
<circle cx="522.8" cy="515.5" r="1.15" fill="#23983c"/>
<circle cx="524.0" cy="518.2" r="1.15" fill="#23983c"/>
<circle cx="520.5" cy="520.5" r="1.15" fill="#23983c"/>
<circle cx="522.8" cy="518.2" r="1.15" fill="#23983c"/>
<circle cx="523.8" cy="518.8" r="1.15" fill="#23983c"/>
<circle cx="525.0" cy="517.3" r="1.15" fill="#23983c"/>
<circle cx="513.0" cy="520.6" r="1.15" fill="#23983c"/>
<circle cx="523.1" cy="518.5" r="1.15" fill="#23983c"/>
<circle cx="520.2" cy="517.3" r="1.15" fill="#23983c"/>
<circle cx="520.4" cy="515.6" r="1.15" fill="#23983c"/>
<circle cx="523.0" cy="517.7" r="1.15" fill="#23983c"/>
<circle cx="516.2" cy="518.0" r="1.15" fill="#23983c"/>
<circle cx="518.7" cy="517.4" r="1.15" fill="#23983c"/>
<circle cx="522.1" cy="522.8" r="1.15" fill="#23983c"/>
<circle cx="515.8" cy="518.3" r="1.15" fill="#23983c"/>
<circle cx="522.8" cy="518.3" r="1.15" fill="#23983c"/>
<circle cx="525.9" cy="516.6" r="1.15" fill="#23983c"/>
<circle cx="518.7" cy="517.5" r="1.15" fill="#23983c"/>
<circle cx="514.6" cy="519.7" r="1.15" fill="#23983c"/>
<circle cx="515.1" cy="518.6" r="1.15" fill="#23983c"/>
<circle cx="524.7" cy="515.8" r="1.15" fill="#23983c"/>
<circle cx="519.3" cy="517.1" r="1.15" fill="#23983c"/>
<circle cx="526.8" cy="518.0" r="1.15" fill="#23983c"/>
<circle cx="513.0" cy="519.6" r="1.15" fill="#23983c"/>
<circle cx="524.1" cy="513.5" r="1.15" fill="#23983c"/>
<circle cx="509.2" cy="522.7" r="1.15" fill="#23983c"/>
<circle cx="520.3" cy="513.3" r="1.15" fill="#23983c"/>
<circle cx="524.2" cy="520.3" r="1.15" fill="#23983c"/>
<circle cx="510.6" cy="520.0" r="1.15" fill="#23983c"/>
<circle cx="522.8" cy="517.4" r="1.15" fill="#23983c"/>
<circle cx="517.2" cy="518.3" r="1.15" fill="#23983c"/>
<circle cx="516.8" cy="517.8" r="1.15" fill="#23983c"/>
<circle cx="519.0" cy="516.6" r="1.15" fill="#23983c"/>
<circle cx="531.1" cy="534.7" r="1.15" fill="#23983c"/>
<circle cx="536.9" cy="530.5" r="1.15" fill="#23983c"/>
<circle cx="550.3" cy="517.0" r="1.15" fill="#23983c"/>
<circle cx="523.1" cy="528.5" r="1.15" fill="#23983c"/>
<circle cx="542.4" cy="509.1" r="1.15" fill="#23983c"/>
<circle cx="514.5" cy="524.5" r="1.15" fill="#23983c"/>
<circle cx="525.2" cy="544.9" r="1.15" fill="#23983c"/>
<circle cx="525.9" cy="526.2" r="1.15" fill="#23983c"/>
<circle cx="529.2" cy="534.8" r="1.15" fill="#23983c"/>
<circle cx="519.0" cy="540.3" r="1.15" fill="#23983c"/>
<circle cx="501.5" cy="536.9" r="1.15" fill="#23983c"/>
<circle cx="533.9" cy="534.9" r="1.15" fill="#23983c"/>
<circle cx="548.1" cy="525.1" r="1.15" fill="#23983c"/>
<circle cx="529.0" cy="529.1" r="1.15" fill="#23983c"/>
<circle cx="511.8" cy="520.9" r="1.15" fill="#23983c"/>
<circle cx="508.9" cy="533.7" r="1.15" fill="#23983c"/>
<circle cx="483.5" cy="516.8" r="1.15" fill="#23983c"/>
<circle cx="523.3" cy="537.4" r="1.15" fill="#23983c"/>
<circle cx="520.3" cy="537.0" r="1.15" fill="#23983c"/>
<circle cx="520.9" cy="522.7" r="1.15" fill="#23983c"/>
<circle cx="495.6" cy="528.5" r="1.15" fill="#23983c"/>
<circle cx="551.2" cy="527.7" r="1.15" fill="#23983c"/>
<circle cx="504.4" cy="531.6" r="1.15" fill="#23983c"/>
<circle cx="498.8" cy="517.9" r="1.15" fill="#23983c"/>
<circle cx="540.8" cy="530.3" r="1.15" fill="#23983c"/>
<circle cx="538.3" cy="528.9" r="1.15" fill="#23983c"/>
<circle cx="520.0" cy="528.4" r="1.15" fill="#23983c"/>
<circle cx="516.5" cy="535.4" r="1.15" fill="#23983c"/>
<circle cx="500.2" cy="512.0" r="1.15" fill="#23983c"/>
<circle cx="507.7" cy="534.1" r="1.15" fill="#23983c"/>
<circle cx="512.8" cy="508.7" r="1.15" fill="#23983c"/>
<circle cx="518.7" cy="531.6" r="1.15" fill="#23983c"/>
<circle cx="528.2" cy="525.7" r="1.15" fill="#23983c"/>
<circle cx="495.7" cy="531.1" r="1.15" fill="#23983c"/>
<circle cx="505.4" cy="525.6" r="1.15" fill="#23983c"/>
<circle cx="534.8" cy="523.9" r="1.15" fill="#23983c"/>
<circle cx="491.7" cy="522.2" r="1.15" fill="#23983c"/>
<circle cx="532.2" cy="532.7" r="1.15" fill="#23983c"/>
<circle cx="500.1" cy="527.4" r="1.15" fill="#23983c"/>
<circle cx="526.9" cy="535.5" r="1.15" fill="#23983c"/>
<circle cx="528.8" cy="528.3" r="1.15" fill="#23983c"/>
<circle cx="516.8" cy="530.7" r="1.15" fill="#23983c"/>
<circle cx="535.0" cy="525.7" r="1.15" fill="#23983c"/>
<circle cx="517.2" cy="540.8" r="1.15" fill="#23983c"/>
<circle cx="521.3" cy="520.8" r="1.15" fill="#23983c"/>
<circle cx="533.4" cy="517.1" r="1.15" fill="#23983c"/>
<circle cx="503.7" cy="534.3" r="1.15" fill="#23983c"/>
<circle cx="522.4" cy="533.3" r="1.15" fill="#23983c"/>
<circle cx="535.0" cy="521.0" r="1.15" fill="#23983c"/>
<circle cx="530.5" cy="524.0" r="1.15" fill="#23983c"/>
<circle cx="525.6" cy="529.0" r="1.15" fill="#23983c"/>
<circle cx="520.6" cy="516.8" r="1.15" fill="#23983c"/>
<circle cx="527.0" cy="527.1" r="1.15" fill="#23983c"/>
<circle cx="530.9" cy="518.7" r="1.15" fill="#23983c"/>
<circle cx="525.3" cy="525.4" r="1.15" fill="#23983c"/>
<circle cx="514.8" cy="524.9" r="1.15" fill="#23983c"/>
<circle cx="517.8" cy="516.2" r="1.15" fill="#23983c"/>
<circle cx="512.8" cy="523.3" r="1.15" fill="#23983c"/>
<circle cx="529.8" cy="525.8" r="1.15" fill="#23983c"/>
<circle cx="545.7" cy="531.8" r="1.15" fill="#23983c"/>
<circle cx="527.3" cy="528.6" r="1.15" fill="#23983c"/>
<circle cx="498.2" cy="529.9" r="1.15" fill="#23983c"/>
<circle cx="543.1" cy="519.0" r="1.15" fill="#23983c"/>
<circle cx="544.1" cy="531.8" r="1.15" fill="#23983c"/>
<circle cx="526.8" cy="523.6" r="1.15" fill="#23983c"/>
<circle cx="522.4" cy="520.8" r="1.15" fill="#23983c"/>
<circle cx="521.7" cy="527.4" r="1.15" fill="#23983c"/>
<circle cx="523.1" cy="517.4" r="1.15" fill="#23983c"/>
<circle cx="537.5" cy="521.8" r="1.15" fill="#23983c"/>
<circle cx="528.6" cy="531.6" r="1.15" fill="#23983c"/>
<circle cx="518.5" cy="546.3" r="1.15" fill="#23983c"/>
<circle cx="524.0" cy="530.3" r="1.15" fill="#23983c"/>
<circle cx="517.8" cy="529.6" r="1.15" fill="#23983c"/>
<circle cx="500.9" cy="532.1" r="1.15" fill="#23983c"/>
<circle cx="515.8" cy="523.0" r="1.15" fill="#23983c"/>
<circle cx="534.7" cy="534.1" r="1.15" fill="#23983c"/>
<circle cx="514.9" cy="519.0" r="1.15" fill="#23983c"/>
<circle cx="488.4" cy="519.2" r="1.15" fill="#23983c"/>
<circle cx="530.2" cy="532.0" r="1.15" fill="#23983c"/>
<circle cx="500.9" cy="527.4" r="1.15" fill="#23983c"/>
<circle cx="539.5" cy="521.0" r="1.15" fill="#23983c"/>
<circle cx="512.7" cy="519.9" r="1.15" fill="#23983c"/>
<circle cx="528.9" cy="512.1" r="1.15" fill="#23983c"/>
<circle cx="519.8" cy="530.7" r="1.15" fill="#23983c"/>
<circle cx="521.1" cy="534.5" r="1.15" fill="#23983c"/>
<circle cx="532.3" cy="523.0" r="1.15" fill="#23983c"/>
<circle cx="505.3" cy="518.7" r="1.15" fill="#23983c"/>
<circle cx="530.1" cy="525.9" r="1.15" fill="#23983c"/>
<circle cx="523.9" cy="519.8" r="1.15" fill="#23983c"/>
<circle cx="541.2" cy="533.8" r="1.15" fill="#23983c"/>
<circle cx="534.6" cy="518.2" r="1.15" fill="#23983c"/>
<circle cx="565.3" cy="533.6" r="1.15" fill="#23983c"/>
<circle cx="504.0" cy="534.6" r="1.15" fill="#23983c"/>
<circle cx="519.9" cy="520.9" r="1.15" fill="#23983c"/>
<circle cx="509.3" cy="530.9" r="1.15" fill="#23983c"/>
<circle cx="527.1" cy="528.7" r="1.15" fill="#23983c"/>
<circle cx="518.4" cy="519.0" r="1.15" fill="#23983c"/>
<circle cx="526.2" cy="524.9" r="1.15" fill="#23983c"/>
<circle cx="518.6" cy="531.8" r="1.15" fill="#23983c"/>
<circle cx="550.2" cy="522.1" r="1.15" fill="#23983c"/>
<circle cx="538.1" cy="521.2" r="1.15" fill="#23983c"/>
<circle cx="536.0" cy="532.1" r="1.15" fill="#23983c"/>
<circle cx="522.6" cy="528.8" r="1.15" fill="#23983c"/>
<circle cx="509.1" cy="524.4" r="1.15" fill="#23983c"/>
<circle cx="537.9" cy="533.0" r="1.15" fill="#23983c"/>
<circle cx="559.5" cy="519.1" r="1.15" fill="#23983c"/>
<circle cx="514.3" cy="527.8" r="1.15" fill="#23983c"/>
<circle cx="523.0" cy="523.1" r="1.15" fill="#23983c"/>
<circle cx="515.1" cy="526.2" r="1.15" fill="#23983c"/>
<circle cx="543.2" cy="526.2" r="1.15" fill="#23983c"/>
<circle cx="509.5" cy="529.4" r="1.15" fill="#23983c"/>
<circle cx="478.6" cy="520.2" r="1.15" fill="#23983c"/>
<circle cx="511.5" cy="529.4" r="1.15" fill="#23983c"/>
<circle cx="484.1" cy="525.4" r="1.15" fill="#23983c"/>
<circle cx="504.3" cy="534.7" r="1.15" fill="#23983c"/>
<circle cx="535.2" cy="523.5" r="1.15" fill="#23983c"/>
<circle cx="529.8" cy="517.9" r="1.15" fill="#23983c"/>
<circle cx="525.6" cy="529.0" r="1.15" fill="#23983c"/>
<circle cx="539.7" cy="523.6" r="1.15" fill="#23983c"/>
<circle cx="486.4" cy="533.2" r="1.15" fill="#23983c"/>
<circle cx="504.1" cy="522.8" r="1.15" fill="#23983c"/>
<circle cx="516.0" cy="539.9" r="1.15" fill="#23983c"/>
<circle cx="521.2" cy="536.0" r="1.15" fill="#23983c"/>
<circle cx="523.2" cy="516.1" r="1.15" fill="#23983c"/>
<circle cx="529.6" cy="531.0" r="1.15" fill="#23983c"/>
<circle cx="512.7" cy="514.8" r="1.15" fill="#23983c"/>
<circle cx="569.1" cy="543.7" r="1.15" fill="#23983c"/>
<circle cx="528.9" cy="530.6" r="1.15" fill="#23983c"/>
<circle cx="537.6" cy="531.6" r="1.15" fill="#23983c"/>
<circle cx="497.5" cy="516.2" r="1.15" fill="#23983c"/>
<circle cx="535.7" cy="537.6" r="1.15" fill="#23983c"/>
<circle cx="539.7" cy="533.5" r="1.15" fill="#23983c"/>
<circle cx="521.8" cy="534.5" r="1.15" fill="#23983c"/>
<circle cx="547.7" cy="531.1" r="1.15" fill="#23983c"/>
<circle cx="542.8" cy="536.5" r="1.15" fill="#23983c"/>
<circle cx="510.2" cy="536.2" r="1.15" fill="#23983c"/>
<circle cx="509.4" cy="519.9" r="1.15" fill="#23983c"/>
<circle cx="548.8" cy="514.2" r="1.15" fill="#23983c"/>
<circle cx="518.9" cy="534.1" r="1.15" fill="#23983c"/>
<circle cx="528.5" cy="524.0" r="1.15" fill="#23983c"/>
<circle cx="506.6" cy="531.0" r="1.15" fill="#23983c"/>
<circle cx="530.8" cy="526.4" r="1.15" fill="#23983c"/>
<circle cx="505.9" cy="515.9" r="1.15" fill="#23983c"/>
<circle cx="521.9" cy="526.6" r="1.15" fill="#23983c"/>
<circle cx="535.8" cy="524.6" r="1.15" fill="#23983c"/>
<circle cx="537.1" cy="517.6" r="1.15" fill="#23983c"/>
<circle cx="493.5" cy="534.3" r="1.15" fill="#23983c"/>
<circle cx="515.0" cy="520.5" r="1.15" fill="#23983c"/>
<circle cx="519.7" cy="517.6" r="1.15" fill="#23983c"/>
<circle cx="516.4" cy="516.3" r="1.15" fill="#23983c"/>
<circle cx="524.9" cy="522.5" r="1.15" fill="#23983c"/>
<circle cx="521.2" cy="527.0" r="1.15" fill="#23983c"/>
<circle cx="529.4" cy="513.7" r="1.15" fill="#23983c"/>
<circle cx="524.6" cy="525.0" r="1.15" fill="#23983c"/>
<circle cx="503.1" cy="525.0" r="1.15" fill="#23983c"/>
<circle cx="530.4" cy="530.7" r="1.15" fill="#23983c"/>
<circle cx="554.8" cy="524.5" r="1.15" fill="#23983c"/>
<circle cx="524.4" cy="542.0" r="1.15" fill="#23983c"/>
<circle cx="512.2" cy="520.6" r="1.15" fill="#23983c"/>
<circle cx="514.5" cy="522.4" r="1.15" fill="#23983c"/>
<circle cx="521.6" cy="528.1" r="1.15" fill="#23983c"/>
<circle cx="509.6" cy="518.2" r="1.15" fill="#23983c"/>
<circle cx="521.2" cy="517.5" r="1.15" fill="#23983c"/>
<circle cx="508.7" cy="529.7" r="1.15" fill="#23983c"/>
<circle cx="520.5" cy="519.3" r="1.15" fill="#23983c"/>
<circle cx="498.5" cy="519.3" r="1.15" fill="#23983c"/>
<circle cx="497.7" cy="531.2" r="1.15" fill="#23983c"/>
<circle cx="534.2" cy="529.3" r="1.15" fill="#23983c"/>
<circle cx="527.2" cy="523.2" r="1.15" fill="#23983c"/>
<circle cx="544.8" cy="531.0" r="1.15" fill="#23983c"/>
<circle cx="540.6" cy="531.8" r="1.15" fill="#23983c"/>
<circle cx="557.7" cy="540.0" r="1.15" fill="#23983c"/>
<circle cx="541.6" cy="527.0" r="1.15" fill="#23983c"/>
<circle cx="557.0" cy="535.1" r="1.15" fill="#23983c"/>
<circle cx="559.5" cy="536.4" r="1.15" fill="#23983c"/>
<circle cx="545.0" cy="526.2" r="1.15" fill="#23983c"/>
<circle cx="546.7" cy="533.2" r="1.15" fill="#23983c"/>
<circle cx="541.9" cy="531.8" r="1.15" fill="#23983c"/>
<circle cx="547.6" cy="532.7" r="1.15" fill="#23983c"/>
<circle cx="547.2" cy="531.6" r="1.15" fill="#23983c"/>
<circle cx="548.2" cy="530.8" r="1.15" fill="#23983c"/>
<circle cx="557.6" cy="540.3" r="1.15" fill="#23983c"/>
<circle cx="550.9" cy="535.7" r="1.15" fill="#23983c"/>
<circle cx="551.7" cy="532.4" r="1.15" fill="#23983c"/>
<circle cx="560.1" cy="537.2" r="1.15" fill="#23983c"/>
<circle cx="564.8" cy="538.7" r="1.15" fill="#23983c"/>
<circle cx="548.8" cy="532.5" r="1.15" fill="#23983c"/>
<circle cx="561.6" cy="538.5" r="1.15" fill="#23983c"/>
<circle cx="544.1" cy="533.6" r="1.15" fill="#23983c"/>
<circle cx="557.2" cy="536.9" r="1.15" fill="#23983c"/>
<circle cx="554.4" cy="534.8" r="1.15" fill="#23983c"/>
<circle cx="540.9" cy="530.0" r="1.15" fill="#23983c"/>
<circle cx="543.5" cy="532.0" r="1.15" fill="#23983c"/>
<circle cx="542.9" cy="532.2" r="1.15" fill="#23983c"/>
<circle cx="557.3" cy="490.1" r="1.15" fill="#23983c"/>
<circle cx="559.0" cy="488.8" r="1.15" fill="#23983c"/>
<circle cx="550.4" cy="494.8" r="1.15" fill="#23983c"/>
<circle cx="555.0" cy="490.7" r="1.15" fill="#23983c"/>
<circle cx="554.5" cy="490.0" r="1.15" fill="#23983c"/>
<circle cx="549.5" cy="487.6" r="1.15" fill="#23983c"/>
<circle cx="548.1" cy="490.6" r="1.15" fill="#23983c"/>
<circle cx="547.1" cy="491.6" r="1.15" fill="#23983c"/>
<circle cx="550.6" cy="488.1" r="1.15" fill="#23983c"/>
<circle cx="555.0" cy="492.2" r="1.15" fill="#23983c"/>
<circle cx="548.3" cy="491.6" r="1.15" fill="#23983c"/>
<circle cx="553.8" cy="492.0" r="1.15" fill="#23983c"/>
<circle cx="554.0" cy="489.2" r="1.15" fill="#23983c"/>
<circle cx="551.4" cy="489.6" r="1.15" fill="#23983c"/>
<circle cx="551.5" cy="487.2" r="1.15" fill="#23983c"/>
<circle cx="557.5" cy="492.2" r="1.15" fill="#23983c"/>
<circle cx="551.3" cy="491.2" r="1.15" fill="#23983c"/>
<circle cx="556.7" cy="486.7" r="1.15" fill="#23983c"/>
<circle cx="551.9" cy="493.4" r="1.15" fill="#23983c"/>
<circle cx="556.1" cy="492.0" r="1.15" fill="#23983c"/>
<circle cx="557.2" cy="491.7" r="1.15" fill="#23983c"/>
<circle cx="557.2" cy="488.3" r="1.15" fill="#23983c"/>
<circle cx="557.0" cy="490.7" r="1.15" fill="#23983c"/>
<circle cx="550.3" cy="490.5" r="1.15" fill="#23983c"/>
<circle cx="554.9" cy="491.6" r="1.15" fill="#23983c"/>
<circle cx="552.4" cy="490.3" r="1.15" fill="#23983c"/>
<circle cx="552.5" cy="488.4" r="1.15" fill="#23983c"/>
<circle cx="553.2" cy="491.0" r="1.15" fill="#23983c"/>
<circle cx="551.2" cy="495.3" r="1.15" fill="#23983c"/>
<circle cx="553.1" cy="491.0" r="1.15" fill="#23983c"/>
<circle cx="549.4" cy="494.8" r="1.15" fill="#23983c"/>
<circle cx="555.8" cy="491.2" r="1.15" fill="#23983c"/>
<circle cx="554.7" cy="493.5" r="1.15" fill="#23983c"/>
<circle cx="552.2" cy="490.3" r="1.15" fill="#23983c"/>
<circle cx="555.2" cy="488.4" r="1.15" fill="#23983c"/>
<circle cx="552.2" cy="487.6" r="1.15" fill="#23983c"/>
<circle cx="554.2" cy="489.4" r="1.15" fill="#23983c"/>
<circle cx="553.8" cy="491.9" r="1.15" fill="#23983c"/>
<circle cx="553.0" cy="494.4" r="1.15" fill="#23983c"/>
<circle cx="550.7" cy="490.0" r="1.15" fill="#23983c"/>
<circle cx="592.6" cy="548.9" r="1.15" fill="#23983c"/>
<circle cx="590.9" cy="549.6" r="1.15" fill="#23983c"/>
<circle cx="590.1" cy="550.9" r="1.15" fill="#23983c"/>
<circle cx="591.2" cy="550.0" r="1.15" fill="#23983c"/>
<circle cx="589.1" cy="551.0" r="1.15" fill="#23983c"/>
<circle cx="585.1" cy="554.3" r="1.15" fill="#23983c"/>
<circle cx="583.6" cy="556.4" r="1.15" fill="#23983c"/>
<circle cx="600.3" cy="544.0" r="1.15" fill="#23983c"/>
<circle cx="594.5" cy="548.5" r="1.15" fill="#23983c"/>
<circle cx="582.7" cy="556.0" r="1.15" fill="#23983c"/>
<circle cx="588.7" cy="551.3" r="1.15" fill="#23983c"/>
<circle cx="599.4" cy="544.0" r="1.15" fill="#23983c"/>
<circle cx="599.2" cy="545.2" r="1.15" fill="#23983c"/>
<circle cx="588.5" cy="551.8" r="1.15" fill="#23983c"/>
<circle cx="599.3" cy="544.8" r="1.15" fill="#23983c"/>
<circle cx="601.2" cy="543.2" r="1.15" fill="#23983c"/>
<circle cx="599.4" cy="544.6" r="1.15" fill="#23983c"/>
<circle cx="597.0" cy="545.5" r="1.15" fill="#23983c"/>
<circle cx="588.0" cy="553.0" r="1.15" fill="#23983c"/>
<circle cx="600.4" cy="543.8" r="1.15" fill="#23983c"/>
<circle cx="594.0" cy="548.1" r="1.15" fill="#23983c"/>
<circle cx="591.2" cy="550.3" r="1.15" fill="#23983c"/>
<circle cx="598.3" cy="544.8" r="1.15" fill="#23983c"/>
<circle cx="591.7" cy="549.2" r="1.15" fill="#23983c"/>
<circle cx="600.1" cy="543.5" r="1.15" fill="#23983c"/>
<circle cx="588.8" cy="551.5" r="1.15" fill="#23983c"/>
<circle cx="601.2" cy="543.7" r="1.15" fill="#23983c"/>
<circle cx="587.6" cy="552.6" r="1.15" fill="#23983c"/>
<circle cx="587.4" cy="553.2" r="1.15" fill="#23983c"/>
<circle cx="586.6" cy="553.4" r="1.15" fill="#23983c"/>
<circle cx="585.1" cy="556.1" r="1.15" fill="#23983c"/>
<circle cx="588.4" cy="552.3" r="1.15" fill="#23983c"/>
<circle cx="585.1" cy="554.9" r="1.15" fill="#23983c"/>
<circle cx="600.8" cy="542.9" r="1.15" fill="#23983c"/>
<circle cx="587.5" cy="553.2" r="1.15" fill="#23983c"/>
<circle cx="583.9" cy="556.2" r="1.15" fill="#23983c"/>
<circle cx="592.3" cy="549.7" r="1.15" fill="#23983c"/>
<circle cx="599.4" cy="544.0" r="1.15" fill="#23983c"/>
<circle cx="597.1" cy="546.0" r="1.15" fill="#23983c"/>
<circle cx="589.6" cy="550.9" r="1.15" fill="#23983c"/>
<circle cx="583.0" cy="556.4" r="1.15" fill="#23983c"/>
<circle cx="584.9" cy="554.9" r="1.15" fill="#23983c"/>
<circle cx="590.0" cy="551.2" r="1.15" fill="#23983c"/>
<circle cx="598.8" cy="544.2" r="1.15" fill="#23983c"/>
<circle cx="588.4" cy="552.2" r="1.15" fill="#23983c"/>
<circle cx="595.2" cy="546.9" r="1.15" fill="#23983c"/>
<circle cx="588.1" cy="552.4" r="1.15" fill="#23983c"/>
<circle cx="593.8" cy="548.4" r="1.15" fill="#23983c"/>
<circle cx="588.3" cy="552.6" r="1.15" fill="#23983c"/>
<circle cx="595.1" cy="547.0" r="1.15" fill="#23983c"/>
<circle cx="596.9" cy="547.4" r="1.15" fill="#23983c"/>
<circle cx="584.1" cy="554.3" r="1.15" fill="#23983c"/>
<circle cx="595.9" cy="546.4" r="1.15" fill="#23983c"/>
<circle cx="594.6" cy="547.5" r="1.15" fill="#23983c"/>
<circle cx="585.5" cy="554.0" r="1.15" fill="#23983c"/>
<circle cx="584.2" cy="554.6" r="1.15" fill="#23983c"/>
<circle cx="590.9" cy="549.7" r="1.15" fill="#23983c"/>
<circle cx="587.7" cy="552.0" r="1.15" fill="#23983c"/>
<circle cx="595.1" cy="547.7" r="1.15" fill="#23983c"/>
<circle cx="591.1" cy="549.5" r="1.15" fill="#23983c"/>
<circle cx="602.9" cy="541.2" r="1.15" fill="#23983c"/>
<circle cx="606.9" cy="541.3" r="1.15" fill="#23983c"/>
<circle cx="601.5" cy="542.3" r="1.15" fill="#23983c"/>
<circle cx="602.4" cy="542.8" r="1.15" fill="#23983c"/>
<circle cx="608.7" cy="536.9" r="1.15" fill="#23983c"/>
<circle cx="607.1" cy="536.4" r="1.15" fill="#23983c"/>
<circle cx="602.4" cy="543.1" r="1.15" fill="#23983c"/>
<circle cx="615.4" cy="530.5" r="1.15" fill="#23983c"/>
<circle cx="609.0" cy="536.0" r="1.15" fill="#23983c"/>
<circle cx="612.3" cy="532.3" r="1.15" fill="#23983c"/>
<circle cx="610.8" cy="532.7" r="1.15" fill="#23983c"/>
<circle cx="612.8" cy="534.5" r="1.15" fill="#23983c"/>
<circle cx="493.8" cy="457.4" r="1.15" fill="#e8621e"/>
<circle cx="506.9" cy="468.8" r="1.15" fill="#e8621e"/>
<circle cx="525.1" cy="471.5" r="1.15" fill="#e8621e"/>
<circle cx="521.3" cy="477.1" r="1.15" fill="#e8621e"/>
<circle cx="479.8" cy="473.6" r="1.15" fill="#e8621e"/>
<circle cx="547.6" cy="476.5" r="1.15" fill="#e8621e"/>
<circle cx="556.3" cy="479.2" r="1.15" fill="#e8621e"/>
<circle cx="562.5" cy="479.2" r="1.15" fill="#e8621e"/>
<circle cx="566.8" cy="479.2" r="1.15" fill="#e8621e"/>
<circle cx="572.1" cy="472.3" r="1.15" fill="#e8621e"/>
<circle cx="574.7" cy="464.8" r="1.15" fill="#e8621e"/>
<circle cx="575.6" cy="468.8" r="1.15" fill="#e8621e"/>
<circle cx="574.9" cy="464.8" r="1.15" fill="#e8621e"/>
<circle cx="575.8" cy="468.7" r="1.15" fill="#e8621e"/>
<circle cx="571.9" cy="472.2" r="1.15" fill="#e8621e"/>
<circle cx="563.5" cy="478.8" r="1.15" fill="#e8621e"/>
<circle cx="567.0" cy="478.8" r="1.15" fill="#e8621e"/>
<circle cx="479.8" cy="473.2" r="1.15" fill="#e8621e"/>
<circle cx="521.0" cy="477.4" r="1.15" fill="#e8621e"/>
<circle cx="514.8" cy="482.3" r="1.15" fill="#e8621e"/>
<circle cx="523.6" cy="480.9" r="1.15" fill="#e8621e"/>
<circle cx="461.4" cy="489.6" r="1.15" fill="#e8621e"/>
<circle cx="502.6" cy="493.6" r="1.15" fill="#e8621e"/>
<circle cx="495.2" cy="502.7" r="1.15" fill="#e8621e"/>
<circle cx="469.3" cy="507.1" r="1.15" fill="#e8621e"/>
<circle cx="500.8" cy="511.5" r="1.15" fill="#e8621e"/>
<circle cx="516.6" cy="502.0" r="1.15" fill="#e8621e"/>
<circle cx="521.0" cy="494.5" r="1.15" fill="#e8621e"/>
<circle cx="525.3" cy="491.0" r="1.15" fill="#e8621e"/>
<circle cx="526.2" cy="494.5" r="1.15" fill="#e8621e"/>
<circle cx="530.6" cy="492.4" r="1.15" fill="#e8621e"/>
<circle cx="450.0" cy="520.8" r="1.15" fill="#e8621e"/>
<circle cx="441.3" cy="525.7" r="1.15" fill="#e8621e"/>
<circle cx="478.9" cy="524.6" r="1.15" fill="#e8621e"/>
<circle cx="491.2" cy="529.5" r="1.15" fill="#e8621e"/>
<circle cx="437.8" cy="540.4" r="1.15" fill="#e8621e"/>
<circle cx="495.6" cy="540.6" r="1.15" fill="#e8621e"/>
<circle cx="521.8" cy="509.9" r="1.15" fill="#e8621e"/>
<circle cx="531.1" cy="510.6" r="1.15" fill="#e8621e"/>
<circle cx="477.2" cy="563.7" r="1.15" fill="#e8621e"/>
<circle cx="530.6" cy="535.7" r="1.15" fill="#e8621e"/>
<circle cx="565.3" cy="506.4" r="1.15" fill="#e8621e"/>
<circle cx="586.9" cy="509.4" r="1.15" fill="#e8621e"/>
<circle cx="578.4" cy="513.0" r="1.15" fill="#e8621e"/>
<circle cx="637.5" cy="506.4" r="1.15" fill="#e8621e"/>
<circle cx="561.3" cy="495.3" r="1.15" fill="#e8621e"/>
<circle cx="562.6" cy="492.6" r="1.15" fill="#e8621e"/>
<circle cx="593.8" cy="487.0" r="1.15" fill="#e8621e"/>
<circle cx="586.8" cy="509.4" r="1.15" fill="#e8621e"/>
<circle cx="637.4" cy="506.5" r="1.15" fill="#e8621e"/>
<circle cx="520.0" cy="543.0" r="1.15" fill="#e8621e"/>
<circle cx="525.1" cy="471.5" r="1.15" fill="#e8621e"/>
<circle cx="521.2" cy="477.5" r="1.15" fill="#e8621e"/>
<circle cx="523.1" cy="480.7" r="1.15" fill="#e8621e"/>
<circle cx="515.0" cy="482.0" r="1.15" fill="#e8621e"/>
<circle cx="543.5" cy="478.8" r="1.15" fill="#e8621e"/>
<circle cx="547.5" cy="476.8" r="1.15" fill="#e8621e"/>
<circle cx="556.6" cy="479.2" r="1.15" fill="#e8621e"/>
<circle cx="561.9" cy="479.4" r="1.15" fill="#e8621e"/>
<circle cx="566.5" cy="479.4" r="1.15" fill="#e8621e"/>
<circle cx="556.0" cy="482.7" r="1.15" fill="#e8621e"/>
<circle cx="558.6" cy="483.4" r="1.15" fill="#e8621e"/>
<circle cx="570.4" cy="484.0" r="1.15" fill="#e8621e"/>
<circle cx="545.5" cy="486.0" r="1.15" fill="#e8621e"/>
<circle cx="549.4" cy="484.0" r="1.15" fill="#e8621e"/>
<circle cx="526.4" cy="489.9" r="1.15" fill="#e8621e"/>
<circle cx="526.4" cy="491.9" r="1.15" fill="#e8621e"/>
<circle cx="531.0" cy="491.9" r="1.15" fill="#e8621e"/>
<circle cx="537.6" cy="489.9" r="1.15" fill="#e8621e"/>
<circle cx="538.9" cy="492.6" r="1.15" fill="#e8621e"/>
<circle cx="521.2" cy="494.5" r="1.15" fill="#e8621e"/>
<circle cx="522.5" cy="495.2" r="1.15" fill="#e8621e"/>
<circle cx="529.7" cy="495.8" r="1.15" fill="#e8621e"/>
<circle cx="533.7" cy="495.2" r="1.15" fill="#e8621e"/>
<circle cx="536.9" cy="496.5" r="1.15" fill="#e8621e"/>
<circle cx="538.3" cy="499.8" r="1.15" fill="#e8621e"/>
<circle cx="534.3" cy="500.4" r="1.15" fill="#e8621e"/>
<circle cx="544.8" cy="491.2" r="1.15" fill="#e8621e"/>
<circle cx="545.5" cy="493.9" r="1.15" fill="#e8621e"/>
<circle cx="548.1" cy="495.8" r="1.15" fill="#e8621e"/>
<circle cx="550.7" cy="498.5" r="1.15" fill="#e8621e"/>
<circle cx="544.8" cy="499.8" r="1.15" fill="#e8621e"/>
<circle cx="544.2" cy="501.8" r="1.15" fill="#e8621e"/>
<circle cx="549.4" cy="503.1" r="1.15" fill="#e8621e"/>
<circle cx="555.3" cy="504.4" r="1.15" fill="#e8621e"/>
<circle cx="564.5" cy="506.4" r="1.15" fill="#e8621e"/>
<circle cx="562.6" cy="491.9" r="1.15" fill="#e8621e"/>
<circle cx="561.2" cy="496.5" r="1.15" fill="#e8621e"/>
<circle cx="516.6" cy="501.8" r="1.15" fill="#e8621e"/>
<circle cx="538.3" cy="505.7" r="1.15" fill="#e8621e"/>
<circle cx="544.8" cy="507.0" r="1.15" fill="#e8621e"/>
<circle cx="586.9" cy="508.3" r="1.15" fill="#e8621e"/>
<circle cx="571.8" cy="472.9" r="1.15" fill="#e8621e"/>
<circle cx="575.7" cy="468.3" r="1.15" fill="#e8621e"/>
<circle cx="575.0" cy="465.0" r="1.15" fill="#e8621e"/>
<circle cx="594.1" cy="486.6" r="1.15" fill="#e8621e"/>
<circle cx="534.4" cy="487.1" r="1.15" fill="#e8621e"/>
<circle cx="551.0" cy="480.2" r="1.15" fill="#e8621e"/>
<circle cx="543.7" cy="480.5" r="1.15" fill="#e8621e"/>
<circle cx="554.9" cy="495.2" r="1.15" fill="#e8621e"/>
<circle cx="557.2" cy="491.0" r="1.15" fill="#e8621e"/>
<circle cx="548.6" cy="492.3" r="1.15" fill="#e8621e"/>
<circle cx="538.4" cy="494.9" r="1.15" fill="#e8621e"/>
<circle cx="533.7" cy="491.9" r="1.15" fill="#e8621e"/>
<circle cx="551.3" cy="494.3" r="1.15" fill="#e8621e"/>
<circle cx="541.3" cy="507.1" r="1.15" fill="#e8621e"/>
<circle cx="545.5" cy="490.5" r="1.15" fill="#e8621e"/>
<circle cx="546.4" cy="490.9" r="1.15" fill="#e8621e"/>
<circle cx="541.5" cy="491.9" r="1.15" fill="#e8621e"/>
<circle cx="563.2" cy="494.1" r="1.15" fill="#e8621e"/>
<circle cx="546.6" cy="498.0" r="1.15" fill="#e8621e"/>
<circle cx="563.2" cy="492.7" r="1.15" fill="#e8621e"/>
<circle cx="539.4" cy="508.8" r="1.15" fill="#e8621e"/>
<circle cx="531.9" cy="491.8" r="1.15" fill="#e8621e"/>
<circle cx="551.0" cy="507.7" r="1.15" fill="#e8621e"/>
<circle cx="551.0" cy="490.9" r="1.15" fill="#e8621e"/>
<circle cx="541.5" cy="496.8" r="1.15" fill="#e8621e"/>
<circle cx="547.0" cy="495.7" r="1.15" fill="#e8621e"/>
<circle cx="541.1" cy="501.7" r="1.15" fill="#e8621e"/>
<circle cx="558.5" cy="494.2" r="1.15" fill="#e8621e"/>
<rect x="451.4" y="355" width="19" height="30" fill="#fff" stroke="#8a8a8a" stroke-width="0.9"/>
<circle cx="457.2" cy="362.4" r="1.1" fill="#16207c"/>
<text x="462.00" y="362.40" font-size="4.8" fill="#4a4a4a" text-anchor="start" dominant-baseline="central" stroke="#4a4a4a" stroke-width="0.15">M</text>
<circle cx="457.2" cy="369.8" r="1.1" fill="#23983c"/>
<text x="462.00" y="369.85" font-size="4.8" fill="#4a4a4a" text-anchor="start" dominant-baseline="central" stroke="#4a4a4a" stroke-width="0.15">R</text>
<circle cx="457.2" cy="377.3" r="1.1" fill="#e8621e"/>
<text x="462.00" y="377.30" font-size="4.8" fill="#4a4a4a" text-anchor="start" dominant-baseline="central" stroke="#4a4a4a" stroke-width="0.15">S</text>
</g>
</svg>
</body></html>
